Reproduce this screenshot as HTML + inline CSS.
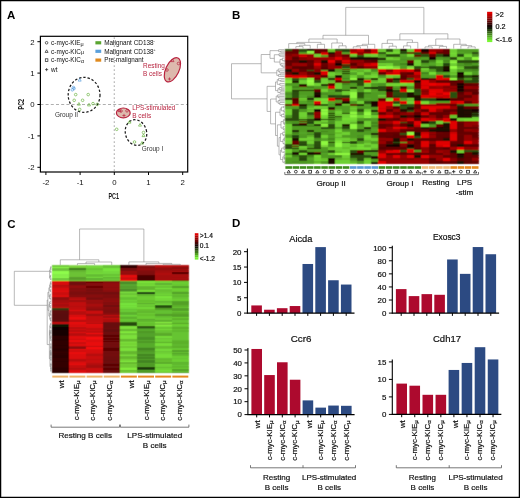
<!DOCTYPE html>
<html><head><meta charset="utf-8"><style>
html,body{margin:0;padding:0;background:#fff;}
svg{display:block;font-family:"Liberation Sans", sans-serif;}
</style></head><body>
<svg width="520" height="498" viewBox="0 0 520 498">
<defs><filter id="noop" x="0" y="0" width="100%" height="100%"><feOffset dx="0" dy="0"/></filter><filter id="hb" x="-2%" y="-2%" width="104%" height="104%"><feConvolveMatrix order="3" kernelMatrix="1 2 1 2 10 2 1 2 1" divisor="22" edgeMode="duplicate"/></filter></defs>
<g filter="url(#noop)">
<rect x="0.625" y="0.625" width="518.75" height="496.75" fill="#fff" stroke="#000" stroke-width="1.25"/>
<text x="7" y="19.2" font-size="11.5" text-anchor="start" fill="#000" font-weight="bold"  stroke="#000" stroke-width="0.0">A</text>
<text x="232" y="18.9" font-size="11.5" text-anchor="start" fill="#000" font-weight="bold"  stroke="#000" stroke-width="0.0">B</text>
<text x="7.3" y="227.8" font-size="11.5" text-anchor="start" fill="#000" font-weight="bold"  stroke="#000" stroke-width="0.0">C</text>
<text x="232" y="227.2" font-size="11.5" text-anchor="start" fill="#000" font-weight="bold"  stroke="#000" stroke-width="0.0">D</text>
<line x1="40.4" y1="104.5" x2="187.7" y2="104.5" stroke="#9a9a9a" stroke-width="0.8" stroke-dasharray="3,2.2"/>
<line x1="114.3" y1="37.3" x2="114.3" y2="172.0" stroke="#b8b8b8" stroke-width="1.2" stroke-dasharray="1.7,2.3"/>
<rect x="40.4" y="36.3" width="147.29999999999998" height="135.7" fill="none" stroke="#000" stroke-width="1.2"/>
<line x1="37.4" y1="41.7" x2="40.4" y2="41.7" stroke="#000" stroke-width="1" />
<text x="34.6" y="44.5" font-size="7.8" text-anchor="end" fill="#111" font-weight="normal"  stroke="#111" stroke-width="0.0">2</text>
<line x1="37.4" y1="73.1" x2="40.4" y2="73.1" stroke="#000" stroke-width="1" />
<text x="34.6" y="75.89999999999999" font-size="7.8" text-anchor="end" fill="#111" font-weight="normal"  stroke="#111" stroke-width="0.0">1</text>
<line x1="37.4" y1="104.5" x2="40.4" y2="104.5" stroke="#000" stroke-width="1" />
<text x="34.6" y="107.3" font-size="7.8" text-anchor="end" fill="#111" font-weight="normal"  stroke="#111" stroke-width="0.0">0</text>
<line x1="37.4" y1="135.9" x2="40.4" y2="135.9" stroke="#000" stroke-width="1" />
<text x="34.6" y="138.70000000000002" font-size="7.8" text-anchor="end" fill="#111" font-weight="normal"  stroke="#111" stroke-width="0.0">-1</text>
<line x1="37.4" y1="167.3" x2="40.4" y2="167.3" stroke="#000" stroke-width="1" />
<text x="34.6" y="170.10000000000002" font-size="7.8" text-anchor="end" fill="#111" font-weight="normal"  stroke="#111" stroke-width="0.0">-2</text>
<line x1="45.89999999999999" y1="172.0" x2="45.89999999999999" y2="175.0" stroke="#000" stroke-width="1" />
<text x="45.89999999999999" y="185.4" font-size="7.8" text-anchor="middle" fill="#111" font-weight="normal"  stroke="#111" stroke-width="0.0">-2</text>
<line x1="80.1" y1="172.0" x2="80.1" y2="175.0" stroke="#000" stroke-width="1" />
<text x="80.1" y="185.4" font-size="7.8" text-anchor="middle" fill="#111" font-weight="normal"  stroke="#111" stroke-width="0.0">-1</text>
<line x1="114.3" y1="172.0" x2="114.3" y2="175.0" stroke="#000" stroke-width="1" />
<text x="114.3" y="185.4" font-size="7.8" text-anchor="middle" fill="#111" font-weight="normal"  stroke="#111" stroke-width="0.0">0</text>
<line x1="148.5" y1="172.0" x2="148.5" y2="175.0" stroke="#000" stroke-width="1" />
<text x="148.5" y="185.4" font-size="7.8" text-anchor="middle" fill="#111" font-weight="normal"  stroke="#111" stroke-width="0.0">1</text>
<line x1="182.7" y1="172.0" x2="182.7" y2="175.0" stroke="#000" stroke-width="1" />
<text x="182.7" y="185.4" font-size="7.8" text-anchor="middle" fill="#111" font-weight="normal"  stroke="#111" stroke-width="0.0">2</text>
<text x="0" y="0" font-size="9.4" fill="#1a1a1a" font-weight="bold" text-anchor="middle" transform="translate(113.7,198.7) scale(0.58,1)" stroke="#1a1a1a" stroke-width="0.0">PC1</text>
<text x="0" y="0" font-size="9.4" fill="#1a1a1a" font-weight="bold" text-anchor="middle" transform="translate(23.9,104.2) rotate(-90) scale(0.58,1)" stroke="#1a1a1a" stroke-width="0.0">PC2</text>
<circle cx="46.6" cy="42.8" r="1.3" fill="none" stroke="#222" stroke-width="0.7"/>
<path d="M46.6,49.805 L48.095,52.42125 L45.105000000000004,52.42125 Z" fill="none" stroke="#222" stroke-width="0.7"/>
<rect x="45.300000000000004" y="58.800000000000004" width="2.6" height="2.6" fill="none" stroke="#222" stroke-width="0.7"/>
<path d="M45.04,69.6 H48.160000000000004 M46.6,68.03999999999999 V71.16" stroke="#222" stroke-width="0.7"/>
<text x="51.1" y="45.099999999999994" font-size="6.4" fill="#111" text-anchor="start"  stroke="#111" stroke-width="0.0">c-myc-KIE<tspan font-size="5.44" dy="0.77">μ</tspan></text>
<text x="51.1" y="53.599999999999994" font-size="6.4" fill="#111" text-anchor="start"  stroke="#111" stroke-width="0.0">c-myc-KIC<tspan font-size="5.44" dy="0.77">μ</tspan></text>
<text x="51.1" y="62.4" font-size="6.4" fill="#111" text-anchor="start"  stroke="#111" stroke-width="0.0">c-myc-KIC<tspan font-size="5.44" dy="0.77">α</tspan></text>
<text x="51.1" y="71.89999999999999" font-size="6.4" text-anchor="start" fill="#111" font-weight="normal"  stroke="#111" stroke-width="0.0">wt</text>
<rect x="95.40" y="41.20" width="5.80" height="3.20" fill="#5aa531" />
<rect x="95.40" y="49.70" width="5.80" height="3.20" fill="#5aa0dc" />
<rect x="95.40" y="58.50" width="5.80" height="3.20" fill="#e08a1e" />
<text x="104.2" y="45.099999999999994" font-size="6.4" fill="#111" stroke="#111" stroke-width="0.0">Malignant CD138<tspan font-size="3.4" dy="-2.9">-</tspan></text>
<text x="104.2" y="53.599999999999994" font-size="6.4" fill="#111" stroke="#111" stroke-width="0.0">Malignant CD138<tspan font-size="3.6" dy="-2.7">+</tspan></text>
<text x="104.2" y="62.4" font-size="6.3" text-anchor="start" fill="#111" font-weight="normal"  stroke="#111" stroke-width="0.0">Pre-malignant</text>
<ellipse cx="172.4" cy="69.8" rx="13" ry="6.6" transform="rotate(-65 172.4 69.8)" fill="#ddb9ad" stroke="#b8233f" stroke-width="1.2"/>
<ellipse cx="123.3" cy="112.9" rx="6.9" ry="4.9" fill="#ddb9ad" stroke="#b8233f" stroke-width="1.2"/>
<ellipse cx="84.1" cy="94.9" rx="15.9" ry="17.5" fill="none" stroke="#1a1a1a" stroke-width="1.25" stroke-dasharray="2.4,1.9"/>
<ellipse cx="136" cy="132.6" rx="10.6" ry="13" transform="rotate(-15 136 132.6)" fill="none" stroke="#1a1a1a" stroke-width="1.25" stroke-dasharray="2.4,1.9"/>
<path d="M79.7,78.505 L81.19500000000001,81.12125 L78.205,81.12125 Z" fill="none" stroke="#5a9fe0" stroke-width="0.7"/>
<circle cx="73.4" cy="87.5" r="1.3" fill="none" stroke="#5a9fe0" stroke-width="0.7"/>
<circle cx="72.3" cy="89.8" r="1.3" fill="none" stroke="#5a9fe0" stroke-width="0.7"/>
<circle cx="74.0" cy="88.6" r="1.3" fill="none" stroke="#5a9fe0" stroke-width="0.7"/>
<circle cx="75.7" cy="94.6" r="1.3" fill="none" stroke="#6cb543" stroke-width="0.7"/>
<circle cx="88.2" cy="94.6" r="1.3" fill="none" stroke="#6cb543" stroke-width="0.7"/>
<circle cx="74.2" cy="100.3" r="1.3" fill="none" stroke="#6cb543" stroke-width="0.7"/>
<circle cx="82.6" cy="100.3" r="1.3" fill="none" stroke="#6cb543" stroke-width="0.7"/>
<path d="M78.9,102.505 L80.39500000000001,105.12125 L77.405,105.12125 Z" fill="none" stroke="#6cb543" stroke-width="0.7"/>
<path d="M89.0,103.30499999999999 L90.495,105.92125 L87.505,105.92125 Z" fill="none" stroke="#6cb543" stroke-width="0.7"/>
<circle cx="93.0" cy="103.6" r="1.3" fill="none" stroke="#6cb543" stroke-width="0.7"/>
<circle cx="97.2" cy="104.4" r="1.3" fill="none" stroke="#6cb543" stroke-width="0.7"/>
<circle cx="79.7" cy="109.4" r="1.3" fill="none" stroke="#6cb543" stroke-width="0.7"/>
<circle cx="116.7" cy="129.3" r="1.3" fill="none" stroke="#6cb543" stroke-width="0.7"/>
<path d="M129.5,120.505 L130.995,123.12125 L128.005,123.12125 Z" fill="none" stroke="#6cb543" stroke-width="0.7"/>
<path d="M140.0,123.505 L141.495,126.12125 L138.505,126.12125 Z" fill="none" stroke="#6cb543" stroke-width="0.7"/>
<circle cx="143.5" cy="132.5" r="1.3" fill="none" stroke="#6cb543" stroke-width="0.7"/>
<path d="M143.5,134.005 L144.995,136.62125 L142.005,136.62125 Z" fill="none" stroke="#6cb543" stroke-width="0.7"/>
<circle cx="134.5" cy="142.0" r="1.3" fill="none" stroke="#6cb543" stroke-width="0.7"/>
<path d="M142.0,141.505 L143.495,144.12125 L140.505,144.12125 Z" fill="none" stroke="#6cb543" stroke-width="0.7"/>
<path d="M119.5,109.005 L120.995,111.62125 L118.005,111.62125 Z" fill="none" stroke="#b8233f" stroke-width="0.7"/>
<circle cx="127.0" cy="110.8" r="1.3" fill="none" stroke="#b8233f" stroke-width="0.7"/>
<path d="M122.44,115.5 H125.56 M124.0,113.94 V117.06" stroke="#b8233f" stroke-width="0.7"/>
<circle cx="121.0" cy="111.0" r="1.3" fill="none" stroke="#b8233f" stroke-width="0.7"/>
<path d="M172.5,59.005 L173.995,61.62125 L171.005,61.62125 Z" fill="none" stroke="#b8233f" stroke-width="0.7"/>
<circle cx="178.5" cy="63.5" r="1.3" fill="none" stroke="#b8233f" stroke-width="0.7"/>
<circle cx="167.0" cy="70.0" r="1.3" fill="none" stroke="#b8233f" stroke-width="0.7"/>
<path d="M167.94,79.0 H171.06 M169.5,77.44 V80.56" stroke="#b8233f" stroke-width="0.7"/>
<text x="143.0" y="67.9" font-size="6.45" text-anchor="start" fill="#b8233f" font-weight="normal"  stroke="#b8233f" stroke-width="0.0">Resting</text>
<text x="143.0" y="75.7" font-size="6.45" text-anchor="start" fill="#b8233f" font-weight="normal"  stroke="#b8233f" stroke-width="0.0">B cells</text>
<text x="132.2" y="110.1" font-size="6.35" text-anchor="start" fill="#b8233f" font-weight="normal"  stroke="#b8233f" stroke-width="0.0">LPS-stimulated</text>
<text x="132.2" y="117.7" font-size="6.45" text-anchor="start" fill="#b8233f" font-weight="normal"  stroke="#b8233f" stroke-width="0.0">B cells</text>
<text x="54.9" y="116.9" font-size="6.45" text-anchor="start" fill="#333" font-weight="normal"  stroke="#333" stroke-width="0.0">Group II</text>
<text x="141.8" y="150.7" font-size="6.45" text-anchor="start" fill="#333" font-weight="normal"  stroke="#333" stroke-width="0.0">Group I</text>
<clipPath id="cpB"><rect x="285.1" y="48.7" width="193.70" height="115.40"/></clipPath>
<g filter="url(#hb)"><g shape-rendering="crispEdges" clip-path="url(#cpB)">
<rect x="285.10" y="48.70" width="7.77" height="1.32" fill="#640303" />
<rect x="285.10" y="49.42" width="7.77" height="2.19" fill="#2a4e10" />
<rect x="285.10" y="51.01" width="7.77" height="1.18" fill="#640303" />
<rect x="285.10" y="51.59" width="7.77" height="3.48" fill="#640303" />
<rect x="285.10" y="53.03" width="7.77" height="1.74" fill="#6b0303" />
<rect x="285.10" y="54.47" width="7.77" height="3.48" fill="#960404" />
<rect x="285.10" y="54.47" width="7.77" height="1.74" fill="#810303" />
<rect x="285.10" y="57.36" width="7.77" height="3.48" fill="#960404" />
<rect x="285.10" y="58.80" width="7.77" height="1.74" fill="#a00404" />
<rect x="285.10" y="60.24" width="7.77" height="3.48" fill="#640303" />
<rect x="285.10" y="60.24" width="7.77" height="1.74" fill="#5c0202" />
<rect x="285.10" y="63.12" width="7.77" height="3.48" fill="#640303" />
<rect x="285.10" y="66.01" width="7.77" height="3.48" fill="#960404" />
<rect x="285.10" y="68.90" width="7.77" height="3.48" fill="#1e0702" />
<rect x="285.10" y="71.78" width="7.77" height="3.48" fill="#640303" />
<rect x="285.10" y="74.66" width="7.77" height="3.48" fill="#e00606" />
<rect x="285.10" y="76.11" width="7.77" height="1.74" fill="#c00505" />
<rect x="285.10" y="77.55" width="7.77" height="3.48" fill="#6ed030" />
<rect x="285.10" y="80.44" width="7.77" height="3.48" fill="#8ef840" />
<rect x="285.10" y="80.44" width="7.77" height="1.74" fill="#82e43a" />
<rect x="285.10" y="83.32" width="7.77" height="3.48" fill="#4f9c24" />
<rect x="285.10" y="84.76" width="7.77" height="1.74" fill="#54a626" />
<rect x="285.10" y="86.20" width="7.77" height="3.48" fill="#6ed030" />
<rect x="285.10" y="89.09" width="7.77" height="3.48" fill="#6ed030" />
<rect x="285.10" y="90.53" width="7.77" height="1.74" fill="#65bf2c" />
<rect x="285.10" y="91.97" width="7.77" height="3.48" fill="#4f9c24" />
<rect x="285.10" y="93.42" width="7.77" height="1.74" fill="#488f21" />
<rect x="285.10" y="94.86" width="7.77" height="3.48" fill="#4f9c24" />
<rect x="285.10" y="97.75" width="7.77" height="1.32" fill="#4f9c24" />
<rect x="285.10" y="98.47" width="7.77" height="2.19" fill="#1e0702" />
<rect x="285.10" y="100.05" width="7.77" height="1.18" fill="#6ed030" />
<rect x="285.10" y="100.63" width="7.77" height="3.48" fill="#6ed030" />
<rect x="285.10" y="103.52" width="7.77" height="1.32" fill="#6ed030" />
<rect x="285.10" y="104.24" width="7.77" height="2.19" fill="#640303" />
<rect x="285.10" y="105.82" width="7.77" height="1.18" fill="#4f9c24" />
<rect x="285.10" y="106.40" width="7.77" height="3.48" fill="#4f9c24" />
<rect x="285.10" y="106.40" width="7.77" height="1.74" fill="#54a626" />
<rect x="285.10" y="109.28" width="7.77" height="3.48" fill="#6ed030" />
<rect x="285.10" y="112.17" width="7.77" height="3.48" fill="#6ed030" />
<rect x="285.10" y="115.05" width="7.77" height="3.48" fill="#4f9c24" />
<rect x="285.10" y="117.94" width="7.77" height="3.48" fill="#2a4e10" />
<rect x="285.10" y="120.83" width="7.77" height="3.48" fill="#4f9c24" />
<rect x="285.10" y="123.71" width="7.77" height="3.48" fill="#6ed030" />
<rect x="285.10" y="126.59" width="7.77" height="3.48" fill="#6ed030" />
<rect x="285.10" y="129.48" width="7.77" height="3.48" fill="#6ed030" />
<rect x="285.10" y="132.37" width="7.77" height="3.48" fill="#6ed030" />
<rect x="285.10" y="133.81" width="7.77" height="1.74" fill="#5eb229" />
<rect x="285.10" y="135.25" width="7.77" height="3.48" fill="#4f9c24" />
<rect x="285.10" y="138.13" width="7.77" height="3.48" fill="#6ed030" />
<rect x="285.10" y="138.13" width="7.77" height="1.74" fill="#75de33" />
<rect x="285.10" y="141.02" width="7.77" height="3.48" fill="#6ed030" />
<rect x="285.10" y="143.91" width="7.77" height="3.48" fill="#2a4e10" />
<rect x="285.10" y="146.79" width="7.77" height="1.32" fill="#2a4e10" />
<rect x="285.10" y="147.51" width="7.77" height="2.19" fill="#1e0702" />
<rect x="285.10" y="149.10" width="7.77" height="1.18" fill="#6ed030" />
<rect x="285.10" y="149.68" width="7.77" height="3.48" fill="#6ed030" />
<rect x="285.10" y="152.56" width="7.77" height="3.48" fill="#4f9c24" />
<rect x="285.10" y="154.00" width="7.77" height="1.74" fill="#488f21" />
<rect x="285.10" y="155.44" width="7.77" height="3.48" fill="#6ed030" />
<rect x="285.10" y="156.89" width="7.77" height="1.74" fill="#5eb229" />
<rect x="285.10" y="158.33" width="7.77" height="3.48" fill="#4f9c24" />
<rect x="285.10" y="161.21" width="7.77" height="3.48" fill="#4f9c24" />
<rect x="285.10" y="162.66" width="7.77" height="1.74" fill="#43861e" />
<rect x="292.27" y="48.70" width="7.77" height="3.48" fill="#640303" />
<rect x="292.27" y="48.70" width="7.77" height="1.74" fill="#560202" />
<rect x="292.27" y="51.59" width="7.77" height="3.48" fill="#640303" />
<rect x="292.27" y="53.03" width="7.77" height="1.74" fill="#6b0303" />
<rect x="292.27" y="54.47" width="7.77" height="3.48" fill="#960404" />
<rect x="292.27" y="55.91" width="7.77" height="1.74" fill="#810303" />
<rect x="292.27" y="57.36" width="7.77" height="3.48" fill="#640303" />
<rect x="292.27" y="57.36" width="7.77" height="1.74" fill="#560202" />
<rect x="292.27" y="60.24" width="7.77" height="3.48" fill="#640303" />
<rect x="292.27" y="60.24" width="7.77" height="1.74" fill="#5c0202" />
<rect x="292.27" y="63.12" width="7.77" height="3.48" fill="#960404" />
<rect x="292.27" y="66.01" width="7.77" height="3.48" fill="#640303" />
<rect x="292.27" y="67.45" width="7.77" height="1.74" fill="#5c0202" />
<rect x="292.27" y="68.90" width="7.77" height="3.48" fill="#960404" />
<rect x="292.27" y="71.78" width="7.77" height="3.48" fill="#1e0702" />
<rect x="292.27" y="74.66" width="7.77" height="3.48" fill="#e00606" />
<rect x="292.27" y="74.66" width="7.77" height="1.74" fill="#c00505" />
<rect x="292.27" y="77.55" width="7.77" height="1.32" fill="#e00606" />
<rect x="292.27" y="78.27" width="7.77" height="2.19" fill="#2a4e10" />
<rect x="292.27" y="79.86" width="7.77" height="1.18" fill="#1e0702" />
<rect x="292.27" y="80.44" width="7.77" height="1.32" fill="#2a4e10" />
<rect x="292.27" y="81.16" width="7.77" height="2.19" fill="#1e0702" />
<rect x="292.27" y="82.74" width="7.77" height="1.18" fill="#4f9c24" />
<rect x="292.27" y="83.32" width="7.77" height="3.48" fill="#4f9c24" />
<rect x="292.27" y="86.20" width="7.77" height="3.48" fill="#4f9c24" />
<rect x="292.27" y="86.20" width="7.77" height="1.74" fill="#43861e" />
<rect x="292.27" y="89.09" width="7.77" height="1.32" fill="#4f9c24" />
<rect x="292.27" y="89.81" width="7.77" height="2.19" fill="#1e0702" />
<rect x="292.27" y="91.40" width="7.77" height="1.18" fill="#2a4e10" />
<rect x="292.27" y="91.97" width="7.77" height="3.48" fill="#2a4e10" />
<rect x="292.27" y="94.86" width="7.77" height="3.48" fill="#2a4e10" />
<rect x="292.27" y="94.86" width="7.77" height="1.74" fill="#2c5311" />
<rect x="292.27" y="97.75" width="7.77" height="3.48" fill="#640303" />
<rect x="292.27" y="99.19" width="7.77" height="1.74" fill="#560202" />
<rect x="292.27" y="100.63" width="7.77" height="3.48" fill="#640303" />
<rect x="292.27" y="103.52" width="7.77" height="3.48" fill="#e00606" />
<rect x="292.27" y="104.96" width="7.77" height="1.74" fill="#ce0505" />
<rect x="292.27" y="106.40" width="7.77" height="3.48" fill="#4f9c24" />
<rect x="292.27" y="109.28" width="7.77" height="3.48" fill="#2a4e10" />
<rect x="292.27" y="109.28" width="7.77" height="1.74" fill="#2c5311" />
<rect x="292.27" y="112.17" width="7.77" height="3.48" fill="#2a4e10" />
<rect x="292.27" y="115.05" width="7.77" height="3.48" fill="#2a4e10" />
<rect x="292.27" y="117.94" width="7.77" height="3.48" fill="#2a4e10" />
<rect x="292.27" y="120.83" width="7.77" height="3.48" fill="#4f9c24" />
<rect x="292.27" y="122.27" width="7.77" height="1.74" fill="#488f21" />
<rect x="292.27" y="123.71" width="7.77" height="1.32" fill="#4f9c24" />
<rect x="292.27" y="124.43" width="7.77" height="2.19" fill="#1e0702" />
<rect x="292.27" y="126.02" width="7.77" height="1.18" fill="#4f9c24" />
<rect x="292.27" y="126.59" width="7.77" height="1.32" fill="#1e0702" />
<rect x="292.27" y="127.32" width="7.77" height="2.19" fill="#4f9c24" />
<rect x="292.27" y="128.90" width="7.77" height="1.18" fill="#1e0702" />
<rect x="292.27" y="129.48" width="7.77" height="1.32" fill="#4f9c24" />
<rect x="292.27" y="130.20" width="7.77" height="2.19" fill="#1e0702" />
<rect x="292.27" y="131.79" width="7.77" height="1.18" fill="#4f9c24" />
<rect x="292.27" y="132.37" width="7.77" height="3.48" fill="#4f9c24" />
<rect x="292.27" y="132.37" width="7.77" height="1.74" fill="#43861e" />
<rect x="292.27" y="135.25" width="7.77" height="3.48" fill="#2a4e10" />
<rect x="292.27" y="135.25" width="7.77" height="1.74" fill="#24430d" />
<rect x="292.27" y="138.13" width="7.77" height="3.48" fill="#1e0702" />
<rect x="292.27" y="141.02" width="7.77" height="3.48" fill="#640303" />
<rect x="292.27" y="141.02" width="7.77" height="1.74" fill="#6b0303" />
<rect x="292.27" y="143.91" width="7.77" height="1.32" fill="#640303" />
<rect x="292.27" y="144.63" width="7.77" height="2.19" fill="#4f9c24" />
<rect x="292.27" y="146.21" width="7.77" height="1.18" fill="#640303" />
<rect x="292.27" y="146.79" width="7.77" height="1.32" fill="#4f9c24" />
<rect x="292.27" y="147.51" width="7.77" height="2.19" fill="#1e0702" />
<rect x="292.27" y="149.10" width="7.77" height="1.18" fill="#4f9c24" />
<rect x="292.27" y="149.68" width="7.77" height="1.32" fill="#640303" />
<rect x="292.27" y="150.40" width="7.77" height="2.19" fill="#4f9c24" />
<rect x="292.27" y="151.98" width="7.77" height="1.18" fill="#1e0702" />
<rect x="292.27" y="152.56" width="7.77" height="1.32" fill="#4f9c24" />
<rect x="292.27" y="153.28" width="7.77" height="2.19" fill="#1e0702" />
<rect x="292.27" y="154.87" width="7.77" height="1.18" fill="#4f9c24" />
<rect x="292.27" y="155.44" width="7.77" height="3.48" fill="#4f9c24" />
<rect x="292.27" y="155.44" width="7.77" height="1.74" fill="#43861e" />
<rect x="292.27" y="158.33" width="7.77" height="3.48" fill="#4f9c24" />
<rect x="292.27" y="161.21" width="7.77" height="3.48" fill="#4f9c24" />
<rect x="292.27" y="161.21" width="7.77" height="1.74" fill="#488f21" />
<rect x="299.45" y="48.70" width="7.77" height="3.48" fill="#2a4e10" />
<rect x="299.45" y="51.59" width="7.77" height="3.48" fill="#4f9c24" />
<rect x="299.45" y="54.47" width="7.77" height="3.48" fill="#e00606" />
<rect x="299.45" y="54.47" width="7.77" height="1.74" fill="#c00505" />
<rect x="299.45" y="57.36" width="7.77" height="3.48" fill="#960404" />
<rect x="299.45" y="57.36" width="7.77" height="1.74" fill="#810303" />
<rect x="299.45" y="60.24" width="7.77" height="3.48" fill="#1e0702" />
<rect x="299.45" y="61.68" width="7.77" height="1.74" fill="#190601" />
<rect x="299.45" y="63.12" width="7.77" height="3.48" fill="#960404" />
<rect x="299.45" y="64.57" width="7.77" height="1.74" fill="#a00404" />
<rect x="299.45" y="66.01" width="7.77" height="3.48" fill="#640303" />
<rect x="299.45" y="67.45" width="7.77" height="1.74" fill="#560202" />
<rect x="299.45" y="68.90" width="7.77" height="3.48" fill="#640303" />
<rect x="299.45" y="71.78" width="7.77" height="3.48" fill="#960404" />
<rect x="299.45" y="74.66" width="7.77" height="3.48" fill="#e00606" />
<rect x="299.45" y="74.66" width="7.77" height="1.74" fill="#c00505" />
<rect x="299.45" y="77.55" width="7.77" height="3.48" fill="#4f9c24" />
<rect x="299.45" y="80.44" width="7.77" height="3.48" fill="#6ed030" />
<rect x="299.45" y="83.32" width="7.77" height="1.32" fill="#6ed030" />
<rect x="299.45" y="84.04" width="7.77" height="2.19" fill="#1e0702" />
<rect x="299.45" y="85.63" width="7.77" height="1.18" fill="#4f9c24" />
<rect x="299.45" y="86.20" width="7.77" height="1.32" fill="#640303" />
<rect x="299.45" y="86.93" width="7.77" height="2.19" fill="#4f9c24" />
<rect x="299.45" y="88.51" width="7.77" height="1.18" fill="#1e0702" />
<rect x="299.45" y="89.09" width="7.77" height="1.32" fill="#4f9c24" />
<rect x="299.45" y="89.81" width="7.77" height="2.19" fill="#1e0702" />
<rect x="299.45" y="91.40" width="7.77" height="1.18" fill="#4f9c24" />
<rect x="299.45" y="91.97" width="7.77" height="3.48" fill="#4f9c24" />
<rect x="299.45" y="94.86" width="7.77" height="3.48" fill="#4f9c24" />
<rect x="299.45" y="94.86" width="7.77" height="1.74" fill="#54a626" />
<rect x="299.45" y="97.75" width="7.77" height="3.48" fill="#6ed030" />
<rect x="299.45" y="99.19" width="7.77" height="1.74" fill="#65bf2c" />
<rect x="299.45" y="100.63" width="7.77" height="3.48" fill="#4f9c24" />
<rect x="299.45" y="102.07" width="7.77" height="1.74" fill="#54a626" />
<rect x="299.45" y="103.52" width="7.77" height="1.32" fill="#4f9c24" />
<rect x="299.45" y="104.24" width="7.77" height="2.19" fill="#1e0702" />
<rect x="299.45" y="105.82" width="7.77" height="1.18" fill="#2a4e10" />
<rect x="299.45" y="106.40" width="7.77" height="3.48" fill="#2a4e10" />
<rect x="299.45" y="107.84" width="7.77" height="1.74" fill="#24430d" />
<rect x="299.45" y="109.28" width="7.77" height="3.48" fill="#4f9c24" />
<rect x="299.45" y="110.73" width="7.77" height="1.74" fill="#488f21" />
<rect x="299.45" y="112.17" width="7.77" height="3.48" fill="#6ed030" />
<rect x="299.45" y="115.05" width="7.77" height="3.48" fill="#6ed030" />
<rect x="299.45" y="116.50" width="7.77" height="1.74" fill="#65bf2c" />
<rect x="299.45" y="117.94" width="7.77" height="1.32" fill="#6ed030" />
<rect x="299.45" y="118.66" width="7.77" height="2.19" fill="#1e0702" />
<rect x="299.45" y="120.25" width="7.77" height="1.18" fill="#4f9c24" />
<rect x="299.45" y="120.83" width="7.77" height="1.32" fill="#640303" />
<rect x="299.45" y="121.55" width="7.77" height="2.19" fill="#4f9c24" />
<rect x="299.45" y="123.13" width="7.77" height="1.18" fill="#640303" />
<rect x="299.45" y="123.71" width="7.77" height="1.32" fill="#4f9c24" />
<rect x="299.45" y="124.43" width="7.77" height="2.19" fill="#1e0702" />
<rect x="299.45" y="126.02" width="7.77" height="1.18" fill="#4f9c24" />
<rect x="299.45" y="126.59" width="7.77" height="3.48" fill="#4f9c24" />
<rect x="299.45" y="129.48" width="7.77" height="3.48" fill="#4f9c24" />
<rect x="299.45" y="132.37" width="7.77" height="3.48" fill="#4f9c24" />
<rect x="299.45" y="132.37" width="7.77" height="1.74" fill="#54a626" />
<rect x="299.45" y="135.25" width="7.77" height="3.48" fill="#4f9c24" />
<rect x="299.45" y="136.69" width="7.77" height="1.74" fill="#488f21" />
<rect x="299.45" y="138.13" width="7.77" height="3.48" fill="#6ed030" />
<rect x="299.45" y="139.58" width="7.77" height="1.74" fill="#65bf2c" />
<rect x="299.45" y="141.02" width="7.77" height="3.48" fill="#2a4e10" />
<rect x="299.45" y="143.91" width="7.77" height="1.32" fill="#2a4e10" />
<rect x="299.45" y="144.63" width="7.77" height="2.19" fill="#1e0702" />
<rect x="299.45" y="146.21" width="7.77" height="1.18" fill="#6ed030" />
<rect x="299.45" y="146.79" width="7.77" height="3.48" fill="#6ed030" />
<rect x="299.45" y="148.23" width="7.77" height="1.74" fill="#65bf2c" />
<rect x="299.45" y="149.68" width="7.77" height="3.48" fill="#2a4e10" />
<rect x="299.45" y="149.68" width="7.77" height="1.74" fill="#26470e" />
<rect x="299.45" y="152.56" width="7.77" height="3.48" fill="#6ed030" />
<rect x="299.45" y="152.56" width="7.77" height="1.74" fill="#75de33" />
<rect x="299.45" y="155.44" width="7.77" height="3.48" fill="#2a4e10" />
<rect x="299.45" y="156.89" width="7.77" height="1.74" fill="#2c5311" />
<rect x="299.45" y="158.33" width="7.77" height="3.48" fill="#2a4e10" />
<rect x="299.45" y="158.33" width="7.77" height="1.74" fill="#26470e" />
<rect x="299.45" y="161.21" width="7.77" height="3.48" fill="#4f9c24" />
<rect x="299.45" y="162.66" width="7.77" height="1.74" fill="#43861e" />
<rect x="306.62" y="48.70" width="7.77" height="1.32" fill="#8ef840" />
<rect x="306.62" y="49.42" width="7.77" height="2.19" fill="#1e0702" />
<rect x="306.62" y="51.01" width="7.77" height="1.18" fill="#8ef840" />
<rect x="306.62" y="51.59" width="7.77" height="3.48" fill="#8ef840" />
<rect x="306.62" y="53.03" width="7.77" height="1.74" fill="#7ad537" />
<rect x="306.62" y="54.47" width="7.77" height="3.48" fill="#960404" />
<rect x="306.62" y="57.36" width="7.77" height="3.48" fill="#960404" />
<rect x="306.62" y="60.24" width="7.77" height="3.48" fill="#640303" />
<rect x="306.62" y="60.24" width="7.77" height="1.74" fill="#5c0202" />
<rect x="306.62" y="63.12" width="7.77" height="3.48" fill="#640303" />
<rect x="306.62" y="63.12" width="7.77" height="1.74" fill="#6b0303" />
<rect x="306.62" y="66.01" width="7.77" height="3.48" fill="#640303" />
<rect x="306.62" y="66.01" width="7.77" height="1.74" fill="#5c0202" />
<rect x="306.62" y="68.90" width="7.77" height="1.32" fill="#640303" />
<rect x="306.62" y="69.62" width="7.77" height="2.19" fill="#2a4e10" />
<rect x="306.62" y="71.20" width="7.77" height="1.18" fill="#640303" />
<rect x="306.62" y="71.78" width="7.77" height="3.48" fill="#640303" />
<rect x="306.62" y="74.66" width="7.77" height="3.48" fill="#960404" />
<rect x="306.62" y="77.55" width="7.77" height="3.48" fill="#8ef840" />
<rect x="306.62" y="78.99" width="7.77" height="1.74" fill="#82e43a" />
<rect x="306.62" y="80.44" width="7.77" height="3.48" fill="#8ef840" />
<rect x="306.62" y="80.44" width="7.77" height="1.74" fill="#97ff44" />
<rect x="306.62" y="83.32" width="7.77" height="3.48" fill="#8ef840" />
<rect x="306.62" y="84.76" width="7.77" height="1.74" fill="#7ad537" />
<rect x="306.62" y="86.20" width="7.77" height="3.48" fill="#4f9c24" />
<rect x="306.62" y="86.20" width="7.77" height="1.74" fill="#43861e" />
<rect x="306.62" y="89.09" width="7.77" height="1.32" fill="#4f9c24" />
<rect x="306.62" y="89.81" width="7.77" height="2.19" fill="#1e0702" />
<rect x="306.62" y="91.40" width="7.77" height="1.18" fill="#4f9c24" />
<rect x="306.62" y="91.97" width="7.77" height="3.48" fill="#4f9c24" />
<rect x="306.62" y="94.86" width="7.77" height="3.48" fill="#4f9c24" />
<rect x="306.62" y="96.30" width="7.77" height="1.74" fill="#43861e" />
<rect x="306.62" y="97.75" width="7.77" height="1.32" fill="#4f9c24" />
<rect x="306.62" y="98.47" width="7.77" height="2.19" fill="#1e0702" />
<rect x="306.62" y="100.05" width="7.77" height="1.18" fill="#4f9c24" />
<rect x="306.62" y="100.63" width="7.77" height="3.48" fill="#4f9c24" />
<rect x="306.62" y="100.63" width="7.77" height="1.74" fill="#43861e" />
<rect x="306.62" y="103.52" width="7.77" height="3.48" fill="#4f9c24" />
<rect x="306.62" y="103.52" width="7.77" height="1.74" fill="#43861e" />
<rect x="306.62" y="106.40" width="7.77" height="3.48" fill="#6ed030" />
<rect x="306.62" y="106.40" width="7.77" height="1.74" fill="#5eb229" />
<rect x="306.62" y="109.28" width="7.77" height="3.48" fill="#6ed030" />
<rect x="306.62" y="109.28" width="7.77" height="1.74" fill="#5eb229" />
<rect x="306.62" y="112.17" width="7.77" height="3.48" fill="#2a4e10" />
<rect x="306.62" y="112.17" width="7.77" height="1.74" fill="#2c5311" />
<rect x="306.62" y="115.05" width="7.77" height="3.48" fill="#4f9c24" />
<rect x="306.62" y="115.05" width="7.77" height="1.74" fill="#488f21" />
<rect x="306.62" y="117.94" width="7.77" height="1.32" fill="#4f9c24" />
<rect x="306.62" y="118.66" width="7.77" height="2.19" fill="#1e0702" />
<rect x="306.62" y="120.25" width="7.77" height="1.18" fill="#2a4e10" />
<rect x="306.62" y="120.83" width="7.77" height="3.48" fill="#2a4e10" />
<rect x="306.62" y="122.27" width="7.77" height="1.74" fill="#24430d" />
<rect x="306.62" y="123.71" width="7.77" height="3.48" fill="#4f9c24" />
<rect x="306.62" y="125.15" width="7.77" height="1.74" fill="#43861e" />
<rect x="306.62" y="126.59" width="7.77" height="3.48" fill="#4f9c24" />
<rect x="306.62" y="126.59" width="7.77" height="1.74" fill="#54a626" />
<rect x="306.62" y="129.48" width="7.77" height="1.32" fill="#4f9c24" />
<rect x="306.62" y="130.20" width="7.77" height="2.19" fill="#1e0702" />
<rect x="306.62" y="131.79" width="7.77" height="1.18" fill="#4f9c24" />
<rect x="306.62" y="132.37" width="7.77" height="3.48" fill="#4f9c24" />
<rect x="306.62" y="133.81" width="7.77" height="1.74" fill="#43861e" />
<rect x="306.62" y="135.25" width="7.77" height="3.48" fill="#6ed030" />
<rect x="306.62" y="135.25" width="7.77" height="1.74" fill="#5eb229" />
<rect x="306.62" y="138.13" width="7.77" height="3.48" fill="#6ed030" />
<rect x="306.62" y="139.58" width="7.77" height="1.74" fill="#65bf2c" />
<rect x="306.62" y="141.02" width="7.77" height="3.48" fill="#6ed030" />
<rect x="306.62" y="143.91" width="7.77" height="3.48" fill="#4f9c24" />
<rect x="306.62" y="143.91" width="7.77" height="1.74" fill="#488f21" />
<rect x="306.62" y="146.79" width="7.77" height="1.32" fill="#4f9c24" />
<rect x="306.62" y="147.51" width="7.77" height="2.19" fill="#1e0702" />
<rect x="306.62" y="149.10" width="7.77" height="1.18" fill="#4f9c24" />
<rect x="306.62" y="149.68" width="7.77" height="1.32" fill="#640303" />
<rect x="306.62" y="150.40" width="7.77" height="2.19" fill="#4f9c24" />
<rect x="306.62" y="151.98" width="7.77" height="1.18" fill="#1e0702" />
<rect x="306.62" y="152.56" width="7.77" height="1.32" fill="#4f9c24" />
<rect x="306.62" y="153.28" width="7.77" height="2.19" fill="#1e0702" />
<rect x="306.62" y="154.87" width="7.77" height="1.18" fill="#4f9c24" />
<rect x="306.62" y="155.44" width="7.77" height="3.48" fill="#4f9c24" />
<rect x="306.62" y="155.44" width="7.77" height="1.74" fill="#43861e" />
<rect x="306.62" y="158.33" width="7.77" height="3.48" fill="#4f9c24" />
<rect x="306.62" y="158.33" width="7.77" height="1.74" fill="#54a626" />
<rect x="306.62" y="161.21" width="7.77" height="3.48" fill="#4f9c24" />
<rect x="313.80" y="48.70" width="7.77" height="3.48" fill="#640303" />
<rect x="313.80" y="48.70" width="7.77" height="1.74" fill="#560202" />
<rect x="313.80" y="51.59" width="7.77" height="3.48" fill="#640303" />
<rect x="313.80" y="53.03" width="7.77" height="1.74" fill="#5c0202" />
<rect x="313.80" y="54.47" width="7.77" height="3.48" fill="#6ed030" />
<rect x="313.80" y="57.36" width="7.77" height="3.48" fill="#960404" />
<rect x="313.80" y="58.80" width="7.77" height="1.74" fill="#8a0303" />
<rect x="313.80" y="60.24" width="7.77" height="3.48" fill="#960404" />
<rect x="313.80" y="60.24" width="7.77" height="1.74" fill="#a00404" />
<rect x="313.80" y="63.12" width="7.77" height="3.48" fill="#e00606" />
<rect x="313.80" y="64.57" width="7.77" height="1.74" fill="#ce0505" />
<rect x="313.80" y="66.01" width="7.77" height="3.48" fill="#960404" />
<rect x="313.80" y="66.01" width="7.77" height="1.74" fill="#a00404" />
<rect x="313.80" y="68.90" width="7.77" height="3.48" fill="#960404" />
<rect x="313.80" y="68.90" width="7.77" height="1.74" fill="#810303" />
<rect x="313.80" y="71.78" width="7.77" height="3.48" fill="#1e0702" />
<rect x="313.80" y="74.66" width="7.77" height="3.48" fill="#960404" />
<rect x="313.80" y="77.55" width="7.77" height="3.48" fill="#640303" />
<rect x="313.80" y="80.44" width="7.77" height="3.48" fill="#2a4e10" />
<rect x="313.80" y="81.88" width="7.77" height="1.74" fill="#2c5311" />
<rect x="313.80" y="83.32" width="7.77" height="3.48" fill="#6ed030" />
<rect x="313.80" y="86.20" width="7.77" height="3.48" fill="#4f9c24" />
<rect x="313.80" y="89.09" width="7.77" height="3.48" fill="#640303" />
<rect x="313.80" y="91.97" width="7.77" height="3.48" fill="#1e0702" />
<rect x="313.80" y="94.86" width="7.77" height="3.48" fill="#1e0702" />
<rect x="313.80" y="94.86" width="7.77" height="1.74" fill="#1b0601" />
<rect x="313.80" y="97.75" width="7.77" height="3.48" fill="#6ed030" />
<rect x="313.80" y="100.63" width="7.77" height="3.48" fill="#e00606" />
<rect x="313.80" y="103.52" width="7.77" height="3.48" fill="#640303" />
<rect x="313.80" y="106.40" width="7.77" height="3.48" fill="#6ed030" />
<rect x="313.80" y="109.28" width="7.77" height="3.48" fill="#1e0702" />
<rect x="313.80" y="109.28" width="7.77" height="1.74" fill="#190601" />
<rect x="313.80" y="112.17" width="7.77" height="3.48" fill="#960404" />
<rect x="313.80" y="113.61" width="7.77" height="1.74" fill="#8a0303" />
<rect x="313.80" y="115.05" width="7.77" height="3.48" fill="#960404" />
<rect x="313.80" y="117.94" width="7.77" height="3.48" fill="#1e0702" />
<rect x="313.80" y="119.38" width="7.77" height="1.74" fill="#1b0601" />
<rect x="313.80" y="120.83" width="7.77" height="3.48" fill="#6ed030" />
<rect x="313.80" y="120.83" width="7.77" height="1.74" fill="#65bf2c" />
<rect x="313.80" y="123.71" width="7.77" height="1.32" fill="#6ed030" />
<rect x="313.80" y="124.43" width="7.77" height="2.19" fill="#1e0702" />
<rect x="313.80" y="126.02" width="7.77" height="1.18" fill="#4f9c24" />
<rect x="313.80" y="126.59" width="7.77" height="3.48" fill="#4f9c24" />
<rect x="313.80" y="129.48" width="7.77" height="3.48" fill="#4f9c24" />
<rect x="313.80" y="130.92" width="7.77" height="1.74" fill="#54a626" />
<rect x="313.80" y="132.37" width="7.77" height="3.48" fill="#2a4e10" />
<rect x="313.80" y="133.81" width="7.77" height="1.74" fill="#24430d" />
<rect x="313.80" y="135.25" width="7.77" height="3.48" fill="#2a4e10" />
<rect x="313.80" y="135.25" width="7.77" height="1.74" fill="#26470e" />
<rect x="313.80" y="138.13" width="7.77" height="3.48" fill="#4f9c24" />
<rect x="313.80" y="138.13" width="7.77" height="1.74" fill="#488f21" />
<rect x="313.80" y="141.02" width="7.77" height="3.48" fill="#2a4e10" />
<rect x="313.80" y="142.46" width="7.77" height="1.74" fill="#2c5311" />
<rect x="313.80" y="143.91" width="7.77" height="3.48" fill="#2a4e10" />
<rect x="313.80" y="146.79" width="7.77" height="1.32" fill="#2a4e10" />
<rect x="313.80" y="147.51" width="7.77" height="2.19" fill="#1e0702" />
<rect x="313.80" y="149.10" width="7.77" height="1.18" fill="#4f9c24" />
<rect x="313.80" y="149.68" width="7.77" height="1.32" fill="#1e0702" />
<rect x="313.80" y="150.40" width="7.77" height="2.19" fill="#4f9c24" />
<rect x="313.80" y="151.98" width="7.77" height="1.18" fill="#640303" />
<rect x="313.80" y="152.56" width="7.77" height="1.32" fill="#4f9c24" />
<rect x="313.80" y="153.28" width="7.77" height="2.19" fill="#1e0702" />
<rect x="313.80" y="154.87" width="7.77" height="1.18" fill="#6ed030" />
<rect x="313.80" y="155.44" width="7.77" height="3.48" fill="#6ed030" />
<rect x="313.80" y="155.44" width="7.77" height="1.74" fill="#75de33" />
<rect x="313.80" y="158.33" width="7.77" height="3.48" fill="#6ed030" />
<rect x="313.80" y="161.21" width="7.77" height="3.48" fill="#6ed030" />
<rect x="313.80" y="161.21" width="7.77" height="1.74" fill="#5eb229" />
<rect x="320.97" y="48.70" width="7.77" height="3.48" fill="#640303" />
<rect x="320.97" y="48.70" width="7.77" height="1.74" fill="#560202" />
<rect x="320.97" y="51.59" width="7.77" height="3.48" fill="#e00606" />
<rect x="320.97" y="51.59" width="7.77" height="1.74" fill="#c00505" />
<rect x="320.97" y="54.47" width="7.77" height="1.32" fill="#e00606" />
<rect x="320.97" y="55.19" width="7.77" height="2.19" fill="#4f9c24" />
<rect x="320.97" y="56.78" width="7.77" height="1.18" fill="#960404" />
<rect x="320.97" y="57.36" width="7.77" height="3.48" fill="#960404" />
<rect x="320.97" y="60.24" width="7.77" height="3.48" fill="#1e0702" />
<rect x="320.97" y="61.68" width="7.77" height="1.74" fill="#1b0601" />
<rect x="320.97" y="63.12" width="7.77" height="3.48" fill="#640303" />
<rect x="320.97" y="63.12" width="7.77" height="1.74" fill="#6b0303" />
<rect x="320.97" y="66.01" width="7.77" height="3.48" fill="#640303" />
<rect x="320.97" y="67.45" width="7.77" height="1.74" fill="#560202" />
<rect x="320.97" y="68.90" width="7.77" height="1.32" fill="#640303" />
<rect x="320.97" y="69.62" width="7.77" height="2.19" fill="#4f9c24" />
<rect x="320.97" y="71.20" width="7.77" height="1.18" fill="#e00606" />
<rect x="320.97" y="71.78" width="7.77" height="3.48" fill="#e00606" />
<rect x="320.97" y="74.66" width="7.77" height="3.48" fill="#640303" />
<rect x="320.97" y="76.11" width="7.77" height="1.74" fill="#6b0303" />
<rect x="320.97" y="77.55" width="7.77" height="3.48" fill="#6ed030" />
<rect x="320.97" y="77.55" width="7.77" height="1.74" fill="#65bf2c" />
<rect x="320.97" y="80.44" width="7.77" height="3.48" fill="#6ed030" />
<rect x="320.97" y="83.32" width="7.77" height="1.32" fill="#6ed030" />
<rect x="320.97" y="84.04" width="7.77" height="2.19" fill="#1e0702" />
<rect x="320.97" y="85.63" width="7.77" height="1.18" fill="#4f9c24" />
<rect x="320.97" y="86.20" width="7.77" height="3.48" fill="#4f9c24" />
<rect x="320.97" y="87.65" width="7.77" height="1.74" fill="#54a626" />
<rect x="320.97" y="89.09" width="7.77" height="3.48" fill="#6ed030" />
<rect x="320.97" y="91.97" width="7.77" height="3.48" fill="#4f9c24" />
<rect x="320.97" y="93.42" width="7.77" height="1.74" fill="#488f21" />
<rect x="320.97" y="94.86" width="7.77" height="3.48" fill="#4f9c24" />
<rect x="320.97" y="94.86" width="7.77" height="1.74" fill="#54a626" />
<rect x="320.97" y="97.75" width="7.77" height="3.48" fill="#6ed030" />
<rect x="320.97" y="99.19" width="7.77" height="1.74" fill="#75de33" />
<rect x="320.97" y="100.63" width="7.77" height="3.48" fill="#6ed030" />
<rect x="320.97" y="102.07" width="7.77" height="1.74" fill="#75de33" />
<rect x="320.97" y="103.52" width="7.77" height="3.48" fill="#2a4e10" />
<rect x="320.97" y="103.52" width="7.77" height="1.74" fill="#26470e" />
<rect x="320.97" y="106.40" width="7.77" height="3.48" fill="#6ed030" />
<rect x="320.97" y="107.84" width="7.77" height="1.74" fill="#65bf2c" />
<rect x="320.97" y="109.28" width="7.77" height="3.48" fill="#8ef840" />
<rect x="320.97" y="110.73" width="7.77" height="1.74" fill="#82e43a" />
<rect x="320.97" y="112.17" width="7.77" height="3.48" fill="#8ef840" />
<rect x="320.97" y="115.05" width="7.77" height="3.48" fill="#6ed030" />
<rect x="320.97" y="115.05" width="7.77" height="1.74" fill="#75de33" />
<rect x="320.97" y="117.94" width="7.77" height="1.32" fill="#6ed030" />
<rect x="320.97" y="118.66" width="7.77" height="2.19" fill="#1e0702" />
<rect x="320.97" y="120.25" width="7.77" height="1.18" fill="#6ed030" />
<rect x="320.97" y="120.83" width="7.77" height="3.48" fill="#6ed030" />
<rect x="320.97" y="122.27" width="7.77" height="1.74" fill="#5eb229" />
<rect x="320.97" y="123.71" width="7.77" height="3.48" fill="#8ef840" />
<rect x="320.97" y="125.15" width="7.77" height="1.74" fill="#82e43a" />
<rect x="320.97" y="126.59" width="7.77" height="3.48" fill="#2a4e10" />
<rect x="320.97" y="128.04" width="7.77" height="1.74" fill="#24430d" />
<rect x="320.97" y="129.48" width="7.77" height="3.48" fill="#4f9c24" />
<rect x="320.97" y="130.92" width="7.77" height="1.74" fill="#43861e" />
<rect x="320.97" y="132.37" width="7.77" height="3.48" fill="#4f9c24" />
<rect x="320.97" y="135.25" width="7.77" height="3.48" fill="#6ed030" />
<rect x="320.97" y="138.13" width="7.77" height="3.48" fill="#4f9c24" />
<rect x="320.97" y="138.13" width="7.77" height="1.74" fill="#54a626" />
<rect x="320.97" y="141.02" width="7.77" height="3.48" fill="#8ef840" />
<rect x="320.97" y="143.91" width="7.77" height="3.48" fill="#8ef840" />
<rect x="320.97" y="145.35" width="7.77" height="1.74" fill="#7ad537" />
<rect x="320.97" y="146.79" width="7.77" height="3.48" fill="#4f9c24" />
<rect x="320.97" y="149.68" width="7.77" height="3.48" fill="#4f9c24" />
<rect x="320.97" y="151.12" width="7.77" height="1.74" fill="#488f21" />
<rect x="320.97" y="152.56" width="7.77" height="3.48" fill="#4f9c24" />
<rect x="320.97" y="152.56" width="7.77" height="1.74" fill="#54a626" />
<rect x="320.97" y="155.44" width="7.77" height="3.48" fill="#4f9c24" />
<rect x="320.97" y="158.33" width="7.77" height="3.48" fill="#6ed030" />
<rect x="320.97" y="158.33" width="7.77" height="1.74" fill="#65bf2c" />
<rect x="320.97" y="161.21" width="7.77" height="3.48" fill="#4f9c24" />
<rect x="328.14" y="48.70" width="7.77" height="3.48" fill="#6ed030" />
<rect x="328.14" y="50.14" width="7.77" height="1.74" fill="#65bf2c" />
<rect x="328.14" y="51.59" width="7.77" height="3.48" fill="#1e0702" />
<rect x="328.14" y="54.47" width="7.77" height="3.48" fill="#640303" />
<rect x="328.14" y="55.91" width="7.77" height="1.74" fill="#560202" />
<rect x="328.14" y="57.36" width="7.77" height="3.48" fill="#960404" />
<rect x="328.14" y="57.36" width="7.77" height="1.74" fill="#a00404" />
<rect x="328.14" y="60.24" width="7.77" height="3.48" fill="#e00606" />
<rect x="328.14" y="60.24" width="7.77" height="1.74" fill="#ef0606" />
<rect x="328.14" y="63.12" width="7.77" height="3.48" fill="#960404" />
<rect x="328.14" y="63.12" width="7.77" height="1.74" fill="#a00404" />
<rect x="328.14" y="66.01" width="7.77" height="3.48" fill="#960404" />
<rect x="328.14" y="68.90" width="7.77" height="3.48" fill="#1e0702" />
<rect x="328.14" y="71.78" width="7.77" height="3.48" fill="#6ed030" />
<rect x="328.14" y="74.66" width="7.77" height="3.48" fill="#6ed030" />
<rect x="328.14" y="76.11" width="7.77" height="1.74" fill="#5eb229" />
<rect x="328.14" y="77.55" width="7.77" height="1.32" fill="#6ed030" />
<rect x="328.14" y="78.27" width="7.77" height="2.19" fill="#1e0702" />
<rect x="328.14" y="79.86" width="7.77" height="1.18" fill="#6ed030" />
<rect x="328.14" y="80.44" width="7.77" height="3.48" fill="#6ed030" />
<rect x="328.14" y="80.44" width="7.77" height="1.74" fill="#5eb229" />
<rect x="328.14" y="83.32" width="7.77" height="3.48" fill="#640303" />
<rect x="328.14" y="84.76" width="7.77" height="1.74" fill="#6b0303" />
<rect x="328.14" y="86.20" width="7.77" height="3.48" fill="#e00606" />
<rect x="328.14" y="87.65" width="7.77" height="1.74" fill="#c00505" />
<rect x="328.14" y="89.09" width="7.77" height="3.48" fill="#4f9c24" />
<rect x="328.14" y="90.53" width="7.77" height="1.74" fill="#54a626" />
<rect x="328.14" y="91.97" width="7.77" height="3.48" fill="#4f9c24" />
<rect x="328.14" y="94.86" width="7.77" height="3.48" fill="#2a4e10" />
<rect x="328.14" y="94.86" width="7.77" height="1.74" fill="#24430d" />
<rect x="328.14" y="97.75" width="7.77" height="3.48" fill="#e00606" />
<rect x="328.14" y="100.63" width="7.77" height="3.48" fill="#4f9c24" />
<rect x="328.14" y="102.07" width="7.77" height="1.74" fill="#54a626" />
<rect x="328.14" y="103.52" width="7.77" height="3.48" fill="#4f9c24" />
<rect x="328.14" y="103.52" width="7.77" height="1.74" fill="#488f21" />
<rect x="328.14" y="106.40" width="7.77" height="1.32" fill="#4f9c24" />
<rect x="328.14" y="107.12" width="7.77" height="2.19" fill="#1e0702" />
<rect x="328.14" y="108.71" width="7.77" height="1.18" fill="#4f9c24" />
<rect x="328.14" y="109.28" width="7.77" height="1.32" fill="#640303" />
<rect x="328.14" y="110.01" width="7.77" height="2.19" fill="#4f9c24" />
<rect x="328.14" y="111.59" width="7.77" height="1.18" fill="#1e0702" />
<rect x="328.14" y="112.17" width="7.77" height="1.32" fill="#4f9c24" />
<rect x="328.14" y="112.89" width="7.77" height="2.19" fill="#1e0702" />
<rect x="328.14" y="114.48" width="7.77" height="1.18" fill="#4f9c24" />
<rect x="328.14" y="115.05" width="7.77" height="1.32" fill="#1e0702" />
<rect x="328.14" y="115.78" width="7.77" height="2.19" fill="#4f9c24" />
<rect x="328.14" y="117.36" width="7.77" height="1.18" fill="#1e0702" />
<rect x="328.14" y="117.94" width="7.77" height="1.32" fill="#4f9c24" />
<rect x="328.14" y="118.66" width="7.77" height="2.19" fill="#1e0702" />
<rect x="328.14" y="120.25" width="7.77" height="1.18" fill="#4f9c24" />
<rect x="328.14" y="120.83" width="7.77" height="3.48" fill="#4f9c24" />
<rect x="328.14" y="120.83" width="7.77" height="1.74" fill="#488f21" />
<rect x="328.14" y="123.71" width="7.77" height="3.48" fill="#2a4e10" />
<rect x="328.14" y="123.71" width="7.77" height="1.74" fill="#26470e" />
<rect x="328.14" y="126.59" width="7.77" height="3.48" fill="#2a4e10" />
<rect x="328.14" y="128.04" width="7.77" height="1.74" fill="#26470e" />
<rect x="328.14" y="129.48" width="7.77" height="3.48" fill="#4f9c24" />
<rect x="328.14" y="132.37" width="7.77" height="3.48" fill="#4f9c24" />
<rect x="328.14" y="133.81" width="7.77" height="1.74" fill="#43861e" />
<rect x="328.14" y="135.25" width="7.77" height="3.48" fill="#4f9c24" />
<rect x="328.14" y="138.13" width="7.77" height="3.48" fill="#4f9c24" />
<rect x="328.14" y="138.13" width="7.77" height="1.74" fill="#43861e" />
<rect x="328.14" y="141.02" width="7.77" height="1.32" fill="#4f9c24" />
<rect x="328.14" y="141.74" width="7.77" height="2.19" fill="#1e0702" />
<rect x="328.14" y="143.33" width="7.77" height="1.18" fill="#4f9c24" />
<rect x="328.14" y="143.91" width="7.77" height="3.48" fill="#4f9c24" />
<rect x="328.14" y="143.91" width="7.77" height="1.74" fill="#488f21" />
<rect x="328.14" y="146.79" width="7.77" height="3.48" fill="#6ed030" />
<rect x="328.14" y="146.79" width="7.77" height="1.74" fill="#65bf2c" />
<rect x="328.14" y="149.68" width="7.77" height="3.48" fill="#2a4e10" />
<rect x="328.14" y="152.56" width="7.77" height="3.48" fill="#6ed030" />
<rect x="328.14" y="155.44" width="7.77" height="3.48" fill="#4f9c24" />
<rect x="328.14" y="155.44" width="7.77" height="1.74" fill="#488f21" />
<rect x="328.14" y="158.33" width="7.77" height="3.48" fill="#1e0702" />
<rect x="328.14" y="158.33" width="7.77" height="1.74" fill="#1b0601" />
<rect x="328.14" y="161.21" width="7.77" height="3.48" fill="#1e0702" />
<rect x="328.14" y="162.66" width="7.77" height="1.74" fill="#200702" />
<rect x="335.32" y="48.70" width="7.77" height="1.32" fill="#960404" />
<rect x="335.32" y="49.42" width="7.77" height="2.19" fill="#2a4e10" />
<rect x="335.32" y="51.01" width="7.77" height="1.18" fill="#960404" />
<rect x="335.32" y="51.59" width="7.77" height="3.48" fill="#960404" />
<rect x="335.32" y="51.59" width="7.77" height="1.74" fill="#a00404" />
<rect x="335.32" y="54.47" width="7.77" height="3.48" fill="#960404" />
<rect x="335.32" y="57.36" width="7.77" height="3.48" fill="#e00606" />
<rect x="335.32" y="60.24" width="7.77" height="3.48" fill="#640303" />
<rect x="335.32" y="63.12" width="7.77" height="3.48" fill="#1e0702" />
<rect x="335.32" y="63.12" width="7.77" height="1.74" fill="#190601" />
<rect x="335.32" y="66.01" width="7.77" height="3.48" fill="#960404" />
<rect x="335.32" y="68.90" width="7.77" height="3.48" fill="#4f9c24" />
<rect x="335.32" y="71.78" width="7.77" height="3.48" fill="#6ed030" />
<rect x="335.32" y="71.78" width="7.77" height="1.74" fill="#5eb229" />
<rect x="335.32" y="74.66" width="7.77" height="3.48" fill="#1e0702" />
<rect x="335.32" y="77.55" width="7.77" height="3.48" fill="#e00606" />
<rect x="335.32" y="77.55" width="7.77" height="1.74" fill="#ce0505" />
<rect x="335.32" y="80.44" width="7.77" height="3.48" fill="#640303" />
<rect x="335.32" y="83.32" width="7.77" height="3.48" fill="#6ed030" />
<rect x="335.32" y="86.20" width="7.77" height="3.48" fill="#6ed030" />
<rect x="335.32" y="89.09" width="7.77" height="3.48" fill="#2a4e10" />
<rect x="335.32" y="91.97" width="7.77" height="3.48" fill="#4f9c24" />
<rect x="335.32" y="91.97" width="7.77" height="1.74" fill="#54a626" />
<rect x="335.32" y="94.86" width="7.77" height="3.48" fill="#2a4e10" />
<rect x="335.32" y="97.75" width="7.77" height="1.32" fill="#2a4e10" />
<rect x="335.32" y="98.47" width="7.77" height="2.19" fill="#640303" />
<rect x="335.32" y="100.05" width="7.77" height="1.18" fill="#4f9c24" />
<rect x="335.32" y="100.63" width="7.77" height="1.32" fill="#960404" />
<rect x="335.32" y="101.35" width="7.77" height="2.19" fill="#4f9c24" />
<rect x="335.32" y="102.94" width="7.77" height="1.18" fill="#640303" />
<rect x="335.32" y="103.52" width="7.77" height="1.32" fill="#4f9c24" />
<rect x="335.32" y="104.24" width="7.77" height="2.19" fill="#1e0702" />
<rect x="335.32" y="105.82" width="7.77" height="1.18" fill="#4f9c24" />
<rect x="335.32" y="106.40" width="7.77" height="3.48" fill="#4f9c24" />
<rect x="335.32" y="109.28" width="7.77" height="3.48" fill="#6ed030" />
<rect x="335.32" y="109.28" width="7.77" height="1.74" fill="#5eb229" />
<rect x="335.32" y="112.17" width="7.77" height="3.48" fill="#6ed030" />
<rect x="335.32" y="113.61" width="7.77" height="1.74" fill="#65bf2c" />
<rect x="335.32" y="115.05" width="7.77" height="1.32" fill="#6ed030" />
<rect x="335.32" y="115.78" width="7.77" height="2.19" fill="#1e0702" />
<rect x="335.32" y="117.36" width="7.77" height="1.18" fill="#4f9c24" />
<rect x="335.32" y="117.94" width="7.77" height="3.48" fill="#4f9c24" />
<rect x="335.32" y="119.38" width="7.77" height="1.74" fill="#54a626" />
<rect x="335.32" y="120.83" width="7.77" height="3.48" fill="#6ed030" />
<rect x="335.32" y="123.71" width="7.77" height="3.48" fill="#6ed030" />
<rect x="335.32" y="126.59" width="7.77" height="3.48" fill="#4f9c24" />
<rect x="335.32" y="128.04" width="7.77" height="1.74" fill="#54a626" />
<rect x="335.32" y="129.48" width="7.77" height="3.48" fill="#6ed030" />
<rect x="335.32" y="130.92" width="7.77" height="1.74" fill="#75de33" />
<rect x="335.32" y="132.37" width="7.77" height="3.48" fill="#6ed030" />
<rect x="335.32" y="132.37" width="7.77" height="1.74" fill="#65bf2c" />
<rect x="335.32" y="135.25" width="7.77" height="3.48" fill="#6ed030" />
<rect x="335.32" y="136.69" width="7.77" height="1.74" fill="#5eb229" />
<rect x="335.32" y="138.13" width="7.77" height="3.48" fill="#6ed030" />
<rect x="335.32" y="139.58" width="7.77" height="1.74" fill="#75de33" />
<rect x="335.32" y="141.02" width="7.77" height="3.48" fill="#8ef840" />
<rect x="335.32" y="141.02" width="7.77" height="1.74" fill="#82e43a" />
<rect x="335.32" y="143.91" width="7.77" height="3.48" fill="#8ef840" />
<rect x="335.32" y="146.79" width="7.77" height="3.48" fill="#6ed030" />
<rect x="335.32" y="149.68" width="7.77" height="3.48" fill="#6ed030" />
<rect x="335.32" y="151.12" width="7.77" height="1.74" fill="#65bf2c" />
<rect x="335.32" y="152.56" width="7.77" height="3.48" fill="#8ef840" />
<rect x="335.32" y="154.00" width="7.77" height="1.74" fill="#97ff44" />
<rect x="335.32" y="155.44" width="7.77" height="3.48" fill="#4f9c24" />
<rect x="335.32" y="155.44" width="7.77" height="1.74" fill="#43861e" />
<rect x="335.32" y="158.33" width="7.77" height="3.48" fill="#6ed030" />
<rect x="335.32" y="158.33" width="7.77" height="1.74" fill="#5eb229" />
<rect x="335.32" y="161.21" width="7.77" height="3.48" fill="#6ed030" />
<rect x="342.49" y="48.70" width="7.77" height="3.48" fill="#2a4e10" />
<rect x="342.49" y="50.14" width="7.77" height="1.74" fill="#24430d" />
<rect x="342.49" y="51.59" width="7.77" height="3.48" fill="#4f9c24" />
<rect x="342.49" y="53.03" width="7.77" height="1.74" fill="#54a626" />
<rect x="342.49" y="54.47" width="7.77" height="3.48" fill="#640303" />
<rect x="342.49" y="54.47" width="7.77" height="1.74" fill="#6b0303" />
<rect x="342.49" y="57.36" width="7.77" height="3.48" fill="#960404" />
<rect x="342.49" y="60.24" width="7.77" height="3.48" fill="#e00606" />
<rect x="342.49" y="61.68" width="7.77" height="1.74" fill="#c00505" />
<rect x="342.49" y="63.12" width="7.77" height="1.32" fill="#e00606" />
<rect x="342.49" y="63.85" width="7.77" height="2.19" fill="#2a4e10" />
<rect x="342.49" y="65.43" width="7.77" height="1.18" fill="#640303" />
<rect x="342.49" y="66.01" width="7.77" height="1.32" fill="#2a4e10" />
<rect x="342.49" y="66.73" width="7.77" height="2.19" fill="#1e0702" />
<rect x="342.49" y="68.32" width="7.77" height="1.18" fill="#4f9c24" />
<rect x="342.49" y="68.90" width="7.77" height="1.32" fill="#640303" />
<rect x="342.49" y="69.62" width="7.77" height="2.19" fill="#4f9c24" />
<rect x="342.49" y="71.20" width="7.77" height="1.18" fill="#1e0702" />
<rect x="342.49" y="71.78" width="7.77" height="1.32" fill="#4f9c24" />
<rect x="342.49" y="72.50" width="7.77" height="2.19" fill="#1e0702" />
<rect x="342.49" y="74.09" width="7.77" height="1.18" fill="#4f9c24" />
<rect x="342.49" y="74.66" width="7.77" height="3.48" fill="#4f9c24" />
<rect x="342.49" y="77.55" width="7.77" height="3.48" fill="#4f9c24" />
<rect x="342.49" y="77.55" width="7.77" height="1.74" fill="#43861e" />
<rect x="342.49" y="80.44" width="7.77" height="1.32" fill="#4f9c24" />
<rect x="342.49" y="81.16" width="7.77" height="2.19" fill="#640303" />
<rect x="342.49" y="82.74" width="7.77" height="1.18" fill="#4f9c24" />
<rect x="342.49" y="83.32" width="7.77" height="3.48" fill="#4f9c24" />
<rect x="342.49" y="83.32" width="7.77" height="1.74" fill="#43861e" />
<rect x="342.49" y="86.20" width="7.77" height="3.48" fill="#4f9c24" />
<rect x="342.49" y="89.09" width="7.77" height="1.32" fill="#4f9c24" />
<rect x="342.49" y="89.81" width="7.77" height="2.19" fill="#1e0702" />
<rect x="342.49" y="91.40" width="7.77" height="1.18" fill="#6ed030" />
<rect x="342.49" y="91.97" width="7.77" height="3.48" fill="#6ed030" />
<rect x="342.49" y="94.86" width="7.77" height="3.48" fill="#2a4e10" />
<rect x="342.49" y="96.30" width="7.77" height="1.74" fill="#24430d" />
<rect x="342.49" y="97.75" width="7.77" height="3.48" fill="#960404" />
<rect x="342.49" y="99.19" width="7.77" height="1.74" fill="#8a0303" />
<rect x="342.49" y="100.63" width="7.77" height="3.48" fill="#1e0702" />
<rect x="342.49" y="103.52" width="7.77" height="3.48" fill="#6ed030" />
<rect x="342.49" y="104.96" width="7.77" height="1.74" fill="#5eb229" />
<rect x="342.49" y="106.40" width="7.77" height="3.48" fill="#4f9c24" />
<rect x="342.49" y="109.28" width="7.77" height="3.48" fill="#4f9c24" />
<rect x="342.49" y="112.17" width="7.77" height="1.32" fill="#4f9c24" />
<rect x="342.49" y="112.89" width="7.77" height="2.19" fill="#1e0702" />
<rect x="342.49" y="114.48" width="7.77" height="1.18" fill="#6ed030" />
<rect x="342.49" y="115.05" width="7.77" height="3.48" fill="#6ed030" />
<rect x="342.49" y="117.94" width="7.77" height="3.48" fill="#6ed030" />
<rect x="342.49" y="117.94" width="7.77" height="1.74" fill="#75de33" />
<rect x="342.49" y="120.83" width="7.77" height="3.48" fill="#6ed030" />
<rect x="342.49" y="123.71" width="7.77" height="1.32" fill="#6ed030" />
<rect x="342.49" y="124.43" width="7.77" height="2.19" fill="#1e0702" />
<rect x="342.49" y="126.02" width="7.77" height="1.18" fill="#2a4e10" />
<rect x="342.49" y="126.59" width="7.77" height="3.48" fill="#2a4e10" />
<rect x="342.49" y="126.59" width="7.77" height="1.74" fill="#26470e" />
<rect x="342.49" y="129.48" width="7.77" height="3.48" fill="#4f9c24" />
<rect x="342.49" y="129.48" width="7.77" height="1.74" fill="#488f21" />
<rect x="342.49" y="132.37" width="7.77" height="3.48" fill="#6ed030" />
<rect x="342.49" y="135.25" width="7.77" height="3.48" fill="#4f9c24" />
<rect x="342.49" y="136.69" width="7.77" height="1.74" fill="#54a626" />
<rect x="342.49" y="138.13" width="7.77" height="3.48" fill="#6ed030" />
<rect x="342.49" y="139.58" width="7.77" height="1.74" fill="#65bf2c" />
<rect x="342.49" y="141.02" width="7.77" height="1.32" fill="#6ed030" />
<rect x="342.49" y="141.74" width="7.77" height="2.19" fill="#1e0702" />
<rect x="342.49" y="143.33" width="7.77" height="1.18" fill="#6ed030" />
<rect x="342.49" y="143.91" width="7.77" height="3.48" fill="#6ed030" />
<rect x="342.49" y="146.79" width="7.77" height="3.48" fill="#6ed030" />
<rect x="342.49" y="146.79" width="7.77" height="1.74" fill="#65bf2c" />
<rect x="342.49" y="149.68" width="7.77" height="3.48" fill="#6ed030" />
<rect x="342.49" y="152.56" width="7.77" height="3.48" fill="#8ef840" />
<rect x="342.49" y="155.44" width="7.77" height="3.48" fill="#6ed030" />
<rect x="342.49" y="158.33" width="7.77" height="3.48" fill="#6ed030" />
<rect x="342.49" y="158.33" width="7.77" height="1.74" fill="#65bf2c" />
<rect x="342.49" y="161.21" width="7.77" height="3.48" fill="#6ed030" />
<rect x="349.67" y="48.70" width="7.77" height="3.48" fill="#960404" />
<rect x="349.67" y="50.14" width="7.77" height="1.74" fill="#a00404" />
<rect x="349.67" y="51.59" width="7.77" height="3.48" fill="#e00606" />
<rect x="349.67" y="54.47" width="7.77" height="3.48" fill="#6ed030" />
<rect x="349.67" y="55.91" width="7.77" height="1.74" fill="#5eb229" />
<rect x="349.67" y="57.36" width="7.77" height="3.48" fill="#1e0702" />
<rect x="349.67" y="57.36" width="7.77" height="1.74" fill="#200702" />
<rect x="349.67" y="60.24" width="7.77" height="3.48" fill="#960404" />
<rect x="349.67" y="61.68" width="7.77" height="1.74" fill="#8a0303" />
<rect x="349.67" y="63.12" width="7.77" height="3.48" fill="#640303" />
<rect x="349.67" y="63.12" width="7.77" height="1.74" fill="#560202" />
<rect x="349.67" y="66.01" width="7.77" height="3.48" fill="#960404" />
<rect x="349.67" y="66.01" width="7.77" height="1.74" fill="#8a0303" />
<rect x="349.67" y="68.90" width="7.77" height="3.48" fill="#6ed030" />
<rect x="349.67" y="68.90" width="7.77" height="1.74" fill="#5eb229" />
<rect x="349.67" y="71.78" width="7.77" height="3.48" fill="#4f9c24" />
<rect x="349.67" y="71.78" width="7.77" height="1.74" fill="#54a626" />
<rect x="349.67" y="74.66" width="7.77" height="3.48" fill="#6ed030" />
<rect x="349.67" y="77.55" width="7.77" height="3.48" fill="#8ef840" />
<rect x="349.67" y="80.44" width="7.77" height="3.48" fill="#2a4e10" />
<rect x="349.67" y="81.88" width="7.77" height="1.74" fill="#26470e" />
<rect x="349.67" y="83.32" width="7.77" height="3.48" fill="#4f9c24" />
<rect x="349.67" y="86.20" width="7.77" height="1.32" fill="#4f9c24" />
<rect x="349.67" y="86.93" width="7.77" height="2.19" fill="#1e0702" />
<rect x="349.67" y="88.51" width="7.77" height="1.18" fill="#6ed030" />
<rect x="349.67" y="89.09" width="7.77" height="3.48" fill="#6ed030" />
<rect x="349.67" y="91.97" width="7.77" height="3.48" fill="#8ef840" />
<rect x="349.67" y="94.86" width="7.77" height="3.48" fill="#8ef840" />
<rect x="349.67" y="97.75" width="7.77" height="3.48" fill="#6ed030" />
<rect x="349.67" y="100.63" width="7.77" height="3.48" fill="#4f9c24" />
<rect x="349.67" y="103.52" width="7.77" height="1.32" fill="#4f9c24" />
<rect x="349.67" y="104.24" width="7.77" height="2.19" fill="#640303" />
<rect x="349.67" y="105.82" width="7.77" height="1.18" fill="#6ed030" />
<rect x="349.67" y="106.40" width="7.77" height="3.48" fill="#6ed030" />
<rect x="349.67" y="106.40" width="7.77" height="1.74" fill="#65bf2c" />
<rect x="349.67" y="109.28" width="7.77" height="3.48" fill="#6ed030" />
<rect x="349.67" y="109.28" width="7.77" height="1.74" fill="#65bf2c" />
<rect x="349.67" y="112.17" width="7.77" height="3.48" fill="#8ef840" />
<rect x="349.67" y="113.61" width="7.77" height="1.74" fill="#7ad537" />
<rect x="349.67" y="115.05" width="7.77" height="3.48" fill="#8ef840" />
<rect x="349.67" y="116.50" width="7.77" height="1.74" fill="#82e43a" />
<rect x="349.67" y="117.94" width="7.77" height="3.48" fill="#6ed030" />
<rect x="349.67" y="117.94" width="7.77" height="1.74" fill="#75de33" />
<rect x="349.67" y="120.83" width="7.77" height="3.48" fill="#6ed030" />
<rect x="349.67" y="122.27" width="7.77" height="1.74" fill="#5eb229" />
<rect x="349.67" y="123.71" width="7.77" height="3.48" fill="#8ef840" />
<rect x="349.67" y="126.59" width="7.77" height="3.48" fill="#8ef840" />
<rect x="349.67" y="129.48" width="7.77" height="3.48" fill="#4f9c24" />
<rect x="349.67" y="132.37" width="7.77" height="3.48" fill="#4f9c24" />
<rect x="349.67" y="135.25" width="7.77" height="3.48" fill="#4f9c24" />
<rect x="349.67" y="138.13" width="7.77" height="3.48" fill="#6ed030" />
<rect x="349.67" y="138.13" width="7.77" height="1.74" fill="#5eb229" />
<rect x="349.67" y="141.02" width="7.77" height="3.48" fill="#2a4e10" />
<rect x="349.67" y="142.46" width="7.77" height="1.74" fill="#26470e" />
<rect x="349.67" y="143.91" width="7.77" height="3.48" fill="#6ed030" />
<rect x="349.67" y="145.35" width="7.77" height="1.74" fill="#5eb229" />
<rect x="349.67" y="146.79" width="7.77" height="3.48" fill="#6ed030" />
<rect x="349.67" y="149.68" width="7.77" height="3.48" fill="#2a4e10" />
<rect x="349.67" y="149.68" width="7.77" height="1.74" fill="#24430d" />
<rect x="349.67" y="152.56" width="7.77" height="1.32" fill="#2a4e10" />
<rect x="349.67" y="153.28" width="7.77" height="2.19" fill="#1e0702" />
<rect x="349.67" y="154.87" width="7.77" height="1.18" fill="#2a4e10" />
<rect x="349.67" y="155.44" width="7.77" height="3.48" fill="#2a4e10" />
<rect x="349.67" y="158.33" width="7.77" height="3.48" fill="#4f9c24" />
<rect x="349.67" y="158.33" width="7.77" height="1.74" fill="#488f21" />
<rect x="349.67" y="161.21" width="7.77" height="3.48" fill="#6ed030" />
<rect x="349.67" y="161.21" width="7.77" height="1.74" fill="#5eb229" />
<rect x="356.84" y="48.70" width="7.77" height="3.48" fill="#e00606" />
<rect x="356.84" y="50.14" width="7.77" height="1.74" fill="#c00505" />
<rect x="356.84" y="51.59" width="7.77" height="3.48" fill="#960404" />
<rect x="356.84" y="54.47" width="7.77" height="1.32" fill="#960404" />
<rect x="356.84" y="55.19" width="7.77" height="2.19" fill="#2a4e10" />
<rect x="356.84" y="56.78" width="7.77" height="1.18" fill="#1e0702" />
<rect x="356.84" y="57.36" width="7.77" height="3.48" fill="#1e0702" />
<rect x="356.84" y="60.24" width="7.77" height="3.48" fill="#960404" />
<rect x="356.84" y="61.68" width="7.77" height="1.74" fill="#8a0303" />
<rect x="356.84" y="63.12" width="7.77" height="3.48" fill="#960404" />
<rect x="356.84" y="66.01" width="7.77" height="3.48" fill="#640303" />
<rect x="356.84" y="68.90" width="7.77" height="3.48" fill="#6ed030" />
<rect x="356.84" y="70.34" width="7.77" height="1.74" fill="#5eb229" />
<rect x="356.84" y="71.78" width="7.77" height="3.48" fill="#6ed030" />
<rect x="356.84" y="74.66" width="7.77" height="3.48" fill="#4f9c24" />
<rect x="356.84" y="77.55" width="7.77" height="1.32" fill="#4f9c24" />
<rect x="356.84" y="78.27" width="7.77" height="2.19" fill="#1e0702" />
<rect x="356.84" y="79.86" width="7.77" height="1.18" fill="#2a4e10" />
<rect x="356.84" y="80.44" width="7.77" height="3.48" fill="#2a4e10" />
<rect x="356.84" y="83.32" width="7.77" height="3.48" fill="#2a4e10" />
<rect x="356.84" y="86.20" width="7.77" height="3.48" fill="#4f9c24" />
<rect x="356.84" y="89.09" width="7.77" height="3.48" fill="#4f9c24" />
<rect x="356.84" y="90.53" width="7.77" height="1.74" fill="#54a626" />
<rect x="356.84" y="91.97" width="7.77" height="3.48" fill="#2a4e10" />
<rect x="356.84" y="94.86" width="7.77" height="3.48" fill="#2a4e10" />
<rect x="356.84" y="96.30" width="7.77" height="1.74" fill="#2c5311" />
<rect x="356.84" y="97.75" width="7.77" height="3.48" fill="#4f9c24" />
<rect x="356.84" y="97.75" width="7.77" height="1.74" fill="#43861e" />
<rect x="356.84" y="100.63" width="7.77" height="3.48" fill="#6ed030" />
<rect x="356.84" y="103.52" width="7.77" height="1.32" fill="#6ed030" />
<rect x="356.84" y="104.24" width="7.77" height="2.19" fill="#1e0702" />
<rect x="356.84" y="105.82" width="7.77" height="1.18" fill="#4f9c24" />
<rect x="356.84" y="106.40" width="7.77" height="3.48" fill="#4f9c24" />
<rect x="356.84" y="107.84" width="7.77" height="1.74" fill="#488f21" />
<rect x="356.84" y="109.28" width="7.77" height="3.48" fill="#2a4e10" />
<rect x="356.84" y="112.17" width="7.77" height="3.48" fill="#4f9c24" />
<rect x="356.84" y="113.61" width="7.77" height="1.74" fill="#488f21" />
<rect x="356.84" y="115.05" width="7.77" height="3.48" fill="#6ed030" />
<rect x="356.84" y="117.94" width="7.77" height="3.48" fill="#4f9c24" />
<rect x="356.84" y="120.83" width="7.77" height="3.48" fill="#2a4e10" />
<rect x="356.84" y="123.71" width="7.77" height="3.48" fill="#4f9c24" />
<rect x="356.84" y="126.59" width="7.77" height="3.48" fill="#4f9c24" />
<rect x="356.84" y="128.04" width="7.77" height="1.74" fill="#54a626" />
<rect x="356.84" y="129.48" width="7.77" height="3.48" fill="#2a4e10" />
<rect x="356.84" y="130.92" width="7.77" height="1.74" fill="#24430d" />
<rect x="356.84" y="132.37" width="7.77" height="3.48" fill="#4f9c24" />
<rect x="356.84" y="135.25" width="7.77" height="3.48" fill="#4f9c24" />
<rect x="356.84" y="135.25" width="7.77" height="1.74" fill="#488f21" />
<rect x="356.84" y="138.13" width="7.77" height="3.48" fill="#2a4e10" />
<rect x="356.84" y="139.58" width="7.77" height="1.74" fill="#26470e" />
<rect x="356.84" y="141.02" width="7.77" height="3.48" fill="#4f9c24" />
<rect x="356.84" y="143.91" width="7.77" height="3.48" fill="#6ed030" />
<rect x="356.84" y="143.91" width="7.77" height="1.74" fill="#75de33" />
<rect x="356.84" y="146.79" width="7.77" height="3.48" fill="#6ed030" />
<rect x="356.84" y="146.79" width="7.77" height="1.74" fill="#75de33" />
<rect x="356.84" y="149.68" width="7.77" height="3.48" fill="#640303" />
<rect x="356.84" y="152.56" width="7.77" height="3.48" fill="#1e0702" />
<rect x="356.84" y="155.44" width="7.77" height="3.48" fill="#2a4e10" />
<rect x="356.84" y="158.33" width="7.77" height="3.48" fill="#2a4e10" />
<rect x="356.84" y="159.77" width="7.77" height="1.74" fill="#26470e" />
<rect x="356.84" y="161.21" width="7.77" height="3.48" fill="#4f9c24" />
<rect x="356.84" y="162.66" width="7.77" height="1.74" fill="#488f21" />
<rect x="364.01" y="48.70" width="7.77" height="3.48" fill="#640303" />
<rect x="364.01" y="51.59" width="7.77" height="3.48" fill="#960404" />
<rect x="364.01" y="54.47" width="7.77" height="3.48" fill="#6ed030" />
<rect x="364.01" y="55.91" width="7.77" height="1.74" fill="#65bf2c" />
<rect x="364.01" y="57.36" width="7.77" height="3.48" fill="#1e0702" />
<rect x="364.01" y="60.24" width="7.77" height="3.48" fill="#640303" />
<rect x="364.01" y="63.12" width="7.77" height="3.48" fill="#e00606" />
<rect x="364.01" y="63.12" width="7.77" height="1.74" fill="#c00505" />
<rect x="364.01" y="66.01" width="7.77" height="3.48" fill="#960404" />
<rect x="364.01" y="67.45" width="7.77" height="1.74" fill="#8a0303" />
<rect x="364.01" y="68.90" width="7.77" height="3.48" fill="#6ed030" />
<rect x="364.01" y="71.78" width="7.77" height="3.48" fill="#4f9c24" />
<rect x="364.01" y="74.66" width="7.77" height="3.48" fill="#6ed030" />
<rect x="364.01" y="77.55" width="7.77" height="3.48" fill="#4f9c24" />
<rect x="364.01" y="80.44" width="7.77" height="3.48" fill="#e00606" />
<rect x="364.01" y="80.44" width="7.77" height="1.74" fill="#ef0606" />
<rect x="364.01" y="83.32" width="7.77" height="3.48" fill="#6ed030" />
<rect x="364.01" y="86.20" width="7.77" height="1.32" fill="#6ed030" />
<rect x="364.01" y="86.93" width="7.77" height="2.19" fill="#1e0702" />
<rect x="364.01" y="88.51" width="7.77" height="1.18" fill="#6ed030" />
<rect x="364.01" y="89.09" width="7.77" height="3.48" fill="#6ed030" />
<rect x="364.01" y="90.53" width="7.77" height="1.74" fill="#75de33" />
<rect x="364.01" y="91.97" width="7.77" height="3.48" fill="#4f9c24" />
<rect x="364.01" y="91.97" width="7.77" height="1.74" fill="#43861e" />
<rect x="364.01" y="94.86" width="7.77" height="3.48" fill="#4f9c24" />
<rect x="364.01" y="97.75" width="7.77" height="3.48" fill="#4f9c24" />
<rect x="364.01" y="97.75" width="7.77" height="1.74" fill="#54a626" />
<rect x="364.01" y="100.63" width="7.77" height="3.48" fill="#2a4e10" />
<rect x="364.01" y="103.52" width="7.77" height="3.48" fill="#4f9c24" />
<rect x="364.01" y="104.96" width="7.77" height="1.74" fill="#54a626" />
<rect x="364.01" y="106.40" width="7.77" height="3.48" fill="#4f9c24" />
<rect x="364.01" y="109.28" width="7.77" height="3.48" fill="#6ed030" />
<rect x="364.01" y="110.73" width="7.77" height="1.74" fill="#75de33" />
<rect x="364.01" y="112.17" width="7.77" height="3.48" fill="#8ef840" />
<rect x="364.01" y="113.61" width="7.77" height="1.74" fill="#97ff44" />
<rect x="364.01" y="115.05" width="7.77" height="3.48" fill="#8ef840" />
<rect x="364.01" y="115.05" width="7.77" height="1.74" fill="#82e43a" />
<rect x="364.01" y="117.94" width="7.77" height="3.48" fill="#4f9c24" />
<rect x="364.01" y="117.94" width="7.77" height="1.74" fill="#488f21" />
<rect x="364.01" y="120.83" width="7.77" height="3.48" fill="#6ed030" />
<rect x="364.01" y="123.71" width="7.77" height="3.48" fill="#6ed030" />
<rect x="364.01" y="126.59" width="7.77" height="1.32" fill="#6ed030" />
<rect x="364.01" y="127.32" width="7.77" height="2.19" fill="#1e0702" />
<rect x="364.01" y="128.90" width="7.77" height="1.18" fill="#4f9c24" />
<rect x="364.01" y="129.48" width="7.77" height="3.48" fill="#4f9c24" />
<rect x="364.01" y="129.48" width="7.77" height="1.74" fill="#43861e" />
<rect x="364.01" y="132.37" width="7.77" height="3.48" fill="#4f9c24" />
<rect x="364.01" y="135.25" width="7.77" height="3.48" fill="#6ed030" />
<rect x="364.01" y="136.69" width="7.77" height="1.74" fill="#75de33" />
<rect x="364.01" y="138.13" width="7.77" height="3.48" fill="#6ed030" />
<rect x="364.01" y="139.58" width="7.77" height="1.74" fill="#5eb229" />
<rect x="364.01" y="141.02" width="7.77" height="3.48" fill="#6ed030" />
<rect x="364.01" y="141.02" width="7.77" height="1.74" fill="#5eb229" />
<rect x="364.01" y="143.91" width="7.77" height="3.48" fill="#6ed030" />
<rect x="364.01" y="145.35" width="7.77" height="1.74" fill="#5eb229" />
<rect x="364.01" y="146.79" width="7.77" height="3.48" fill="#6ed030" />
<rect x="364.01" y="148.23" width="7.77" height="1.74" fill="#75de33" />
<rect x="364.01" y="149.68" width="7.77" height="1.32" fill="#6ed030" />
<rect x="364.01" y="150.40" width="7.77" height="2.19" fill="#1e0702" />
<rect x="364.01" y="151.98" width="7.77" height="1.18" fill="#4f9c24" />
<rect x="364.01" y="152.56" width="7.77" height="3.48" fill="#4f9c24" />
<rect x="364.01" y="155.44" width="7.77" height="3.48" fill="#2a4e10" />
<rect x="364.01" y="158.33" width="7.77" height="3.48" fill="#6ed030" />
<rect x="364.01" y="158.33" width="7.77" height="1.74" fill="#65bf2c" />
<rect x="364.01" y="161.21" width="7.77" height="3.48" fill="#6ed030" />
<rect x="371.19" y="48.70" width="7.77" height="3.48" fill="#e00606" />
<rect x="371.19" y="50.14" width="7.77" height="1.74" fill="#c00505" />
<rect x="371.19" y="51.59" width="7.77" height="3.48" fill="#e00606" />
<rect x="371.19" y="54.47" width="7.77" height="3.48" fill="#6ed030" />
<rect x="371.19" y="57.36" width="7.77" height="3.48" fill="#1e0702" />
<rect x="371.19" y="60.24" width="7.77" height="3.48" fill="#640303" />
<rect x="371.19" y="60.24" width="7.77" height="1.74" fill="#560202" />
<rect x="371.19" y="63.12" width="7.77" height="3.48" fill="#e00606" />
<rect x="371.19" y="66.01" width="7.77" height="3.48" fill="#960404" />
<rect x="371.19" y="68.90" width="7.77" height="3.48" fill="#4f9c24" />
<rect x="371.19" y="68.90" width="7.77" height="1.74" fill="#488f21" />
<rect x="371.19" y="71.78" width="7.77" height="3.48" fill="#6ed030" />
<rect x="371.19" y="71.78" width="7.77" height="1.74" fill="#65bf2c" />
<rect x="371.19" y="74.66" width="7.77" height="3.48" fill="#6ed030" />
<rect x="371.19" y="76.11" width="7.77" height="1.74" fill="#75de33" />
<rect x="371.19" y="77.55" width="7.77" height="1.32" fill="#6ed030" />
<rect x="371.19" y="78.27" width="7.77" height="2.19" fill="#1e0702" />
<rect x="371.19" y="79.86" width="7.77" height="1.18" fill="#6ed030" />
<rect x="371.19" y="80.44" width="7.77" height="3.48" fill="#6ed030" />
<rect x="371.19" y="80.44" width="7.77" height="1.74" fill="#5eb229" />
<rect x="371.19" y="83.32" width="7.77" height="3.48" fill="#4f9c24" />
<rect x="371.19" y="86.20" width="7.77" height="1.32" fill="#4f9c24" />
<rect x="371.19" y="86.93" width="7.77" height="2.19" fill="#1e0702" />
<rect x="371.19" y="88.51" width="7.77" height="1.18" fill="#4f9c24" />
<rect x="371.19" y="89.09" width="7.77" height="3.48" fill="#4f9c24" />
<rect x="371.19" y="90.53" width="7.77" height="1.74" fill="#54a626" />
<rect x="371.19" y="91.97" width="7.77" height="3.48" fill="#4f9c24" />
<rect x="371.19" y="94.86" width="7.77" height="3.48" fill="#4f9c24" />
<rect x="371.19" y="97.75" width="7.77" height="3.48" fill="#4f9c24" />
<rect x="371.19" y="100.63" width="7.77" height="3.48" fill="#1e0702" />
<rect x="371.19" y="102.07" width="7.77" height="1.74" fill="#1b0601" />
<rect x="371.19" y="103.52" width="7.77" height="3.48" fill="#1e0702" />
<rect x="371.19" y="103.52" width="7.77" height="1.74" fill="#1b0601" />
<rect x="371.19" y="106.40" width="7.77" height="1.32" fill="#1e0702" />
<rect x="371.19" y="107.12" width="7.77" height="2.19" fill="#4f9c24" />
<rect x="371.19" y="108.71" width="7.77" height="1.18" fill="#1e0702" />
<rect x="371.19" y="109.28" width="7.77" height="1.32" fill="#4f9c24" />
<rect x="371.19" y="110.01" width="7.77" height="2.19" fill="#1e0702" />
<rect x="371.19" y="111.59" width="7.77" height="1.18" fill="#4f9c24" />
<rect x="371.19" y="112.17" width="7.77" height="3.48" fill="#4f9c24" />
<rect x="371.19" y="113.61" width="7.77" height="1.74" fill="#43861e" />
<rect x="371.19" y="115.05" width="7.77" height="3.48" fill="#6ed030" />
<rect x="371.19" y="117.94" width="7.77" height="3.48" fill="#4f9c24" />
<rect x="371.19" y="120.83" width="7.77" height="3.48" fill="#4f9c24" />
<rect x="371.19" y="122.27" width="7.77" height="1.74" fill="#43861e" />
<rect x="371.19" y="123.71" width="7.77" height="3.48" fill="#4f9c24" />
<rect x="371.19" y="125.15" width="7.77" height="1.74" fill="#43861e" />
<rect x="371.19" y="126.59" width="7.77" height="3.48" fill="#4f9c24" />
<rect x="371.19" y="129.48" width="7.77" height="3.48" fill="#4f9c24" />
<rect x="371.19" y="129.48" width="7.77" height="1.74" fill="#54a626" />
<rect x="371.19" y="132.37" width="7.77" height="1.32" fill="#4f9c24" />
<rect x="371.19" y="133.09" width="7.77" height="2.19" fill="#1e0702" />
<rect x="371.19" y="134.67" width="7.77" height="1.18" fill="#4f9c24" />
<rect x="371.19" y="135.25" width="7.77" height="3.48" fill="#4f9c24" />
<rect x="371.19" y="136.69" width="7.77" height="1.74" fill="#54a626" />
<rect x="371.19" y="138.13" width="7.77" height="3.48" fill="#6ed030" />
<rect x="371.19" y="141.02" width="7.77" height="3.48" fill="#4f9c24" />
<rect x="371.19" y="143.91" width="7.77" height="3.48" fill="#6ed030" />
<rect x="371.19" y="146.79" width="7.77" height="3.48" fill="#6ed030" />
<rect x="371.19" y="148.23" width="7.77" height="1.74" fill="#5eb229" />
<rect x="371.19" y="149.68" width="7.77" height="1.32" fill="#6ed030" />
<rect x="371.19" y="150.40" width="7.77" height="2.19" fill="#1e0702" />
<rect x="371.19" y="151.98" width="7.77" height="1.18" fill="#4f9c24" />
<rect x="371.19" y="152.56" width="7.77" height="1.32" fill="#640303" />
<rect x="371.19" y="153.28" width="7.77" height="2.19" fill="#4f9c24" />
<rect x="371.19" y="154.87" width="7.77" height="1.18" fill="#1e0702" />
<rect x="371.19" y="155.44" width="7.77" height="1.32" fill="#4f9c24" />
<rect x="371.19" y="156.17" width="7.77" height="2.19" fill="#1e0702" />
<rect x="371.19" y="157.75" width="7.77" height="1.18" fill="#4f9c24" />
<rect x="371.19" y="158.33" width="7.77" height="1.32" fill="#1e0702" />
<rect x="371.19" y="159.05" width="7.77" height="2.19" fill="#4f9c24" />
<rect x="371.19" y="160.64" width="7.77" height="1.18" fill="#1e0702" />
<rect x="371.19" y="161.21" width="7.77" height="1.32" fill="#4f9c24" />
<rect x="371.19" y="161.94" width="7.77" height="2.19" fill="#1e0702" />
<rect x="371.19" y="163.52" width="7.77" height="1.18" fill="#4f9c24" />
<rect x="378.36" y="48.70" width="7.77" height="3.48" fill="#6ed030" />
<rect x="378.36" y="48.70" width="7.77" height="1.74" fill="#5eb229" />
<rect x="378.36" y="51.59" width="7.77" height="3.48" fill="#2a4e10" />
<rect x="378.36" y="53.03" width="7.77" height="1.74" fill="#2c5311" />
<rect x="378.36" y="54.47" width="7.77" height="3.48" fill="#4f9c24" />
<rect x="378.36" y="55.91" width="7.77" height="1.74" fill="#54a626" />
<rect x="378.36" y="57.36" width="7.77" height="1.32" fill="#4f9c24" />
<rect x="378.36" y="58.08" width="7.77" height="2.19" fill="#1e0702" />
<rect x="378.36" y="59.66" width="7.77" height="1.18" fill="#4f9c24" />
<rect x="378.36" y="60.24" width="7.77" height="3.48" fill="#4f9c24" />
<rect x="378.36" y="61.68" width="7.77" height="1.74" fill="#43861e" />
<rect x="378.36" y="63.12" width="7.77" height="3.48" fill="#6ed030" />
<rect x="378.36" y="64.57" width="7.77" height="1.74" fill="#5eb229" />
<rect x="378.36" y="66.01" width="7.77" height="3.48" fill="#8ef840" />
<rect x="378.36" y="66.01" width="7.77" height="1.74" fill="#97ff44" />
<rect x="378.36" y="68.90" width="7.77" height="3.48" fill="#e00606" />
<rect x="378.36" y="71.78" width="7.77" height="3.48" fill="#640303" />
<rect x="378.36" y="74.66" width="7.77" height="3.48" fill="#4f9c24" />
<rect x="378.36" y="74.66" width="7.77" height="1.74" fill="#43861e" />
<rect x="378.36" y="77.55" width="7.77" height="3.48" fill="#6ed030" />
<rect x="378.36" y="80.44" width="7.77" height="3.48" fill="#6ed030" />
<rect x="378.36" y="83.32" width="7.77" height="3.48" fill="#4f9c24" />
<rect x="378.36" y="83.32" width="7.77" height="1.74" fill="#488f21" />
<rect x="378.36" y="86.20" width="7.77" height="3.48" fill="#2a4e10" />
<rect x="378.36" y="86.20" width="7.77" height="1.74" fill="#26470e" />
<rect x="378.36" y="89.09" width="7.77" height="1.32" fill="#2a4e10" />
<rect x="378.36" y="89.81" width="7.77" height="2.19" fill="#1e0702" />
<rect x="378.36" y="91.40" width="7.77" height="1.18" fill="#4f9c24" />
<rect x="378.36" y="91.97" width="7.77" height="3.48" fill="#4f9c24" />
<rect x="378.36" y="94.86" width="7.77" height="3.48" fill="#6ed030" />
<rect x="378.36" y="96.30" width="7.77" height="1.74" fill="#5eb229" />
<rect x="378.36" y="97.75" width="7.77" height="3.48" fill="#640303" />
<rect x="378.36" y="100.63" width="7.77" height="3.48" fill="#e00606" />
<rect x="378.36" y="100.63" width="7.77" height="1.74" fill="#ce0505" />
<rect x="378.36" y="103.52" width="7.77" height="3.48" fill="#e00606" />
<rect x="378.36" y="106.40" width="7.77" height="3.48" fill="#e00606" />
<rect x="378.36" y="107.84" width="7.77" height="1.74" fill="#ce0505" />
<rect x="378.36" y="109.28" width="7.77" height="3.48" fill="#e00606" />
<rect x="378.36" y="112.17" width="7.77" height="3.48" fill="#640303" />
<rect x="378.36" y="113.61" width="7.77" height="1.74" fill="#6b0303" />
<rect x="378.36" y="115.05" width="7.77" height="3.48" fill="#e00606" />
<rect x="378.36" y="115.05" width="7.77" height="1.74" fill="#ce0505" />
<rect x="378.36" y="117.94" width="7.77" height="3.48" fill="#1e0702" />
<rect x="378.36" y="120.83" width="7.77" height="3.48" fill="#960404" />
<rect x="378.36" y="123.71" width="7.77" height="3.48" fill="#640303" />
<rect x="378.36" y="123.71" width="7.77" height="1.74" fill="#5c0202" />
<rect x="378.36" y="126.59" width="7.77" height="3.48" fill="#640303" />
<rect x="378.36" y="129.48" width="7.77" height="3.48" fill="#e00606" />
<rect x="378.36" y="132.37" width="7.77" height="3.48" fill="#640303" />
<rect x="378.36" y="135.25" width="7.77" height="3.48" fill="#640303" />
<rect x="378.36" y="136.69" width="7.77" height="1.74" fill="#6b0303" />
<rect x="378.36" y="138.13" width="7.77" height="3.48" fill="#960404" />
<rect x="378.36" y="139.58" width="7.77" height="1.74" fill="#810303" />
<rect x="378.36" y="141.02" width="7.77" height="3.48" fill="#960404" />
<rect x="378.36" y="143.91" width="7.77" height="3.48" fill="#640303" />
<rect x="378.36" y="146.79" width="7.77" height="3.48" fill="#640303" />
<rect x="378.36" y="146.79" width="7.77" height="1.74" fill="#560202" />
<rect x="378.36" y="149.68" width="7.77" height="3.48" fill="#960404" />
<rect x="378.36" y="149.68" width="7.77" height="1.74" fill="#810303" />
<rect x="378.36" y="152.56" width="7.77" height="3.48" fill="#e00606" />
<rect x="378.36" y="152.56" width="7.77" height="1.74" fill="#c00505" />
<rect x="378.36" y="155.44" width="7.77" height="3.48" fill="#e00606" />
<rect x="378.36" y="158.33" width="7.77" height="3.48" fill="#960404" />
<rect x="378.36" y="159.77" width="7.77" height="1.74" fill="#810303" />
<rect x="378.36" y="161.21" width="7.77" height="3.48" fill="#e00606" />
<rect x="385.54" y="48.70" width="7.77" height="3.48" fill="#2a4e10" />
<rect x="385.54" y="51.59" width="7.77" height="3.48" fill="#6ed030" />
<rect x="385.54" y="53.03" width="7.77" height="1.74" fill="#75de33" />
<rect x="385.54" y="54.47" width="7.77" height="3.48" fill="#2a4e10" />
<rect x="385.54" y="55.91" width="7.77" height="1.74" fill="#24430d" />
<rect x="385.54" y="57.36" width="7.77" height="3.48" fill="#6ed030" />
<rect x="385.54" y="60.24" width="7.77" height="3.48" fill="#4f9c24" />
<rect x="385.54" y="61.68" width="7.77" height="1.74" fill="#488f21" />
<rect x="385.54" y="63.12" width="7.77" height="3.48" fill="#6ed030" />
<rect x="385.54" y="66.01" width="7.77" height="3.48" fill="#8ef840" />
<rect x="385.54" y="68.90" width="7.77" height="3.48" fill="#960404" />
<rect x="385.54" y="70.34" width="7.77" height="1.74" fill="#8a0303" />
<rect x="385.54" y="71.78" width="7.77" height="3.48" fill="#e00606" />
<rect x="385.54" y="71.78" width="7.77" height="1.74" fill="#c00505" />
<rect x="385.54" y="74.66" width="7.77" height="3.48" fill="#6ed030" />
<rect x="385.54" y="77.55" width="7.77" height="3.48" fill="#960404" />
<rect x="385.54" y="78.99" width="7.77" height="1.74" fill="#810303" />
<rect x="385.54" y="80.44" width="7.77" height="3.48" fill="#640303" />
<rect x="385.54" y="80.44" width="7.77" height="1.74" fill="#5c0202" />
<rect x="385.54" y="83.32" width="7.77" height="3.48" fill="#6ed030" />
<rect x="385.54" y="84.76" width="7.77" height="1.74" fill="#75de33" />
<rect x="385.54" y="86.20" width="7.77" height="3.48" fill="#640303" />
<rect x="385.54" y="89.09" width="7.77" height="3.48" fill="#1e0702" />
<rect x="385.54" y="89.09" width="7.77" height="1.74" fill="#1b0601" />
<rect x="385.54" y="91.97" width="7.77" height="3.48" fill="#640303" />
<rect x="385.54" y="94.86" width="7.77" height="3.48" fill="#640303" />
<rect x="385.54" y="94.86" width="7.77" height="1.74" fill="#6b0303" />
<rect x="385.54" y="97.75" width="7.77" height="3.48" fill="#6ed030" />
<rect x="385.54" y="99.19" width="7.77" height="1.74" fill="#75de33" />
<rect x="385.54" y="100.63" width="7.77" height="3.48" fill="#e00606" />
<rect x="385.54" y="102.07" width="7.77" height="1.74" fill="#ce0505" />
<rect x="385.54" y="103.52" width="7.77" height="3.48" fill="#e00606" />
<rect x="385.54" y="106.40" width="7.77" height="3.48" fill="#960404" />
<rect x="385.54" y="107.84" width="7.77" height="1.74" fill="#a00404" />
<rect x="385.54" y="109.28" width="7.77" height="3.48" fill="#640303" />
<rect x="385.54" y="109.28" width="7.77" height="1.74" fill="#5c0202" />
<rect x="385.54" y="112.17" width="7.77" height="3.48" fill="#960404" />
<rect x="385.54" y="112.17" width="7.77" height="1.74" fill="#a00404" />
<rect x="385.54" y="115.05" width="7.77" height="3.48" fill="#e00606" />
<rect x="385.54" y="116.50" width="7.77" height="1.74" fill="#ce0505" />
<rect x="385.54" y="117.94" width="7.77" height="3.48" fill="#640303" />
<rect x="385.54" y="117.94" width="7.77" height="1.74" fill="#6b0303" />
<rect x="385.54" y="120.83" width="7.77" height="3.48" fill="#960404" />
<rect x="385.54" y="120.83" width="7.77" height="1.74" fill="#a00404" />
<rect x="385.54" y="123.71" width="7.77" height="3.48" fill="#640303" />
<rect x="385.54" y="125.15" width="7.77" height="1.74" fill="#6b0303" />
<rect x="385.54" y="126.59" width="7.77" height="3.48" fill="#960404" />
<rect x="385.54" y="128.04" width="7.77" height="1.74" fill="#8a0303" />
<rect x="385.54" y="129.48" width="7.77" height="3.48" fill="#960404" />
<rect x="385.54" y="130.92" width="7.77" height="1.74" fill="#a00404" />
<rect x="385.54" y="132.37" width="7.77" height="3.48" fill="#640303" />
<rect x="385.54" y="133.81" width="7.77" height="1.74" fill="#6b0303" />
<rect x="385.54" y="135.25" width="7.77" height="3.48" fill="#640303" />
<rect x="385.54" y="136.69" width="7.77" height="1.74" fill="#560202" />
<rect x="385.54" y="138.13" width="7.77" height="3.48" fill="#960404" />
<rect x="385.54" y="141.02" width="7.77" height="3.48" fill="#640303" />
<rect x="385.54" y="141.02" width="7.77" height="1.74" fill="#560202" />
<rect x="385.54" y="143.91" width="7.77" height="3.48" fill="#1e0702" />
<rect x="385.54" y="145.35" width="7.77" height="1.74" fill="#1b0601" />
<rect x="385.54" y="146.79" width="7.77" height="3.48" fill="#640303" />
<rect x="385.54" y="149.68" width="7.77" height="3.48" fill="#e00606" />
<rect x="385.54" y="149.68" width="7.77" height="1.74" fill="#c00505" />
<rect x="385.54" y="152.56" width="7.77" height="3.48" fill="#640303" />
<rect x="385.54" y="155.44" width="7.77" height="3.48" fill="#960404" />
<rect x="385.54" y="158.33" width="7.77" height="3.48" fill="#960404" />
<rect x="385.54" y="161.21" width="7.77" height="3.48" fill="#960404" />
<rect x="392.71" y="48.70" width="7.77" height="3.48" fill="#6ed030" />
<rect x="392.71" y="48.70" width="7.77" height="1.74" fill="#5eb229" />
<rect x="392.71" y="51.59" width="7.77" height="3.48" fill="#6ed030" />
<rect x="392.71" y="51.59" width="7.77" height="1.74" fill="#75de33" />
<rect x="392.71" y="54.47" width="7.77" height="3.48" fill="#2a4e10" />
<rect x="392.71" y="57.36" width="7.77" height="3.48" fill="#6ed030" />
<rect x="392.71" y="57.36" width="7.77" height="1.74" fill="#65bf2c" />
<rect x="392.71" y="60.24" width="7.77" height="3.48" fill="#4f9c24" />
<rect x="392.71" y="63.12" width="7.77" height="3.48" fill="#4f9c24" />
<rect x="392.71" y="66.01" width="7.77" height="3.48" fill="#8ef840" />
<rect x="392.71" y="66.01" width="7.77" height="1.74" fill="#7ad537" />
<rect x="392.71" y="68.90" width="7.77" height="3.48" fill="#e00606" />
<rect x="392.71" y="70.34" width="7.77" height="1.74" fill="#ef0606" />
<rect x="392.71" y="71.78" width="7.77" height="3.48" fill="#e00606" />
<rect x="392.71" y="74.66" width="7.77" height="3.48" fill="#6ed030" />
<rect x="392.71" y="76.11" width="7.77" height="1.74" fill="#65bf2c" />
<rect x="392.71" y="77.55" width="7.77" height="1.32" fill="#6ed030" />
<rect x="392.71" y="78.27" width="7.77" height="2.19" fill="#1e0702" />
<rect x="392.71" y="79.86" width="7.77" height="1.18" fill="#2a4e10" />
<rect x="392.71" y="80.44" width="7.77" height="3.48" fill="#2a4e10" />
<rect x="392.71" y="80.44" width="7.77" height="1.74" fill="#2c5311" />
<rect x="392.71" y="83.32" width="7.77" height="3.48" fill="#6ed030" />
<rect x="392.71" y="84.76" width="7.77" height="1.74" fill="#75de33" />
<rect x="392.71" y="86.20" width="7.77" height="3.48" fill="#4f9c24" />
<rect x="392.71" y="87.65" width="7.77" height="1.74" fill="#43861e" />
<rect x="392.71" y="89.09" width="7.77" height="1.32" fill="#4f9c24" />
<rect x="392.71" y="89.81" width="7.77" height="2.19" fill="#1e0702" />
<rect x="392.71" y="91.40" width="7.77" height="1.18" fill="#2a4e10" />
<rect x="392.71" y="91.97" width="7.77" height="3.48" fill="#2a4e10" />
<rect x="392.71" y="91.97" width="7.77" height="1.74" fill="#2c5311" />
<rect x="392.71" y="94.86" width="7.77" height="3.48" fill="#2a4e10" />
<rect x="392.71" y="96.30" width="7.77" height="1.74" fill="#24430d" />
<rect x="392.71" y="97.75" width="7.77" height="3.48" fill="#e00606" />
<rect x="392.71" y="100.63" width="7.77" height="3.48" fill="#2a4e10" />
<rect x="392.71" y="103.52" width="7.77" height="3.48" fill="#6ed030" />
<rect x="392.71" y="104.96" width="7.77" height="1.74" fill="#5eb229" />
<rect x="392.71" y="106.40" width="7.77" height="3.48" fill="#640303" />
<rect x="392.71" y="106.40" width="7.77" height="1.74" fill="#560202" />
<rect x="392.71" y="109.28" width="7.77" height="3.48" fill="#960404" />
<rect x="392.71" y="112.17" width="7.77" height="3.48" fill="#640303" />
<rect x="392.71" y="115.05" width="7.77" height="3.48" fill="#960404" />
<rect x="392.71" y="117.94" width="7.77" height="3.48" fill="#640303" />
<rect x="392.71" y="117.94" width="7.77" height="1.74" fill="#5c0202" />
<rect x="392.71" y="120.83" width="7.77" height="3.48" fill="#e00606" />
<rect x="392.71" y="123.71" width="7.77" height="3.48" fill="#960404" />
<rect x="392.71" y="126.59" width="7.77" height="3.48" fill="#e00606" />
<rect x="392.71" y="126.59" width="7.77" height="1.74" fill="#ef0606" />
<rect x="392.71" y="129.48" width="7.77" height="3.48" fill="#960404" />
<rect x="392.71" y="129.48" width="7.77" height="1.74" fill="#a00404" />
<rect x="392.71" y="132.37" width="7.77" height="3.48" fill="#640303" />
<rect x="392.71" y="133.81" width="7.77" height="1.74" fill="#5c0202" />
<rect x="392.71" y="135.25" width="7.77" height="3.48" fill="#640303" />
<rect x="392.71" y="135.25" width="7.77" height="1.74" fill="#5c0202" />
<rect x="392.71" y="138.13" width="7.77" height="3.48" fill="#1e0702" />
<rect x="392.71" y="141.02" width="7.77" height="1.32" fill="#1e0702" />
<rect x="392.71" y="141.74" width="7.77" height="2.19" fill="#2a4e10" />
<rect x="392.71" y="143.33" width="7.77" height="1.18" fill="#1e0702" />
<rect x="392.71" y="143.91" width="7.77" height="3.48" fill="#1e0702" />
<rect x="392.71" y="145.35" width="7.77" height="1.74" fill="#190601" />
<rect x="392.71" y="146.79" width="7.77" height="3.48" fill="#640303" />
<rect x="392.71" y="149.68" width="7.77" height="3.48" fill="#e00606" />
<rect x="392.71" y="149.68" width="7.77" height="1.74" fill="#ef0606" />
<rect x="392.71" y="152.56" width="7.77" height="3.48" fill="#640303" />
<rect x="392.71" y="154.00" width="7.77" height="1.74" fill="#560202" />
<rect x="392.71" y="155.44" width="7.77" height="3.48" fill="#e00606" />
<rect x="392.71" y="158.33" width="7.77" height="3.48" fill="#960404" />
<rect x="392.71" y="161.21" width="7.77" height="3.48" fill="#960404" />
<rect x="399.89" y="48.70" width="7.77" height="1.32" fill="#2a4e10" />
<rect x="399.89" y="49.42" width="7.77" height="2.19" fill="#1e0702" />
<rect x="399.89" y="51.01" width="7.77" height="1.18" fill="#2a4e10" />
<rect x="399.89" y="51.59" width="7.77" height="3.48" fill="#2a4e10" />
<rect x="399.89" y="51.59" width="7.77" height="1.74" fill="#24430d" />
<rect x="399.89" y="54.47" width="7.77" height="3.48" fill="#4f9c24" />
<rect x="399.89" y="54.47" width="7.77" height="1.74" fill="#54a626" />
<rect x="399.89" y="57.36" width="7.77" height="3.48" fill="#4f9c24" />
<rect x="399.89" y="58.80" width="7.77" height="1.74" fill="#488f21" />
<rect x="399.89" y="60.24" width="7.77" height="3.48" fill="#4f9c24" />
<rect x="399.89" y="61.68" width="7.77" height="1.74" fill="#54a626" />
<rect x="399.89" y="63.12" width="7.77" height="3.48" fill="#4f9c24" />
<rect x="399.89" y="63.12" width="7.77" height="1.74" fill="#43861e" />
<rect x="399.89" y="66.01" width="7.77" height="3.48" fill="#4f9c24" />
<rect x="399.89" y="68.90" width="7.77" height="3.48" fill="#e00606" />
<rect x="399.89" y="70.34" width="7.77" height="1.74" fill="#ce0505" />
<rect x="399.89" y="71.78" width="7.77" height="3.48" fill="#640303" />
<rect x="399.89" y="71.78" width="7.77" height="1.74" fill="#6b0303" />
<rect x="399.89" y="74.66" width="7.77" height="3.48" fill="#640303" />
<rect x="399.89" y="76.11" width="7.77" height="1.74" fill="#560202" />
<rect x="399.89" y="77.55" width="7.77" height="3.48" fill="#640303" />
<rect x="399.89" y="77.55" width="7.77" height="1.74" fill="#5c0202" />
<rect x="399.89" y="80.44" width="7.77" height="3.48" fill="#e00606" />
<rect x="399.89" y="83.32" width="7.77" height="3.48" fill="#6ed030" />
<rect x="399.89" y="83.32" width="7.77" height="1.74" fill="#75de33" />
<rect x="399.89" y="86.20" width="7.77" height="3.48" fill="#640303" />
<rect x="399.89" y="86.20" width="7.77" height="1.74" fill="#5c0202" />
<rect x="399.89" y="89.09" width="7.77" height="3.48" fill="#e00606" />
<rect x="399.89" y="91.97" width="7.77" height="3.48" fill="#2a4e10" />
<rect x="399.89" y="94.86" width="7.77" height="3.48" fill="#2a4e10" />
<rect x="399.89" y="97.75" width="7.77" height="3.48" fill="#4f9c24" />
<rect x="399.89" y="100.63" width="7.77" height="3.48" fill="#e00606" />
<rect x="399.89" y="103.52" width="7.77" height="3.48" fill="#2a4e10" />
<rect x="399.89" y="104.96" width="7.77" height="1.74" fill="#24430d" />
<rect x="399.89" y="106.40" width="7.77" height="3.48" fill="#2a4e10" />
<rect x="399.89" y="106.40" width="7.77" height="1.74" fill="#2c5311" />
<rect x="399.89" y="109.28" width="7.77" height="3.48" fill="#1e0702" />
<rect x="399.89" y="109.28" width="7.77" height="1.74" fill="#200702" />
<rect x="399.89" y="112.17" width="7.77" height="3.48" fill="#960404" />
<rect x="399.89" y="112.17" width="7.77" height="1.74" fill="#810303" />
<rect x="399.89" y="115.05" width="7.77" height="3.48" fill="#1e0702" />
<rect x="399.89" y="117.94" width="7.77" height="3.48" fill="#960404" />
<rect x="399.89" y="117.94" width="7.77" height="1.74" fill="#a00404" />
<rect x="399.89" y="120.83" width="7.77" height="1.32" fill="#960404" />
<rect x="399.89" y="121.55" width="7.77" height="2.19" fill="#2a4e10" />
<rect x="399.89" y="123.13" width="7.77" height="1.18" fill="#640303" />
<rect x="399.89" y="123.71" width="7.77" height="3.48" fill="#640303" />
<rect x="399.89" y="126.59" width="7.77" height="3.48" fill="#e00606" />
<rect x="399.89" y="128.04" width="7.77" height="1.74" fill="#c00505" />
<rect x="399.89" y="129.48" width="7.77" height="3.48" fill="#640303" />
<rect x="399.89" y="132.37" width="7.77" height="1.32" fill="#640303" />
<rect x="399.89" y="133.09" width="7.77" height="2.19" fill="#2a4e10" />
<rect x="399.89" y="134.67" width="7.77" height="1.18" fill="#640303" />
<rect x="399.89" y="135.25" width="7.77" height="3.48" fill="#640303" />
<rect x="399.89" y="138.13" width="7.77" height="3.48" fill="#960404" />
<rect x="399.89" y="141.02" width="7.77" height="1.32" fill="#960404" />
<rect x="399.89" y="141.74" width="7.77" height="2.19" fill="#4f9c24" />
<rect x="399.89" y="143.33" width="7.77" height="1.18" fill="#960404" />
<rect x="399.89" y="143.91" width="7.77" height="3.48" fill="#960404" />
<rect x="399.89" y="145.35" width="7.77" height="1.74" fill="#810303" />
<rect x="399.89" y="146.79" width="7.77" height="3.48" fill="#640303" />
<rect x="399.89" y="146.79" width="7.77" height="1.74" fill="#5c0202" />
<rect x="399.89" y="149.68" width="7.77" height="1.32" fill="#640303" />
<rect x="399.89" y="150.40" width="7.77" height="2.19" fill="#2a4e10" />
<rect x="399.89" y="151.98" width="7.77" height="1.18" fill="#640303" />
<rect x="399.89" y="152.56" width="7.77" height="3.48" fill="#640303" />
<rect x="399.89" y="155.44" width="7.77" height="3.48" fill="#960404" />
<rect x="399.89" y="158.33" width="7.77" height="3.48" fill="#960404" />
<rect x="399.89" y="158.33" width="7.77" height="1.74" fill="#8a0303" />
<rect x="399.89" y="161.21" width="7.77" height="3.48" fill="#960404" />
<rect x="399.89" y="162.66" width="7.77" height="1.74" fill="#8a0303" />
<rect x="407.06" y="48.70" width="7.77" height="3.48" fill="#6ed030" />
<rect x="407.06" y="51.59" width="7.77" height="1.32" fill="#6ed030" />
<rect x="407.06" y="52.31" width="7.77" height="2.19" fill="#640303" />
<rect x="407.06" y="53.89" width="7.77" height="1.18" fill="#6ed030" />
<rect x="407.06" y="54.47" width="7.77" height="3.48" fill="#6ed030" />
<rect x="407.06" y="54.47" width="7.77" height="1.74" fill="#75de33" />
<rect x="407.06" y="57.36" width="7.77" height="3.48" fill="#4f9c24" />
<rect x="407.06" y="60.24" width="7.77" height="3.48" fill="#640303" />
<rect x="407.06" y="63.12" width="7.77" height="3.48" fill="#1e0702" />
<rect x="407.06" y="64.57" width="7.77" height="1.74" fill="#1b0601" />
<rect x="407.06" y="66.01" width="7.77" height="3.48" fill="#8ef840" />
<rect x="407.06" y="66.01" width="7.77" height="1.74" fill="#7ad537" />
<rect x="407.06" y="68.90" width="7.77" height="3.48" fill="#e00606" />
<rect x="407.06" y="71.78" width="7.77" height="3.48" fill="#640303" />
<rect x="407.06" y="71.78" width="7.77" height="1.74" fill="#5c0202" />
<rect x="407.06" y="74.66" width="7.77" height="3.48" fill="#960404" />
<rect x="407.06" y="76.11" width="7.77" height="1.74" fill="#810303" />
<rect x="407.06" y="77.55" width="7.77" height="1.32" fill="#960404" />
<rect x="407.06" y="78.27" width="7.77" height="2.19" fill="#2a4e10" />
<rect x="407.06" y="79.86" width="7.77" height="1.18" fill="#e00606" />
<rect x="407.06" y="80.44" width="7.77" height="3.48" fill="#e00606" />
<rect x="407.06" y="80.44" width="7.77" height="1.74" fill="#ce0505" />
<rect x="407.06" y="83.32" width="7.77" height="3.48" fill="#6ed030" />
<rect x="407.06" y="86.20" width="7.77" height="3.48" fill="#4f9c24" />
<rect x="407.06" y="87.65" width="7.77" height="1.74" fill="#43861e" />
<rect x="407.06" y="89.09" width="7.77" height="3.48" fill="#8ef840" />
<rect x="407.06" y="89.09" width="7.77" height="1.74" fill="#7ad537" />
<rect x="407.06" y="91.97" width="7.77" height="3.48" fill="#1e0702" />
<rect x="407.06" y="94.86" width="7.77" height="3.48" fill="#1e0702" />
<rect x="407.06" y="96.30" width="7.77" height="1.74" fill="#200702" />
<rect x="407.06" y="97.75" width="7.77" height="3.48" fill="#6ed030" />
<rect x="407.06" y="99.19" width="7.77" height="1.74" fill="#65bf2c" />
<rect x="407.06" y="100.63" width="7.77" height="3.48" fill="#6ed030" />
<rect x="407.06" y="103.52" width="7.77" height="3.48" fill="#2a4e10" />
<rect x="407.06" y="104.96" width="7.77" height="1.74" fill="#2c5311" />
<rect x="407.06" y="106.40" width="7.77" height="1.32" fill="#2a4e10" />
<rect x="407.06" y="107.12" width="7.77" height="2.19" fill="#1e0702" />
<rect x="407.06" y="108.71" width="7.77" height="1.18" fill="#2a4e10" />
<rect x="407.06" y="109.28" width="7.77" height="1.32" fill="#1e0702" />
<rect x="407.06" y="110.01" width="7.77" height="2.19" fill="#2a4e10" />
<rect x="407.06" y="111.59" width="7.77" height="1.18" fill="#960404" />
<rect x="407.06" y="112.17" width="7.77" height="3.48" fill="#960404" />
<rect x="407.06" y="115.05" width="7.77" height="3.48" fill="#640303" />
<rect x="407.06" y="115.05" width="7.77" height="1.74" fill="#5c0202" />
<rect x="407.06" y="117.94" width="7.77" height="3.48" fill="#e00606" />
<rect x="407.06" y="117.94" width="7.77" height="1.74" fill="#c00505" />
<rect x="407.06" y="120.83" width="7.77" height="3.48" fill="#640303" />
<rect x="407.06" y="123.71" width="7.77" height="3.48" fill="#1e0702" />
<rect x="407.06" y="126.59" width="7.77" height="3.48" fill="#960404" />
<rect x="407.06" y="126.59" width="7.77" height="1.74" fill="#810303" />
<rect x="407.06" y="129.48" width="7.77" height="3.48" fill="#640303" />
<rect x="407.06" y="130.92" width="7.77" height="1.74" fill="#6b0303" />
<rect x="407.06" y="132.37" width="7.77" height="3.48" fill="#8ef840" />
<rect x="407.06" y="135.25" width="7.77" height="3.48" fill="#e00606" />
<rect x="407.06" y="135.25" width="7.77" height="1.74" fill="#ef0606" />
<rect x="407.06" y="138.13" width="7.77" height="3.48" fill="#1e0702" />
<rect x="407.06" y="141.02" width="7.77" height="3.48" fill="#960404" />
<rect x="407.06" y="143.91" width="7.77" height="3.48" fill="#1e0702" />
<rect x="407.06" y="145.35" width="7.77" height="1.74" fill="#1b0601" />
<rect x="407.06" y="146.79" width="7.77" height="1.32" fill="#1e0702" />
<rect x="407.06" y="147.51" width="7.77" height="2.19" fill="#2a4e10" />
<rect x="407.06" y="149.10" width="7.77" height="1.18" fill="#e00606" />
<rect x="407.06" y="149.68" width="7.77" height="3.48" fill="#e00606" />
<rect x="407.06" y="152.56" width="7.77" height="3.48" fill="#640303" />
<rect x="407.06" y="155.44" width="7.77" height="3.48" fill="#e00606" />
<rect x="407.06" y="158.33" width="7.77" height="3.48" fill="#960404" />
<rect x="407.06" y="158.33" width="7.77" height="1.74" fill="#810303" />
<rect x="407.06" y="161.21" width="7.77" height="3.48" fill="#960404" />
<rect x="414.23" y="48.70" width="7.77" height="3.48" fill="#e00606" />
<rect x="414.23" y="48.70" width="7.77" height="1.74" fill="#c00505" />
<rect x="414.23" y="51.59" width="7.77" height="1.32" fill="#e00606" />
<rect x="414.23" y="52.31" width="7.77" height="2.19" fill="#2a4e10" />
<rect x="414.23" y="53.89" width="7.77" height="1.18" fill="#960404" />
<rect x="414.23" y="54.47" width="7.77" height="1.32" fill="#2a4e10" />
<rect x="414.23" y="55.19" width="7.77" height="2.19" fill="#640303" />
<rect x="414.23" y="56.78" width="7.77" height="1.18" fill="#4f9c24" />
<rect x="414.23" y="57.36" width="7.77" height="3.48" fill="#4f9c24" />
<rect x="414.23" y="57.36" width="7.77" height="1.74" fill="#488f21" />
<rect x="414.23" y="60.24" width="7.77" height="3.48" fill="#6ed030" />
<rect x="414.23" y="63.12" width="7.77" height="3.48" fill="#6ed030" />
<rect x="414.23" y="66.01" width="7.77" height="3.48" fill="#2a4e10" />
<rect x="414.23" y="68.90" width="7.77" height="3.48" fill="#640303" />
<rect x="414.23" y="71.78" width="7.77" height="3.48" fill="#e00606" />
<rect x="414.23" y="73.22" width="7.77" height="1.74" fill="#ce0505" />
<rect x="414.23" y="74.66" width="7.77" height="3.48" fill="#960404" />
<rect x="414.23" y="76.11" width="7.77" height="1.74" fill="#a00404" />
<rect x="414.23" y="77.55" width="7.77" height="3.48" fill="#e00606" />
<rect x="414.23" y="77.55" width="7.77" height="1.74" fill="#c00505" />
<rect x="414.23" y="80.44" width="7.77" height="3.48" fill="#1e0702" />
<rect x="414.23" y="80.44" width="7.77" height="1.74" fill="#1b0601" />
<rect x="414.23" y="83.32" width="7.77" height="3.48" fill="#640303" />
<rect x="414.23" y="86.20" width="7.77" height="3.48" fill="#640303" />
<rect x="414.23" y="89.09" width="7.77" height="3.48" fill="#2a4e10" />
<rect x="414.23" y="89.09" width="7.77" height="1.74" fill="#26470e" />
<rect x="414.23" y="91.97" width="7.77" height="3.48" fill="#2a4e10" />
<rect x="414.23" y="93.42" width="7.77" height="1.74" fill="#2c5311" />
<rect x="414.23" y="94.86" width="7.77" height="3.48" fill="#1e0702" />
<rect x="414.23" y="94.86" width="7.77" height="1.74" fill="#200702" />
<rect x="414.23" y="97.75" width="7.77" height="3.48" fill="#1e0702" />
<rect x="414.23" y="97.75" width="7.77" height="1.74" fill="#200702" />
<rect x="414.23" y="100.63" width="7.77" height="3.48" fill="#e00606" />
<rect x="414.23" y="103.52" width="7.77" height="3.48" fill="#640303" />
<rect x="414.23" y="106.40" width="7.77" height="3.48" fill="#640303" />
<rect x="414.23" y="109.28" width="7.77" height="3.48" fill="#960404" />
<rect x="414.23" y="109.28" width="7.77" height="1.74" fill="#8a0303" />
<rect x="414.23" y="112.17" width="7.77" height="3.48" fill="#640303" />
<rect x="414.23" y="112.17" width="7.77" height="1.74" fill="#5c0202" />
<rect x="414.23" y="115.05" width="7.77" height="3.48" fill="#1e0702" />
<rect x="414.23" y="115.05" width="7.77" height="1.74" fill="#1b0601" />
<rect x="414.23" y="117.94" width="7.77" height="3.48" fill="#640303" />
<rect x="414.23" y="119.38" width="7.77" height="1.74" fill="#5c0202" />
<rect x="414.23" y="120.83" width="7.77" height="3.48" fill="#e00606" />
<rect x="414.23" y="123.71" width="7.77" height="3.48" fill="#e00606" />
<rect x="414.23" y="125.15" width="7.77" height="1.74" fill="#c00505" />
<rect x="414.23" y="126.59" width="7.77" height="3.48" fill="#640303" />
<rect x="414.23" y="129.48" width="7.77" height="3.48" fill="#640303" />
<rect x="414.23" y="129.48" width="7.77" height="1.74" fill="#5c0202" />
<rect x="414.23" y="132.37" width="7.77" height="3.48" fill="#1e0702" />
<rect x="414.23" y="135.25" width="7.77" height="1.32" fill="#1e0702" />
<rect x="414.23" y="135.97" width="7.77" height="2.19" fill="#2a4e10" />
<rect x="414.23" y="137.56" width="7.77" height="1.18" fill="#640303" />
<rect x="414.23" y="138.13" width="7.77" height="3.48" fill="#640303" />
<rect x="414.23" y="139.58" width="7.77" height="1.74" fill="#560202" />
<rect x="414.23" y="141.02" width="7.77" height="3.48" fill="#640303" />
<rect x="414.23" y="142.46" width="7.77" height="1.74" fill="#5c0202" />
<rect x="414.23" y="143.91" width="7.77" height="3.48" fill="#640303" />
<rect x="414.23" y="146.79" width="7.77" height="3.48" fill="#640303" />
<rect x="414.23" y="148.23" width="7.77" height="1.74" fill="#5c0202" />
<rect x="414.23" y="149.68" width="7.77" height="1.32" fill="#640303" />
<rect x="414.23" y="150.40" width="7.77" height="2.19" fill="#4f9c24" />
<rect x="414.23" y="151.98" width="7.77" height="1.18" fill="#640303" />
<rect x="414.23" y="152.56" width="7.77" height="3.48" fill="#640303" />
<rect x="414.23" y="155.44" width="7.77" height="3.48" fill="#1e0702" />
<rect x="414.23" y="158.33" width="7.77" height="3.48" fill="#960404" />
<rect x="414.23" y="161.21" width="7.77" height="3.48" fill="#960404" />
<rect x="414.23" y="162.66" width="7.77" height="1.74" fill="#8a0303" />
<rect x="421.41" y="48.70" width="7.77" height="3.48" fill="#1e0702" />
<rect x="421.41" y="50.14" width="7.77" height="1.74" fill="#1b0601" />
<rect x="421.41" y="51.59" width="7.77" height="3.48" fill="#640303" />
<rect x="421.41" y="51.59" width="7.77" height="1.74" fill="#5c0202" />
<rect x="421.41" y="54.47" width="7.77" height="3.48" fill="#2a4e10" />
<rect x="421.41" y="57.36" width="7.77" height="3.48" fill="#4f9c24" />
<rect x="421.41" y="60.24" width="7.77" height="3.48" fill="#2a4e10" />
<rect x="421.41" y="60.24" width="7.77" height="1.74" fill="#26470e" />
<rect x="421.41" y="63.12" width="7.77" height="3.48" fill="#4f9c24" />
<rect x="421.41" y="64.57" width="7.77" height="1.74" fill="#54a626" />
<rect x="421.41" y="66.01" width="7.77" height="1.32" fill="#4f9c24" />
<rect x="421.41" y="66.73" width="7.77" height="2.19" fill="#1e0702" />
<rect x="421.41" y="68.32" width="7.77" height="1.18" fill="#6ed030" />
<rect x="421.41" y="68.90" width="7.77" height="3.48" fill="#6ed030" />
<rect x="421.41" y="70.34" width="7.77" height="1.74" fill="#65bf2c" />
<rect x="421.41" y="71.78" width="7.77" height="3.48" fill="#4f9c24" />
<rect x="421.41" y="71.78" width="7.77" height="1.74" fill="#43861e" />
<rect x="421.41" y="74.66" width="7.77" height="3.48" fill="#4f9c24" />
<rect x="421.41" y="77.55" width="7.77" height="3.48" fill="#1e0702" />
<rect x="421.41" y="80.44" width="7.77" height="3.48" fill="#e00606" />
<rect x="421.41" y="83.32" width="7.77" height="3.48" fill="#e00606" />
<rect x="421.41" y="84.76" width="7.77" height="1.74" fill="#ce0505" />
<rect x="421.41" y="86.20" width="7.77" height="3.48" fill="#e00606" />
<rect x="421.41" y="89.09" width="7.77" height="3.48" fill="#960404" />
<rect x="421.41" y="90.53" width="7.77" height="1.74" fill="#810303" />
<rect x="421.41" y="91.97" width="7.77" height="3.48" fill="#960404" />
<rect x="421.41" y="94.86" width="7.77" height="3.48" fill="#e00606" />
<rect x="421.41" y="97.75" width="7.77" height="3.48" fill="#2a4e10" />
<rect x="421.41" y="97.75" width="7.77" height="1.74" fill="#24430d" />
<rect x="421.41" y="100.63" width="7.77" height="3.48" fill="#6ed030" />
<rect x="421.41" y="102.07" width="7.77" height="1.74" fill="#75de33" />
<rect x="421.41" y="103.52" width="7.77" height="3.48" fill="#960404" />
<rect x="421.41" y="106.40" width="7.77" height="3.48" fill="#e00606" />
<rect x="421.41" y="109.28" width="7.77" height="3.48" fill="#640303" />
<rect x="421.41" y="110.73" width="7.77" height="1.74" fill="#5c0202" />
<rect x="421.41" y="112.17" width="7.77" height="3.48" fill="#e00606" />
<rect x="421.41" y="112.17" width="7.77" height="1.74" fill="#c00505" />
<rect x="421.41" y="115.05" width="7.77" height="3.48" fill="#640303" />
<rect x="421.41" y="115.05" width="7.77" height="1.74" fill="#6b0303" />
<rect x="421.41" y="117.94" width="7.77" height="3.48" fill="#e00606" />
<rect x="421.41" y="120.83" width="7.77" height="3.48" fill="#1e0702" />
<rect x="421.41" y="122.27" width="7.77" height="1.74" fill="#200702" />
<rect x="421.41" y="123.71" width="7.77" height="3.48" fill="#6ed030" />
<rect x="421.41" y="126.59" width="7.77" height="3.48" fill="#1e0702" />
<rect x="421.41" y="128.04" width="7.77" height="1.74" fill="#200702" />
<rect x="421.41" y="129.48" width="7.77" height="3.48" fill="#640303" />
<rect x="421.41" y="130.92" width="7.77" height="1.74" fill="#5c0202" />
<rect x="421.41" y="132.37" width="7.77" height="3.48" fill="#e00606" />
<rect x="421.41" y="132.37" width="7.77" height="1.74" fill="#ce0505" />
<rect x="421.41" y="135.25" width="7.77" height="3.48" fill="#e00606" />
<rect x="421.41" y="138.13" width="7.77" height="3.48" fill="#640303" />
<rect x="421.41" y="141.02" width="7.77" height="3.48" fill="#e00606" />
<rect x="421.41" y="143.91" width="7.77" height="3.48" fill="#e00606" />
<rect x="421.41" y="146.79" width="7.77" height="3.48" fill="#960404" />
<rect x="421.41" y="148.23" width="7.77" height="1.74" fill="#8a0303" />
<rect x="421.41" y="149.68" width="7.77" height="3.48" fill="#960404" />
<rect x="421.41" y="151.12" width="7.77" height="1.74" fill="#a00404" />
<rect x="421.41" y="152.56" width="7.77" height="3.48" fill="#640303" />
<rect x="421.41" y="154.00" width="7.77" height="1.74" fill="#560202" />
<rect x="421.41" y="155.44" width="7.77" height="3.48" fill="#e00606" />
<rect x="421.41" y="156.89" width="7.77" height="1.74" fill="#ef0606" />
<rect x="421.41" y="158.33" width="7.77" height="3.48" fill="#960404" />
<rect x="421.41" y="158.33" width="7.77" height="1.74" fill="#8a0303" />
<rect x="421.41" y="161.21" width="7.77" height="3.48" fill="#960404" />
<rect x="428.58" y="48.70" width="7.77" height="3.48" fill="#960404" />
<rect x="428.58" y="50.14" width="7.77" height="1.74" fill="#a00404" />
<rect x="428.58" y="51.59" width="7.77" height="3.48" fill="#e00606" />
<rect x="428.58" y="53.03" width="7.77" height="1.74" fill="#ce0505" />
<rect x="428.58" y="54.47" width="7.77" height="3.48" fill="#640303" />
<rect x="428.58" y="57.36" width="7.77" height="3.48" fill="#1e0702" />
<rect x="428.58" y="57.36" width="7.77" height="1.74" fill="#190601" />
<rect x="428.58" y="60.24" width="7.77" height="3.48" fill="#4f9c24" />
<rect x="428.58" y="60.24" width="7.77" height="1.74" fill="#43861e" />
<rect x="428.58" y="63.12" width="7.77" height="3.48" fill="#4f9c24" />
<rect x="428.58" y="63.12" width="7.77" height="1.74" fill="#54a626" />
<rect x="428.58" y="66.01" width="7.77" height="3.48" fill="#2a4e10" />
<rect x="428.58" y="67.45" width="7.77" height="1.74" fill="#26470e" />
<rect x="428.58" y="68.90" width="7.77" height="3.48" fill="#4f9c24" />
<rect x="428.58" y="71.78" width="7.77" height="3.48" fill="#6ed030" />
<rect x="428.58" y="71.78" width="7.77" height="1.74" fill="#75de33" />
<rect x="428.58" y="74.66" width="7.77" height="3.48" fill="#4f9c24" />
<rect x="428.58" y="77.55" width="7.77" height="3.48" fill="#640303" />
<rect x="428.58" y="78.99" width="7.77" height="1.74" fill="#5c0202" />
<rect x="428.58" y="80.44" width="7.77" height="3.48" fill="#960404" />
<rect x="428.58" y="83.32" width="7.77" height="3.48" fill="#e00606" />
<rect x="428.58" y="83.32" width="7.77" height="1.74" fill="#ef0606" />
<rect x="428.58" y="86.20" width="7.77" height="3.48" fill="#960404" />
<rect x="428.58" y="89.09" width="7.77" height="3.48" fill="#e00606" />
<rect x="428.58" y="90.53" width="7.77" height="1.74" fill="#ef0606" />
<rect x="428.58" y="91.97" width="7.77" height="3.48" fill="#e00606" />
<rect x="428.58" y="93.42" width="7.77" height="1.74" fill="#ef0606" />
<rect x="428.58" y="94.86" width="7.77" height="3.48" fill="#e00606" />
<rect x="428.58" y="96.30" width="7.77" height="1.74" fill="#ce0505" />
<rect x="428.58" y="97.75" width="7.77" height="3.48" fill="#2a4e10" />
<rect x="428.58" y="99.19" width="7.77" height="1.74" fill="#24430d" />
<rect x="428.58" y="100.63" width="7.77" height="3.48" fill="#4f9c24" />
<rect x="428.58" y="103.52" width="7.77" height="3.48" fill="#960404" />
<rect x="428.58" y="103.52" width="7.77" height="1.74" fill="#a00404" />
<rect x="428.58" y="106.40" width="7.77" height="3.48" fill="#e00606" />
<rect x="428.58" y="107.84" width="7.77" height="1.74" fill="#ef0606" />
<rect x="428.58" y="109.28" width="7.77" height="3.48" fill="#e00606" />
<rect x="428.58" y="112.17" width="7.77" height="3.48" fill="#640303" />
<rect x="428.58" y="115.05" width="7.77" height="3.48" fill="#960404" />
<rect x="428.58" y="117.94" width="7.77" height="3.48" fill="#e00606" />
<rect x="428.58" y="117.94" width="7.77" height="1.74" fill="#c00505" />
<rect x="428.58" y="120.83" width="7.77" height="3.48" fill="#2a4e10" />
<rect x="428.58" y="120.83" width="7.77" height="1.74" fill="#24430d" />
<rect x="428.58" y="123.71" width="7.77" height="3.48" fill="#4f9c24" />
<rect x="428.58" y="123.71" width="7.77" height="1.74" fill="#43861e" />
<rect x="428.58" y="126.59" width="7.77" height="3.48" fill="#640303" />
<rect x="428.58" y="126.59" width="7.77" height="1.74" fill="#5c0202" />
<rect x="428.58" y="129.48" width="7.77" height="3.48" fill="#1e0702" />
<rect x="428.58" y="132.37" width="7.77" height="3.48" fill="#960404" />
<rect x="428.58" y="133.81" width="7.77" height="1.74" fill="#810303" />
<rect x="428.58" y="135.25" width="7.77" height="3.48" fill="#960404" />
<rect x="428.58" y="138.13" width="7.77" height="3.48" fill="#640303" />
<rect x="428.58" y="139.58" width="7.77" height="1.74" fill="#560202" />
<rect x="428.58" y="141.02" width="7.77" height="3.48" fill="#960404" />
<rect x="428.58" y="143.91" width="7.77" height="3.48" fill="#640303" />
<rect x="428.58" y="143.91" width="7.77" height="1.74" fill="#560202" />
<rect x="428.58" y="146.79" width="7.77" height="3.48" fill="#640303" />
<rect x="428.58" y="146.79" width="7.77" height="1.74" fill="#5c0202" />
<rect x="428.58" y="149.68" width="7.77" height="3.48" fill="#640303" />
<rect x="428.58" y="152.56" width="7.77" height="3.48" fill="#640303" />
<rect x="428.58" y="154.00" width="7.77" height="1.74" fill="#6b0303" />
<rect x="428.58" y="155.44" width="7.77" height="3.48" fill="#960404" />
<rect x="428.58" y="158.33" width="7.77" height="3.48" fill="#640303" />
<rect x="428.58" y="158.33" width="7.77" height="1.74" fill="#560202" />
<rect x="428.58" y="161.21" width="7.77" height="3.48" fill="#640303" />
<rect x="435.76" y="48.70" width="7.77" height="3.48" fill="#960404" />
<rect x="435.76" y="50.14" width="7.77" height="1.74" fill="#8a0303" />
<rect x="435.76" y="51.59" width="7.77" height="3.48" fill="#640303" />
<rect x="435.76" y="53.03" width="7.77" height="1.74" fill="#6b0303" />
<rect x="435.76" y="54.47" width="7.77" height="3.48" fill="#2a4e10" />
<rect x="435.76" y="57.36" width="7.77" height="3.48" fill="#4f9c24" />
<rect x="435.76" y="60.24" width="7.77" height="3.48" fill="#6ed030" />
<rect x="435.76" y="61.68" width="7.77" height="1.74" fill="#75de33" />
<rect x="435.76" y="63.12" width="7.77" height="3.48" fill="#6ed030" />
<rect x="435.76" y="63.12" width="7.77" height="1.74" fill="#65bf2c" />
<rect x="435.76" y="66.01" width="7.77" height="3.48" fill="#2a4e10" />
<rect x="435.76" y="67.45" width="7.77" height="1.74" fill="#2c5311" />
<rect x="435.76" y="68.90" width="7.77" height="3.48" fill="#2a4e10" />
<rect x="435.76" y="70.34" width="7.77" height="1.74" fill="#2c5311" />
<rect x="435.76" y="71.78" width="7.77" height="3.48" fill="#4f9c24" />
<rect x="435.76" y="74.66" width="7.77" height="3.48" fill="#e00606" />
<rect x="435.76" y="77.55" width="7.77" height="3.48" fill="#e00606" />
<rect x="435.76" y="78.99" width="7.77" height="1.74" fill="#ef0606" />
<rect x="435.76" y="80.44" width="7.77" height="3.48" fill="#640303" />
<rect x="435.76" y="83.32" width="7.77" height="3.48" fill="#e00606" />
<rect x="435.76" y="84.76" width="7.77" height="1.74" fill="#ce0505" />
<rect x="435.76" y="86.20" width="7.77" height="3.48" fill="#960404" />
<rect x="435.76" y="86.20" width="7.77" height="1.74" fill="#a00404" />
<rect x="435.76" y="89.09" width="7.77" height="3.48" fill="#e00606" />
<rect x="435.76" y="91.97" width="7.77" height="3.48" fill="#e00606" />
<rect x="435.76" y="93.42" width="7.77" height="1.74" fill="#c00505" />
<rect x="435.76" y="94.86" width="7.77" height="3.48" fill="#e00606" />
<rect x="435.76" y="96.30" width="7.77" height="1.74" fill="#c00505" />
<rect x="435.76" y="97.75" width="7.77" height="3.48" fill="#1e0702" />
<rect x="435.76" y="99.19" width="7.77" height="1.74" fill="#190601" />
<rect x="435.76" y="100.63" width="7.77" height="1.32" fill="#1e0702" />
<rect x="435.76" y="101.35" width="7.77" height="2.19" fill="#4f9c24" />
<rect x="435.76" y="102.94" width="7.77" height="1.18" fill="#960404" />
<rect x="435.76" y="103.52" width="7.77" height="3.48" fill="#960404" />
<rect x="435.76" y="103.52" width="7.77" height="1.74" fill="#810303" />
<rect x="435.76" y="106.40" width="7.77" height="3.48" fill="#e00606" />
<rect x="435.76" y="107.84" width="7.77" height="1.74" fill="#ce0505" />
<rect x="435.76" y="109.28" width="7.77" height="3.48" fill="#960404" />
<rect x="435.76" y="112.17" width="7.77" height="3.48" fill="#640303" />
<rect x="435.76" y="115.05" width="7.77" height="3.48" fill="#640303" />
<rect x="435.76" y="116.50" width="7.77" height="1.74" fill="#560202" />
<rect x="435.76" y="117.94" width="7.77" height="3.48" fill="#960404" />
<rect x="435.76" y="119.38" width="7.77" height="1.74" fill="#a00404" />
<rect x="435.76" y="120.83" width="7.77" height="3.48" fill="#6ed030" />
<rect x="435.76" y="123.71" width="7.77" height="3.48" fill="#640303" />
<rect x="435.76" y="126.59" width="7.77" height="3.48" fill="#1e0702" />
<rect x="435.76" y="126.59" width="7.77" height="1.74" fill="#190601" />
<rect x="435.76" y="129.48" width="7.77" height="3.48" fill="#1e0702" />
<rect x="435.76" y="130.92" width="7.77" height="1.74" fill="#1b0601" />
<rect x="435.76" y="132.37" width="7.77" height="3.48" fill="#640303" />
<rect x="435.76" y="132.37" width="7.77" height="1.74" fill="#6b0303" />
<rect x="435.76" y="135.25" width="7.77" height="3.48" fill="#640303" />
<rect x="435.76" y="138.13" width="7.77" height="3.48" fill="#640303" />
<rect x="435.76" y="141.02" width="7.77" height="3.48" fill="#e00606" />
<rect x="435.76" y="143.91" width="7.77" height="3.48" fill="#e00606" />
<rect x="435.76" y="145.35" width="7.77" height="1.74" fill="#ce0505" />
<rect x="435.76" y="146.79" width="7.77" height="3.48" fill="#640303" />
<rect x="435.76" y="148.23" width="7.77" height="1.74" fill="#6b0303" />
<rect x="435.76" y="149.68" width="7.77" height="3.48" fill="#960404" />
<rect x="435.76" y="151.12" width="7.77" height="1.74" fill="#a00404" />
<rect x="435.76" y="152.56" width="7.77" height="3.48" fill="#640303" />
<rect x="435.76" y="155.44" width="7.77" height="3.48" fill="#960404" />
<rect x="435.76" y="158.33" width="7.77" height="3.48" fill="#960404" />
<rect x="435.76" y="159.77" width="7.77" height="1.74" fill="#8a0303" />
<rect x="435.76" y="161.21" width="7.77" height="3.48" fill="#640303" />
<rect x="435.76" y="161.21" width="7.77" height="1.74" fill="#5c0202" />
<rect x="442.93" y="48.70" width="7.77" height="3.48" fill="#640303" />
<rect x="442.93" y="51.59" width="7.77" height="3.48" fill="#640303" />
<rect x="442.93" y="53.03" width="7.77" height="1.74" fill="#6b0303" />
<rect x="442.93" y="54.47" width="7.77" height="3.48" fill="#1e0702" />
<rect x="442.93" y="57.36" width="7.77" height="3.48" fill="#4f9c24" />
<rect x="442.93" y="57.36" width="7.77" height="1.74" fill="#488f21" />
<rect x="442.93" y="60.24" width="7.77" height="3.48" fill="#4f9c24" />
<rect x="442.93" y="60.24" width="7.77" height="1.74" fill="#43861e" />
<rect x="442.93" y="63.12" width="7.77" height="3.48" fill="#2a4e10" />
<rect x="442.93" y="63.12" width="7.77" height="1.74" fill="#24430d" />
<rect x="442.93" y="66.01" width="7.77" height="3.48" fill="#1e0702" />
<rect x="442.93" y="68.90" width="7.77" height="3.48" fill="#1e0702" />
<rect x="442.93" y="70.34" width="7.77" height="1.74" fill="#190601" />
<rect x="442.93" y="71.78" width="7.77" height="3.48" fill="#4f9c24" />
<rect x="442.93" y="73.22" width="7.77" height="1.74" fill="#54a626" />
<rect x="442.93" y="74.66" width="7.77" height="3.48" fill="#2a4e10" />
<rect x="442.93" y="77.55" width="7.77" height="3.48" fill="#e00606" />
<rect x="442.93" y="80.44" width="7.77" height="3.48" fill="#640303" />
<rect x="442.93" y="83.32" width="7.77" height="3.48" fill="#e00606" />
<rect x="442.93" y="84.76" width="7.77" height="1.74" fill="#c00505" />
<rect x="442.93" y="86.20" width="7.77" height="3.48" fill="#960404" />
<rect x="442.93" y="86.20" width="7.77" height="1.74" fill="#810303" />
<rect x="442.93" y="89.09" width="7.77" height="3.48" fill="#960404" />
<rect x="442.93" y="90.53" width="7.77" height="1.74" fill="#a00404" />
<rect x="442.93" y="91.97" width="7.77" height="3.48" fill="#e00606" />
<rect x="442.93" y="93.42" width="7.77" height="1.74" fill="#ef0606" />
<rect x="442.93" y="94.86" width="7.77" height="3.48" fill="#e00606" />
<rect x="442.93" y="94.86" width="7.77" height="1.74" fill="#c00505" />
<rect x="442.93" y="97.75" width="7.77" height="3.48" fill="#1e0702" />
<rect x="442.93" y="99.19" width="7.77" height="1.74" fill="#190601" />
<rect x="442.93" y="100.63" width="7.77" height="1.32" fill="#1e0702" />
<rect x="442.93" y="101.35" width="7.77" height="2.19" fill="#4f9c24" />
<rect x="442.93" y="102.94" width="7.77" height="1.18" fill="#960404" />
<rect x="442.93" y="103.52" width="7.77" height="3.48" fill="#960404" />
<rect x="442.93" y="103.52" width="7.77" height="1.74" fill="#810303" />
<rect x="442.93" y="106.40" width="7.77" height="3.48" fill="#e00606" />
<rect x="442.93" y="107.84" width="7.77" height="1.74" fill="#c00505" />
<rect x="442.93" y="109.28" width="7.77" height="3.48" fill="#640303" />
<rect x="442.93" y="110.73" width="7.77" height="1.74" fill="#560202" />
<rect x="442.93" y="112.17" width="7.77" height="3.48" fill="#640303" />
<rect x="442.93" y="113.61" width="7.77" height="1.74" fill="#5c0202" />
<rect x="442.93" y="115.05" width="7.77" height="3.48" fill="#960404" />
<rect x="442.93" y="116.50" width="7.77" height="1.74" fill="#810303" />
<rect x="442.93" y="117.94" width="7.77" height="3.48" fill="#e00606" />
<rect x="442.93" y="120.83" width="7.77" height="1.32" fill="#e00606" />
<rect x="442.93" y="121.55" width="7.77" height="2.19" fill="#4f9c24" />
<rect x="442.93" y="123.13" width="7.77" height="1.18" fill="#1e0702" />
<rect x="442.93" y="123.71" width="7.77" height="3.48" fill="#1e0702" />
<rect x="442.93" y="126.59" width="7.77" height="3.48" fill="#1e0702" />
<rect x="442.93" y="128.04" width="7.77" height="1.74" fill="#200702" />
<rect x="442.93" y="129.48" width="7.77" height="3.48" fill="#1e0702" />
<rect x="442.93" y="130.92" width="7.77" height="1.74" fill="#1b0601" />
<rect x="442.93" y="132.37" width="7.77" height="3.48" fill="#640303" />
<rect x="442.93" y="135.25" width="7.77" height="3.48" fill="#640303" />
<rect x="442.93" y="136.69" width="7.77" height="1.74" fill="#5c0202" />
<rect x="442.93" y="138.13" width="7.77" height="3.48" fill="#1e0702" />
<rect x="442.93" y="138.13" width="7.77" height="1.74" fill="#200702" />
<rect x="442.93" y="141.02" width="7.77" height="3.48" fill="#e00606" />
<rect x="442.93" y="143.91" width="7.77" height="3.48" fill="#e00606" />
<rect x="442.93" y="145.35" width="7.77" height="1.74" fill="#ef0606" />
<rect x="442.93" y="146.79" width="7.77" height="3.48" fill="#640303" />
<rect x="442.93" y="146.79" width="7.77" height="1.74" fill="#560202" />
<rect x="442.93" y="149.68" width="7.77" height="3.48" fill="#960404" />
<rect x="442.93" y="151.12" width="7.77" height="1.74" fill="#8a0303" />
<rect x="442.93" y="152.56" width="7.77" height="3.48" fill="#960404" />
<rect x="442.93" y="155.44" width="7.77" height="3.48" fill="#640303" />
<rect x="442.93" y="158.33" width="7.77" height="3.48" fill="#e00606" />
<rect x="442.93" y="161.21" width="7.77" height="3.48" fill="#640303" />
<rect x="442.93" y="161.21" width="7.77" height="1.74" fill="#6b0303" />
<rect x="450.10" y="48.70" width="7.77" height="3.48" fill="#6ed030" />
<rect x="450.10" y="51.59" width="7.77" height="3.48" fill="#6ed030" />
<rect x="450.10" y="53.03" width="7.77" height="1.74" fill="#75de33" />
<rect x="450.10" y="54.47" width="7.77" height="3.48" fill="#6ed030" />
<rect x="450.10" y="57.36" width="7.77" height="3.48" fill="#2a4e10" />
<rect x="450.10" y="58.80" width="7.77" height="1.74" fill="#24430d" />
<rect x="450.10" y="60.24" width="7.77" height="3.48" fill="#8ef840" />
<rect x="450.10" y="60.24" width="7.77" height="1.74" fill="#82e43a" />
<rect x="450.10" y="63.12" width="7.77" height="3.48" fill="#6ed030" />
<rect x="450.10" y="64.57" width="7.77" height="1.74" fill="#65bf2c" />
<rect x="450.10" y="66.01" width="7.77" height="3.48" fill="#8ef840" />
<rect x="450.10" y="66.01" width="7.77" height="1.74" fill="#97ff44" />
<rect x="450.10" y="68.90" width="7.77" height="3.48" fill="#6ed030" />
<rect x="450.10" y="71.78" width="7.77" height="3.48" fill="#6ed030" />
<rect x="450.10" y="71.78" width="7.77" height="1.74" fill="#65bf2c" />
<rect x="450.10" y="74.66" width="7.77" height="3.48" fill="#4f9c24" />
<rect x="450.10" y="77.55" width="7.77" height="3.48" fill="#8ef840" />
<rect x="450.10" y="80.44" width="7.77" height="3.48" fill="#640303" />
<rect x="450.10" y="80.44" width="7.77" height="1.74" fill="#560202" />
<rect x="450.10" y="83.32" width="7.77" height="3.48" fill="#640303" />
<rect x="450.10" y="84.76" width="7.77" height="1.74" fill="#6b0303" />
<rect x="450.10" y="86.20" width="7.77" height="3.48" fill="#960404" />
<rect x="450.10" y="87.65" width="7.77" height="1.74" fill="#810303" />
<rect x="450.10" y="89.09" width="7.77" height="3.48" fill="#960404" />
<rect x="450.10" y="90.53" width="7.77" height="1.74" fill="#8a0303" />
<rect x="450.10" y="91.97" width="7.77" height="3.48" fill="#2a4e10" />
<rect x="450.10" y="91.97" width="7.77" height="1.74" fill="#2c5311" />
<rect x="450.10" y="94.86" width="7.77" height="3.48" fill="#2a4e10" />
<rect x="450.10" y="94.86" width="7.77" height="1.74" fill="#2c5311" />
<rect x="450.10" y="97.75" width="7.77" height="3.48" fill="#640303" />
<rect x="450.10" y="99.19" width="7.77" height="1.74" fill="#560202" />
<rect x="450.10" y="100.63" width="7.77" height="3.48" fill="#e00606" />
<rect x="450.10" y="102.07" width="7.77" height="1.74" fill="#c00505" />
<rect x="450.10" y="103.52" width="7.77" height="3.48" fill="#640303" />
<rect x="450.10" y="103.52" width="7.77" height="1.74" fill="#5c0202" />
<rect x="450.10" y="106.40" width="7.77" height="3.48" fill="#960404" />
<rect x="450.10" y="107.84" width="7.77" height="1.74" fill="#a00404" />
<rect x="450.10" y="109.28" width="7.77" height="3.48" fill="#640303" />
<rect x="450.10" y="110.73" width="7.77" height="1.74" fill="#6b0303" />
<rect x="450.10" y="112.17" width="7.77" height="3.48" fill="#960404" />
<rect x="450.10" y="115.05" width="7.77" height="3.48" fill="#6ed030" />
<rect x="450.10" y="115.05" width="7.77" height="1.74" fill="#65bf2c" />
<rect x="450.10" y="117.94" width="7.77" height="3.48" fill="#1e0702" />
<rect x="450.10" y="120.83" width="7.77" height="3.48" fill="#e00606" />
<rect x="450.10" y="123.71" width="7.77" height="3.48" fill="#e00606" />
<rect x="450.10" y="126.59" width="7.77" height="3.48" fill="#e00606" />
<rect x="450.10" y="129.48" width="7.77" height="3.48" fill="#960404" />
<rect x="450.10" y="130.92" width="7.77" height="1.74" fill="#8a0303" />
<rect x="450.10" y="132.37" width="7.77" height="3.48" fill="#e00606" />
<rect x="450.10" y="132.37" width="7.77" height="1.74" fill="#ce0505" />
<rect x="450.10" y="135.25" width="7.77" height="3.48" fill="#e00606" />
<rect x="450.10" y="138.13" width="7.77" height="3.48" fill="#e00606" />
<rect x="450.10" y="139.58" width="7.77" height="1.74" fill="#ce0505" />
<rect x="450.10" y="141.02" width="7.77" height="3.48" fill="#640303" />
<rect x="450.10" y="141.02" width="7.77" height="1.74" fill="#6b0303" />
<rect x="450.10" y="143.91" width="7.77" height="3.48" fill="#640303" />
<rect x="450.10" y="143.91" width="7.77" height="1.74" fill="#560202" />
<rect x="450.10" y="146.79" width="7.77" height="3.48" fill="#960404" />
<rect x="450.10" y="146.79" width="7.77" height="1.74" fill="#a00404" />
<rect x="450.10" y="149.68" width="7.77" height="3.48" fill="#1e0702" />
<rect x="450.10" y="152.56" width="7.77" height="3.48" fill="#640303" />
<rect x="450.10" y="155.44" width="7.77" height="3.48" fill="#640303" />
<rect x="450.10" y="158.33" width="7.77" height="3.48" fill="#960404" />
<rect x="450.10" y="158.33" width="7.77" height="1.74" fill="#810303" />
<rect x="450.10" y="161.21" width="7.77" height="3.48" fill="#640303" />
<rect x="450.10" y="161.21" width="7.77" height="1.74" fill="#5c0202" />
<rect x="457.28" y="48.70" width="7.77" height="3.48" fill="#4f9c24" />
<rect x="457.28" y="48.70" width="7.77" height="1.74" fill="#488f21" />
<rect x="457.28" y="51.59" width="7.77" height="3.48" fill="#4f9c24" />
<rect x="457.28" y="51.59" width="7.77" height="1.74" fill="#54a626" />
<rect x="457.28" y="54.47" width="7.77" height="3.48" fill="#2a4e10" />
<rect x="457.28" y="54.47" width="7.77" height="1.74" fill="#24430d" />
<rect x="457.28" y="57.36" width="7.77" height="3.48" fill="#6ed030" />
<rect x="457.28" y="60.24" width="7.77" height="3.48" fill="#2a4e10" />
<rect x="457.28" y="61.68" width="7.77" height="1.74" fill="#24430d" />
<rect x="457.28" y="63.12" width="7.77" height="3.48" fill="#4f9c24" />
<rect x="457.28" y="64.57" width="7.77" height="1.74" fill="#488f21" />
<rect x="457.28" y="66.01" width="7.77" height="3.48" fill="#6ed030" />
<rect x="457.28" y="66.01" width="7.77" height="1.74" fill="#5eb229" />
<rect x="457.28" y="68.90" width="7.77" height="3.48" fill="#4f9c24" />
<rect x="457.28" y="71.78" width="7.77" height="3.48" fill="#1e0702" />
<rect x="457.28" y="71.78" width="7.77" height="1.74" fill="#190601" />
<rect x="457.28" y="74.66" width="7.77" height="3.48" fill="#1e0702" />
<rect x="457.28" y="77.55" width="7.77" height="1.32" fill="#1e0702" />
<rect x="457.28" y="78.27" width="7.77" height="2.19" fill="#2a4e10" />
<rect x="457.28" y="79.86" width="7.77" height="1.18" fill="#640303" />
<rect x="457.28" y="80.44" width="7.77" height="3.48" fill="#640303" />
<rect x="457.28" y="83.32" width="7.77" height="3.48" fill="#1e0702" />
<rect x="457.28" y="83.32" width="7.77" height="1.74" fill="#1b0601" />
<rect x="457.28" y="86.20" width="7.77" height="3.48" fill="#1e0702" />
<rect x="457.28" y="86.20" width="7.77" height="1.74" fill="#190601" />
<rect x="457.28" y="89.09" width="7.77" height="3.48" fill="#1e0702" />
<rect x="457.28" y="89.09" width="7.77" height="1.74" fill="#1b0601" />
<rect x="457.28" y="91.97" width="7.77" height="3.48" fill="#640303" />
<rect x="457.28" y="91.97" width="7.77" height="1.74" fill="#5c0202" />
<rect x="457.28" y="94.86" width="7.77" height="3.48" fill="#640303" />
<rect x="457.28" y="94.86" width="7.77" height="1.74" fill="#6b0303" />
<rect x="457.28" y="97.75" width="7.77" height="3.48" fill="#640303" />
<rect x="457.28" y="97.75" width="7.77" height="1.74" fill="#560202" />
<rect x="457.28" y="100.63" width="7.77" height="3.48" fill="#e00606" />
<rect x="457.28" y="100.63" width="7.77" height="1.74" fill="#ef0606" />
<rect x="457.28" y="103.52" width="7.77" height="1.32" fill="#e00606" />
<rect x="457.28" y="104.24" width="7.77" height="2.19" fill="#2a4e10" />
<rect x="457.28" y="105.82" width="7.77" height="1.18" fill="#1e0702" />
<rect x="457.28" y="106.40" width="7.77" height="3.48" fill="#1e0702" />
<rect x="457.28" y="106.40" width="7.77" height="1.74" fill="#200702" />
<rect x="457.28" y="109.28" width="7.77" height="3.48" fill="#1e0702" />
<rect x="457.28" y="112.17" width="7.77" height="3.48" fill="#1e0702" />
<rect x="457.28" y="115.05" width="7.77" height="3.48" fill="#1e0702" />
<rect x="457.28" y="116.50" width="7.77" height="1.74" fill="#200702" />
<rect x="457.28" y="117.94" width="7.77" height="3.48" fill="#6ed030" />
<rect x="457.28" y="120.83" width="7.77" height="3.48" fill="#640303" />
<rect x="457.28" y="120.83" width="7.77" height="1.74" fill="#6b0303" />
<rect x="457.28" y="123.71" width="7.77" height="3.48" fill="#640303" />
<rect x="457.28" y="123.71" width="7.77" height="1.74" fill="#5c0202" />
<rect x="457.28" y="126.59" width="7.77" height="3.48" fill="#640303" />
<rect x="457.28" y="129.48" width="7.77" height="3.48" fill="#640303" />
<rect x="457.28" y="132.37" width="7.77" height="3.48" fill="#640303" />
<rect x="457.28" y="133.81" width="7.77" height="1.74" fill="#6b0303" />
<rect x="457.28" y="135.25" width="7.77" height="3.48" fill="#640303" />
<rect x="457.28" y="138.13" width="7.77" height="3.48" fill="#640303" />
<rect x="457.28" y="141.02" width="7.77" height="3.48" fill="#640303" />
<rect x="457.28" y="143.91" width="7.77" height="3.48" fill="#1e0702" />
<rect x="457.28" y="146.79" width="7.77" height="3.48" fill="#e00606" />
<rect x="457.28" y="148.23" width="7.77" height="1.74" fill="#ef0606" />
<rect x="457.28" y="149.68" width="7.77" height="3.48" fill="#6ed030" />
<rect x="457.28" y="149.68" width="7.77" height="1.74" fill="#65bf2c" />
<rect x="457.28" y="152.56" width="7.77" height="3.48" fill="#1e0702" />
<rect x="457.28" y="154.00" width="7.77" height="1.74" fill="#1b0601" />
<rect x="457.28" y="155.44" width="7.77" height="3.48" fill="#1e0702" />
<rect x="457.28" y="158.33" width="7.77" height="3.48" fill="#640303" />
<rect x="457.28" y="158.33" width="7.77" height="1.74" fill="#560202" />
<rect x="457.28" y="161.21" width="7.77" height="3.48" fill="#1e0702" />
<rect x="464.45" y="48.70" width="7.77" height="3.48" fill="#4f9c24" />
<rect x="464.45" y="51.59" width="7.77" height="3.48" fill="#4f9c24" />
<rect x="464.45" y="53.03" width="7.77" height="1.74" fill="#54a626" />
<rect x="464.45" y="54.47" width="7.77" height="3.48" fill="#6ed030" />
<rect x="464.45" y="55.91" width="7.77" height="1.74" fill="#75de33" />
<rect x="464.45" y="57.36" width="7.77" height="3.48" fill="#4f9c24" />
<rect x="464.45" y="58.80" width="7.77" height="1.74" fill="#54a626" />
<rect x="464.45" y="60.24" width="7.77" height="3.48" fill="#2a4e10" />
<rect x="464.45" y="63.12" width="7.77" height="3.48" fill="#4f9c24" />
<rect x="464.45" y="63.12" width="7.77" height="1.74" fill="#43861e" />
<rect x="464.45" y="66.01" width="7.77" height="3.48" fill="#2a4e10" />
<rect x="464.45" y="66.01" width="7.77" height="1.74" fill="#2c5311" />
<rect x="464.45" y="68.90" width="7.77" height="3.48" fill="#4f9c24" />
<rect x="464.45" y="68.90" width="7.77" height="1.74" fill="#488f21" />
<rect x="464.45" y="71.78" width="7.77" height="3.48" fill="#6ed030" />
<rect x="464.45" y="74.66" width="7.77" height="3.48" fill="#2a4e10" />
<rect x="464.45" y="74.66" width="7.77" height="1.74" fill="#24430d" />
<rect x="464.45" y="77.55" width="7.77" height="3.48" fill="#4f9c24" />
<rect x="464.45" y="80.44" width="7.77" height="3.48" fill="#2a4e10" />
<rect x="464.45" y="83.32" width="7.77" height="3.48" fill="#640303" />
<rect x="464.45" y="84.76" width="7.77" height="1.74" fill="#5c0202" />
<rect x="464.45" y="86.20" width="7.77" height="3.48" fill="#960404" />
<rect x="464.45" y="89.09" width="7.77" height="3.48" fill="#640303" />
<rect x="464.45" y="91.97" width="7.77" height="3.48" fill="#960404" />
<rect x="464.45" y="94.86" width="7.77" height="3.48" fill="#640303" />
<rect x="464.45" y="97.75" width="7.77" height="3.48" fill="#960404" />
<rect x="464.45" y="100.63" width="7.77" height="3.48" fill="#640303" />
<rect x="464.45" y="100.63" width="7.77" height="1.74" fill="#5c0202" />
<rect x="464.45" y="103.52" width="7.77" height="1.32" fill="#640303" />
<rect x="464.45" y="104.24" width="7.77" height="2.19" fill="#4f9c24" />
<rect x="464.45" y="105.82" width="7.77" height="1.18" fill="#640303" />
<rect x="464.45" y="106.40" width="7.77" height="3.48" fill="#640303" />
<rect x="464.45" y="107.84" width="7.77" height="1.74" fill="#5c0202" />
<rect x="464.45" y="109.28" width="7.77" height="3.48" fill="#1e0702" />
<rect x="464.45" y="110.73" width="7.77" height="1.74" fill="#200702" />
<rect x="464.45" y="112.17" width="7.77" height="3.48" fill="#1e0702" />
<rect x="464.45" y="112.17" width="7.77" height="1.74" fill="#200702" />
<rect x="464.45" y="115.05" width="7.77" height="3.48" fill="#1e0702" />
<rect x="464.45" y="115.05" width="7.77" height="1.74" fill="#200702" />
<rect x="464.45" y="117.94" width="7.77" height="3.48" fill="#6ed030" />
<rect x="464.45" y="119.38" width="7.77" height="1.74" fill="#75de33" />
<rect x="464.45" y="120.83" width="7.77" height="3.48" fill="#960404" />
<rect x="464.45" y="120.83" width="7.77" height="1.74" fill="#8a0303" />
<rect x="464.45" y="123.71" width="7.77" height="3.48" fill="#960404" />
<rect x="464.45" y="126.59" width="7.77" height="3.48" fill="#640303" />
<rect x="464.45" y="129.48" width="7.77" height="3.48" fill="#960404" />
<rect x="464.45" y="130.92" width="7.77" height="1.74" fill="#810303" />
<rect x="464.45" y="132.37" width="7.77" height="3.48" fill="#640303" />
<rect x="464.45" y="133.81" width="7.77" height="1.74" fill="#6b0303" />
<rect x="464.45" y="135.25" width="7.77" height="3.48" fill="#960404" />
<rect x="464.45" y="138.13" width="7.77" height="3.48" fill="#960404" />
<rect x="464.45" y="141.02" width="7.77" height="3.48" fill="#e00606" />
<rect x="464.45" y="143.91" width="7.77" height="3.48" fill="#640303" />
<rect x="464.45" y="145.35" width="7.77" height="1.74" fill="#5c0202" />
<rect x="464.45" y="146.79" width="7.77" height="3.48" fill="#960404" />
<rect x="464.45" y="148.23" width="7.77" height="1.74" fill="#8a0303" />
<rect x="464.45" y="149.68" width="7.77" height="1.32" fill="#960404" />
<rect x="464.45" y="150.40" width="7.77" height="2.19" fill="#2a4e10" />
<rect x="464.45" y="151.98" width="7.77" height="1.18" fill="#640303" />
<rect x="464.45" y="152.56" width="7.77" height="3.48" fill="#640303" />
<rect x="464.45" y="155.44" width="7.77" height="3.48" fill="#640303" />
<rect x="464.45" y="156.89" width="7.77" height="1.74" fill="#5c0202" />
<rect x="464.45" y="158.33" width="7.77" height="3.48" fill="#640303" />
<rect x="464.45" y="161.21" width="7.77" height="3.48" fill="#640303" />
<rect x="464.45" y="161.21" width="7.77" height="1.74" fill="#5c0202" />
<rect x="471.63" y="48.70" width="7.77" height="3.48" fill="#4f9c24" />
<rect x="471.63" y="51.59" width="7.77" height="3.48" fill="#2a4e10" />
<rect x="471.63" y="54.47" width="7.77" height="3.48" fill="#4f9c24" />
<rect x="471.63" y="54.47" width="7.77" height="1.74" fill="#488f21" />
<rect x="471.63" y="57.36" width="7.77" height="3.48" fill="#8ef840" />
<rect x="471.63" y="60.24" width="7.77" height="3.48" fill="#2a4e10" />
<rect x="471.63" y="60.24" width="7.77" height="1.74" fill="#26470e" />
<rect x="471.63" y="63.12" width="7.77" height="3.48" fill="#4f9c24" />
<rect x="471.63" y="64.57" width="7.77" height="1.74" fill="#43861e" />
<rect x="471.63" y="66.01" width="7.77" height="3.48" fill="#2a4e10" />
<rect x="471.63" y="68.90" width="7.77" height="3.48" fill="#4f9c24" />
<rect x="471.63" y="68.90" width="7.77" height="1.74" fill="#43861e" />
<rect x="471.63" y="71.78" width="7.77" height="3.48" fill="#4f9c24" />
<rect x="471.63" y="74.66" width="7.77" height="1.32" fill="#4f9c24" />
<rect x="471.63" y="75.39" width="7.77" height="2.19" fill="#1e0702" />
<rect x="471.63" y="76.97" width="7.77" height="1.18" fill="#2a4e10" />
<rect x="471.63" y="77.55" width="7.77" height="3.48" fill="#2a4e10" />
<rect x="471.63" y="77.55" width="7.77" height="1.74" fill="#26470e" />
<rect x="471.63" y="80.44" width="7.77" height="3.48" fill="#2a4e10" />
<rect x="471.63" y="80.44" width="7.77" height="1.74" fill="#26470e" />
<rect x="471.63" y="83.32" width="7.77" height="3.48" fill="#640303" />
<rect x="471.63" y="83.32" width="7.77" height="1.74" fill="#6b0303" />
<rect x="471.63" y="86.20" width="7.77" height="3.48" fill="#960404" />
<rect x="471.63" y="86.20" width="7.77" height="1.74" fill="#8a0303" />
<rect x="471.63" y="89.09" width="7.77" height="3.48" fill="#640303" />
<rect x="471.63" y="91.97" width="7.77" height="3.48" fill="#640303" />
<rect x="471.63" y="91.97" width="7.77" height="1.74" fill="#560202" />
<rect x="471.63" y="94.86" width="7.77" height="3.48" fill="#960404" />
<rect x="471.63" y="97.75" width="7.77" height="3.48" fill="#960404" />
<rect x="471.63" y="100.63" width="7.77" height="3.48" fill="#960404" />
<rect x="471.63" y="100.63" width="7.77" height="1.74" fill="#a00404" />
<rect x="471.63" y="103.52" width="7.77" height="1.32" fill="#960404" />
<rect x="471.63" y="104.24" width="7.77" height="2.19" fill="#4f9c24" />
<rect x="471.63" y="105.82" width="7.77" height="1.18" fill="#640303" />
<rect x="471.63" y="106.40" width="7.77" height="3.48" fill="#640303" />
<rect x="471.63" y="109.28" width="7.77" height="3.48" fill="#1e0702" />
<rect x="471.63" y="109.28" width="7.77" height="1.74" fill="#190601" />
<rect x="471.63" y="112.17" width="7.77" height="1.32" fill="#1e0702" />
<rect x="471.63" y="112.89" width="7.77" height="2.19" fill="#2a4e10" />
<rect x="471.63" y="114.48" width="7.77" height="1.18" fill="#1e0702" />
<rect x="471.63" y="115.05" width="7.77" height="1.32" fill="#2a4e10" />
<rect x="471.63" y="115.78" width="7.77" height="2.19" fill="#1e0702" />
<rect x="471.63" y="117.36" width="7.77" height="1.18" fill="#6ed030" />
<rect x="471.63" y="117.94" width="7.77" height="3.48" fill="#6ed030" />
<rect x="471.63" y="119.38" width="7.77" height="1.74" fill="#75de33" />
<rect x="471.63" y="120.83" width="7.77" height="3.48" fill="#960404" />
<rect x="471.63" y="123.71" width="7.77" height="3.48" fill="#960404" />
<rect x="471.63" y="125.15" width="7.77" height="1.74" fill="#810303" />
<rect x="471.63" y="126.59" width="7.77" height="3.48" fill="#640303" />
<rect x="471.63" y="128.04" width="7.77" height="1.74" fill="#6b0303" />
<rect x="471.63" y="129.48" width="7.77" height="3.48" fill="#960404" />
<rect x="471.63" y="129.48" width="7.77" height="1.74" fill="#8a0303" />
<rect x="471.63" y="132.37" width="7.77" height="3.48" fill="#640303" />
<rect x="471.63" y="135.25" width="7.77" height="3.48" fill="#640303" />
<rect x="471.63" y="136.69" width="7.77" height="1.74" fill="#6b0303" />
<rect x="471.63" y="138.13" width="7.77" height="3.48" fill="#960404" />
<rect x="471.63" y="138.13" width="7.77" height="1.74" fill="#810303" />
<rect x="471.63" y="141.02" width="7.77" height="3.48" fill="#960404" />
<rect x="471.63" y="143.91" width="7.77" height="3.48" fill="#640303" />
<rect x="471.63" y="145.35" width="7.77" height="1.74" fill="#5c0202" />
<rect x="471.63" y="146.79" width="7.77" height="3.48" fill="#960404" />
<rect x="471.63" y="149.68" width="7.77" height="1.32" fill="#960404" />
<rect x="471.63" y="150.40" width="7.77" height="2.19" fill="#2a4e10" />
<rect x="471.63" y="151.98" width="7.77" height="1.18" fill="#1e0702" />
<rect x="471.63" y="152.56" width="7.77" height="3.48" fill="#1e0702" />
<rect x="471.63" y="155.44" width="7.77" height="3.48" fill="#640303" />
<rect x="471.63" y="156.89" width="7.77" height="1.74" fill="#6b0303" />
<rect x="471.63" y="158.33" width="7.77" height="3.48" fill="#960404" />
<rect x="471.63" y="159.77" width="7.77" height="1.74" fill="#8a0303" />
<rect x="471.63" y="161.21" width="7.77" height="3.48" fill="#640303" />
<rect x="471.63" y="162.66" width="7.77" height="1.74" fill="#6b0303" />
</g></g>
<rect x="285.40" y="166.20" width="6.57" height="2.60" fill="#3e8c1c" />
<rect x="292.57" y="166.20" width="6.57" height="2.60" fill="#3e8c1c" />
<rect x="299.75" y="166.20" width="6.57" height="2.60" fill="#3e8c1c" />
<rect x="306.92" y="166.20" width="6.57" height="2.60" fill="#3e8c1c" />
<rect x="314.10" y="166.20" width="6.57" height="2.60" fill="#3e8c1c" />
<rect x="321.27" y="166.20" width="6.57" height="2.60" fill="#3e8c1c" />
<rect x="328.44" y="166.20" width="6.57" height="2.60" fill="#3e8c1c" />
<rect x="335.62" y="166.20" width="6.57" height="2.60" fill="#3e8c1c" />
<rect x="342.79" y="166.20" width="6.57" height="2.60" fill="#3e8c1c" />
<rect x="349.97" y="166.20" width="6.57" height="2.60" fill="#5b9ad6" />
<rect x="357.14" y="166.20" width="6.57" height="2.60" fill="#5b9ad6" />
<rect x="364.31" y="166.20" width="6.57" height="2.60" fill="#5b9ad6" />
<rect x="371.49" y="166.20" width="6.57" height="2.60" fill="#5b9ad6" />
<rect x="378.66" y="166.20" width="6.57" height="2.60" fill="#3e8c1c" />
<rect x="385.84" y="166.20" width="6.57" height="2.60" fill="#3e8c1c" />
<rect x="393.01" y="166.20" width="6.57" height="2.60" fill="#3e8c1c" />
<rect x="400.19" y="166.20" width="6.57" height="2.60" fill="#3e8c1c" />
<rect x="407.36" y="166.20" width="6.57" height="2.60" fill="#3e8c1c" />
<rect x="414.53" y="166.20" width="6.57" height="2.60" fill="#3e8c1c" />
<rect x="421.71" y="166.20" width="6.57" height="2.60" fill="#efbb78" />
<rect x="428.88" y="166.20" width="6.57" height="2.60" fill="#efbb78" />
<rect x="436.06" y="166.20" width="6.57" height="2.60" fill="#efbb78" />
<rect x="443.23" y="166.20" width="6.57" height="2.60" fill="#efbb78" />
<rect x="450.40" y="166.20" width="6.57" height="2.60" fill="#e5891e" />
<rect x="457.58" y="166.20" width="6.57" height="2.60" fill="#e5891e" />
<rect x="464.75" y="166.20" width="6.57" height="2.60" fill="#e5891e" />
<rect x="471.93" y="166.20" width="6.57" height="2.60" fill="#e5891e" />
<path d="M288.68703703703704,170.08999999999997 L290.29703703703706,172.9075 L287.07703703703703,172.9075 Z" fill="none" stroke="#111" stroke-width="0.75"/>
<circle cx="295.86111111111114" cy="171.7" r="1.4" fill="none" stroke="#111" stroke-width="0.75"/>
<path d="M303.0351851851852,170.08999999999997 L304.6451851851852,172.9075 L301.42518518518517,172.9075 Z" fill="none" stroke="#111" stroke-width="0.75"/>
<rect x="308.8092592592593" y="170.29999999999998" width="2.8" height="2.8" fill="none" stroke="#111" stroke-width="0.75"/>
<path d="M317.3833333333333,170.08999999999997 L318.99333333333334,172.9075 L315.7733333333333,172.9075 Z" fill="none" stroke="#111" stroke-width="0.75"/>
<circle cx="324.5574074074074" cy="171.7" r="1.4" fill="none" stroke="#111" stroke-width="0.75"/>
<rect x="330.33148148148155" y="170.29999999999998" width="2.8" height="2.8" fill="none" stroke="#111" stroke-width="0.75"/>
<circle cx="338.90555555555557" cy="171.7" r="1.4" fill="none" stroke="#111" stroke-width="0.75"/>
<circle cx="346.07962962962966" cy="171.7" r="1.4" fill="none" stroke="#111" stroke-width="0.75"/>
<circle cx="353.2537037037037" cy="171.7" r="1.4" fill="none" stroke="#111" stroke-width="0.75"/>
<path d="M360.4277777777778,170.08999999999997 L362.0377777777778,172.9075 L358.8177777777778,172.9075 Z" fill="none" stroke="#111" stroke-width="0.75"/>
<circle cx="367.60185185185185" cy="171.7" r="1.4" fill="none" stroke="#111" stroke-width="0.75"/>
<circle cx="374.77592592592595" cy="171.7" r="1.4" fill="none" stroke="#111" stroke-width="0.75"/>
<rect x="380.55000000000007" y="170.29999999999998" width="2.8" height="2.8" fill="none" stroke="#111" stroke-width="0.75"/>
<rect x="387.7240740740741" y="170.29999999999998" width="2.8" height="2.8" fill="none" stroke="#111" stroke-width="0.75"/>
<rect x="394.8981481481482" y="170.29999999999998" width="2.8" height="2.8" fill="none" stroke="#111" stroke-width="0.75"/>
<path d="M403.47222222222223,170.08999999999997 L405.08222222222224,172.9075 L401.8622222222222,172.9075 Z" fill="none" stroke="#111" stroke-width="0.75"/>
<path d="M410.6462962962963,170.08999999999997 L412.25629629629634,172.9075 L409.0362962962963,172.9075 Z" fill="none" stroke="#111" stroke-width="0.75"/>
<path d="M417.82037037037037,170.08999999999997 L419.4303703703704,172.9075 L416.21037037037036,172.9075 Z" fill="none" stroke="#111" stroke-width="0.75"/>
<path d="M423.31444444444446,171.7 H426.6744444444445 M424.99444444444447,170.01999999999998 V173.38" stroke="#111" stroke-width="0.75"/>
<circle cx="432.16851851851857" cy="171.7" r="1.4" fill="none" stroke="#111" stroke-width="0.75"/>
<path d="M439.3425925925926,170.08999999999997 L440.9525925925926,172.9075 L437.7325925925926,172.9075 Z" fill="none" stroke="#111" stroke-width="0.75"/>
<rect x="445.1166666666667" y="170.29999999999998" width="2.8" height="2.8" fill="none" stroke="#111" stroke-width="0.75"/>
<path d="M452.01074074074074,171.7 H455.37074074074076 M453.69074074074075,170.01999999999998 V173.38" stroke="#111" stroke-width="0.75"/>
<circle cx="460.86481481481485" cy="171.7" r="1.4" fill="none" stroke="#111" stroke-width="0.75"/>
<rect x="466.6388888888889" y="170.29999999999998" width="2.8" height="2.8" fill="none" stroke="#111" stroke-width="0.75"/>
<path d="M475.212962962963,170.08999999999997 L476.822962962963,172.9075 L473.602962962963,172.9075 Z" fill="none" stroke="#111" stroke-width="0.75"/>
<path d="M284.8,172.0 V174.6 H377.56296296296296 V172.0" fill="none" stroke="#555" stroke-width="0.8"/>
<path d="M379.162962962963,172.0 V174.6 H420.6074074074074 V172.0" fill="none" stroke="#555" stroke-width="0.8"/>
<path d="M422.2074074074074,172.0 V174.6 H449.3037037037037 V172.0" fill="none" stroke="#555" stroke-width="0.8"/>
<path d="M450.90370370370374,172.0 V174.6 H478.5 V172.0" fill="none" stroke="#555" stroke-width="0.8"/>
<text x="331.2" y="185.6" font-size="8.1" text-anchor="middle" fill="#111" font-weight="normal"  stroke="#111" stroke-width="0.2">Group II</text>
<text x="399.9" y="185.6" font-size="8.1" text-anchor="middle" fill="#111" font-weight="normal"  stroke="#111" stroke-width="0.2">Group I</text>
<text x="435.9" y="184.9" font-size="8.1" text-anchor="middle" fill="#111" font-weight="normal"  stroke="#111" stroke-width="0.2">Resting</text>
<text x="464.6" y="184.9" font-size="8.1" text-anchor="middle" fill="#111" font-weight="normal"  stroke="#111" stroke-width="0.2">LPS</text>
<text x="464.6" y="195.2" font-size="8.1" text-anchor="middle" fill="#111" font-weight="normal"  stroke="#111" stroke-width="0.2">-stim</text>
<rect x="487.10" y="11.80" width="5.20" height="2.26" fill="rgb(225,0,0)" />
<rect x="487.10" y="13.96" width="5.20" height="2.26" fill="rgb(191,0,0)" />
<rect x="487.10" y="16.11" width="5.20" height="2.26" fill="rgb(158,1,1)" />
<rect x="487.10" y="18.27" width="5.20" height="2.26" fill="rgb(125,2,2)" />
<rect x="487.10" y="20.43" width="5.20" height="2.26" fill="rgb(92,3,3)" />
<rect x="487.10" y="22.59" width="5.20" height="2.26" fill="rgb(59,3,3)" />
<rect x="487.10" y="24.74" width="5.20" height="2.26" fill="rgb(26,4,4)" />
<rect x="487.10" y="26.90" width="5.20" height="2.26" fill="rgb(18,23,8)" />
<rect x="487.10" y="29.06" width="5.20" height="2.26" fill="rgb(35,60,15)" />
<rect x="487.10" y="31.21" width="5.20" height="2.26" fill="rgb(52,97,22)" />
<rect x="487.10" y="33.37" width="5.20" height="2.26" fill="rgb(69,134,29)" />
<rect x="487.10" y="35.53" width="5.20" height="2.26" fill="rgb(86,171,36)" />
<rect x="487.10" y="37.69" width="5.20" height="2.26" fill="rgb(103,208,43)" />
<rect x="487.10" y="39.84" width="5.20" height="2.26" fill="rgb(120,245,50)" />
<text x="495.5" y="16.6" font-size="7.2" text-anchor="start" fill="#111" font-weight="normal"  stroke="#111" stroke-width="0.2">&gt;2</text>
<text x="495.5" y="29.0" font-size="7.2" text-anchor="start" fill="#111" font-weight="normal"  stroke="#111" stroke-width="0.2">0.2</text>
<text x="495.5" y="42.0" font-size="7.2" text-anchor="start" fill="#111" font-weight="normal"  stroke="#111" stroke-width="0.2">&lt;-1.6</text>
<path d="M295.86,48.60 V46.60 H303.04 V48.60" fill="none" stroke="#8a8a8a" stroke-width="0.6"/>
<path d="M299.45,46.60 V45.30 H310.21 V48.60" fill="none" stroke="#8a8a8a" stroke-width="0.6"/>
<path d="M288.69,48.60 V43.60 H304.83 V45.30" fill="none" stroke="#8a8a8a" stroke-width="0.6"/>
<path d="M317.38,48.60 V44.30 H324.56 V48.60" fill="none" stroke="#8a8a8a" stroke-width="0.6"/>
<path d="M296.76,43.60 V42.40 H320.97 V44.30" fill="none" stroke="#8a8a8a" stroke-width="0.6"/>
<path d="M338.91,48.60 V45.80 H346.08 V48.60" fill="none" stroke="#8a8a8a" stroke-width="0.6"/>
<path d="M331.73,48.60 V43.00 H342.49 V45.80" fill="none" stroke="#8a8a8a" stroke-width="0.6"/>
<path d="M308.86,42.40 V39.00 H337.11 V43.00" fill="none" stroke="#8a8a8a" stroke-width="0.6"/>
<path d="M353.25,48.60 V46.80 H360.43 V48.60" fill="none" stroke="#8a8a8a" stroke-width="0.6"/>
<path d="M356.84,46.80 V45.60 H367.60 V48.60" fill="none" stroke="#8a8a8a" stroke-width="0.6"/>
<path d="M362.22,45.60 V44.30 H374.78 V48.60" fill="none" stroke="#8a8a8a" stroke-width="0.6"/>
<path d="M322.99,39.00 V35.30 H368.50 V44.30" fill="none" stroke="#8a8a8a" stroke-width="0.6"/>
<path d="M389.12,48.60 V46.20 H396.30 V48.60" fill="none" stroke="#8a8a8a" stroke-width="0.6"/>
<path d="M381.95,48.60 V43.40 H392.71 V46.20" fill="none" stroke="#8a8a8a" stroke-width="0.6"/>
<path d="M403.47,48.60 V45.90 H410.65 V48.60" fill="none" stroke="#8a8a8a" stroke-width="0.6"/>
<path d="M407.06,45.90 V42.40 H417.82 V48.60" fill="none" stroke="#8a8a8a" stroke-width="0.6"/>
<path d="M387.33,43.40 V39.90 H412.44 V42.40" fill="none" stroke="#8a8a8a" stroke-width="0.6"/>
<path d="M424.99,48.60 V46.90 H432.17 V48.60" fill="none" stroke="#8a8a8a" stroke-width="0.6"/>
<path d="M439.34,48.60 V46.40 H446.52 V48.60" fill="none" stroke="#8a8a8a" stroke-width="0.6"/>
<path d="M428.58,46.90 V45.40 H442.93 V46.40" fill="none" stroke="#8a8a8a" stroke-width="0.6"/>
<path d="M468.04,48.60 V46.90 H475.21 V48.60" fill="none" stroke="#8a8a8a" stroke-width="0.6"/>
<path d="M460.86,48.60 V45.60 H471.63 V46.90" fill="none" stroke="#8a8a8a" stroke-width="0.6"/>
<path d="M453.69,48.60 V44.30 H466.25 V45.60" fill="none" stroke="#8a8a8a" stroke-width="0.6"/>
<path d="M435.76,45.40 V39.00 H459.97 V44.30" fill="none" stroke="#8a8a8a" stroke-width="0.6"/>
<path d="M399.89,39.90 V33.80 H447.86 V39.00" fill="none" stroke="#8a8a8a" stroke-width="0.6"/>
<path d="M345.74,35.30 V7.40 H423.87 V33.80" fill="none" stroke="#8a8a8a" stroke-width="0.6"/>
<path d="M279.77,49.66 H284.6" fill="none" stroke="#8a8a8a" stroke-width="0.6"/>
<path d="M282.44,51.06 H284.6" fill="none" stroke="#8a8a8a" stroke-width="0.6"/>
<path d="M282.13,52.25 H284.6" fill="none" stroke="#8a8a8a" stroke-width="0.6"/>
<path d="M282.44,51.06 H280.67 V52.25 H282.13" fill="none" stroke="#8a8a8a" stroke-width="0.6"/>
<path d="M279.77,49.66 H278.70 V51.66 H280.67" fill="none" stroke="#8a8a8a" stroke-width="0.6"/>
<path d="M280.71,53.73 H284.6" fill="none" stroke="#8a8a8a" stroke-width="0.6"/>
<path d="M280.79,55.08 H284.6" fill="none" stroke="#8a8a8a" stroke-width="0.6"/>
<path d="M280.83,56.34 H284.6" fill="none" stroke="#8a8a8a" stroke-width="0.6"/>
<path d="M280.79,55.08 H279.87 V56.34 H280.83" fill="none" stroke="#8a8a8a" stroke-width="0.6"/>
<path d="M280.71,53.73 H279.00 V55.71 H279.87" fill="none" stroke="#8a8a8a" stroke-width="0.6"/>
<path d="M284.20,58.09 H284.6" fill="none" stroke="#8a8a8a" stroke-width="0.6"/>
<path d="M284.20,59.99 H284.6" fill="none" stroke="#8a8a8a" stroke-width="0.6"/>
<path d="M284.20,61.52 H284.6" fill="none" stroke="#8a8a8a" stroke-width="0.6"/>
<path d="M284.20,59.99 H284.20 V61.52 H284.20" fill="none" stroke="#8a8a8a" stroke-width="0.6"/>
<path d="M284.20,58.09 H282.29 V60.76 H284.20" fill="none" stroke="#8a8a8a" stroke-width="0.6"/>
<path d="M283.37,63.30 H284.6" fill="none" stroke="#8a8a8a" stroke-width="0.6"/>
<path d="M283.36,65.06 H284.6" fill="none" stroke="#8a8a8a" stroke-width="0.6"/>
<path d="M284.20,66.44 H284.6" fill="none" stroke="#8a8a8a" stroke-width="0.6"/>
<path d="M284.20,67.55 H284.6" fill="none" stroke="#8a8a8a" stroke-width="0.6"/>
<path d="M284.20,66.44 H283.70 V67.55 H284.20" fill="none" stroke="#8a8a8a" stroke-width="0.6"/>
<path d="M283.36,65.06 H282.34 V67.00 H283.70" fill="none" stroke="#8a8a8a" stroke-width="0.6"/>
<path d="M283.37,63.30 H281.02 V66.03 H282.34" fill="none" stroke="#8a8a8a" stroke-width="0.6"/>
<path d="M282.29,59.43 H280.00 V64.66 H281.02" fill="none" stroke="#8a8a8a" stroke-width="0.6"/>
<path d="M279.00,54.72 H274.30 V62.04 H280.00" fill="none" stroke="#8a8a8a" stroke-width="0.6"/>
<path d="M278.70,50.66 H270.00 V58.38 H274.30" fill="none" stroke="#8a8a8a" stroke-width="0.6"/>
<path d="M279.18,68.95 H284.6" fill="none" stroke="#8a8a8a" stroke-width="0.6"/>
<path d="M281.01,70.80 H284.6" fill="none" stroke="#8a8a8a" stroke-width="0.6"/>
<path d="M280.81,72.42 H284.6" fill="none" stroke="#8a8a8a" stroke-width="0.6"/>
<path d="M281.01,70.80 H279.44 V72.42 H280.81" fill="none" stroke="#8a8a8a" stroke-width="0.6"/>
<path d="M279.18,68.95 H278.27 V71.61 H279.44" fill="none" stroke="#8a8a8a" stroke-width="0.6"/>
<path d="M282.26,73.82 H284.6" fill="none" stroke="#8a8a8a" stroke-width="0.6"/>
<path d="M281.44,74.96 H284.6" fill="none" stroke="#8a8a8a" stroke-width="0.6"/>
<path d="M282.26,73.82 H280.20 V74.96 H281.44" fill="none" stroke="#8a8a8a" stroke-width="0.6"/>
<path d="M279.93,76.47 H284.6" fill="none" stroke="#8a8a8a" stroke-width="0.6"/>
<path d="M280.20,74.39 H278.59 V76.47 H279.93" fill="none" stroke="#8a8a8a" stroke-width="0.6"/>
<path d="M278.27,70.28 H276.80 V75.43 H278.59" fill="none" stroke="#8a8a8a" stroke-width="0.6"/>
<path d="M270.00,54.52 H261.20 V72.85 H276.80" fill="none" stroke="#8a8a8a" stroke-width="0.6"/>
<path d="M280.12,78.44 H284.6" fill="none" stroke="#8a8a8a" stroke-width="0.6"/>
<path d="M282.41,79.99 H284.6" fill="none" stroke="#8a8a8a" stroke-width="0.6"/>
<path d="M281.60,81.49 H284.6" fill="none" stroke="#8a8a8a" stroke-width="0.6"/>
<path d="M282.41,79.99 H280.73 V81.49 H281.60" fill="none" stroke="#8a8a8a" stroke-width="0.6"/>
<path d="M280.12,78.44 H278.56 V80.74 H280.73" fill="none" stroke="#8a8a8a" stroke-width="0.6"/>
<path d="M281.99,83.43 H284.6" fill="none" stroke="#8a8a8a" stroke-width="0.6"/>
<path d="M281.64,85.28 H284.6" fill="none" stroke="#8a8a8a" stroke-width="0.6"/>
<path d="M281.99,83.43 H279.81 V85.28 H281.64" fill="none" stroke="#8a8a8a" stroke-width="0.6"/>
<path d="M278.56,79.59 H277.25 V84.35 H279.81" fill="none" stroke="#8a8a8a" stroke-width="0.6"/>
<path d="M283.58,86.89 H284.6" fill="none" stroke="#8a8a8a" stroke-width="0.6"/>
<path d="M282.74,88.16 H284.6" fill="none" stroke="#8a8a8a" stroke-width="0.6"/>
<path d="M283.58,86.89 H281.08 V88.16 H282.74" fill="none" stroke="#8a8a8a" stroke-width="0.6"/>
<path d="M281.77,89.29 H284.6" fill="none" stroke="#8a8a8a" stroke-width="0.6"/>
<path d="M282.92,90.43 H284.6" fill="none" stroke="#8a8a8a" stroke-width="0.6"/>
<path d="M281.77,89.29 H280.86 V90.43 H282.92" fill="none" stroke="#8a8a8a" stroke-width="0.6"/>
<path d="M281.08,87.52 H279.24 V89.86 H280.86" fill="none" stroke="#8a8a8a" stroke-width="0.6"/>
<path d="M282.51,91.78 H284.6" fill="none" stroke="#8a8a8a" stroke-width="0.6"/>
<path d="M282.21,93.30 H284.6" fill="none" stroke="#8a8a8a" stroke-width="0.6"/>
<path d="M282.51,91.78 H279.93 V93.30 H282.21" fill="none" stroke="#8a8a8a" stroke-width="0.6"/>
<path d="M279.24,88.69 H277.88 V92.54 H279.93" fill="none" stroke="#8a8a8a" stroke-width="0.6"/>
<path d="M277.25,81.97 H275.50 V90.62 H277.88" fill="none" stroke="#8a8a8a" stroke-width="0.6"/>
<path d="M279.33,94.89 H284.6" fill="none" stroke="#8a8a8a" stroke-width="0.6"/>
<path d="M279.70,96.41 H284.6" fill="none" stroke="#8a8a8a" stroke-width="0.6"/>
<path d="M280.98,98.02 H284.6" fill="none" stroke="#8a8a8a" stroke-width="0.6"/>
<path d="M279.70,96.41 H278.80 V98.02 H280.98" fill="none" stroke="#8a8a8a" stroke-width="0.6"/>
<path d="M279.33,94.89 H277.69 V97.21 H278.80" fill="none" stroke="#8a8a8a" stroke-width="0.6"/>
<path d="M280.39,99.78 H284.6" fill="none" stroke="#8a8a8a" stroke-width="0.6"/>
<path d="M281.06,101.04 H284.6" fill="none" stroke="#8a8a8a" stroke-width="0.6"/>
<path d="M280.39,99.78 H279.45 V101.04 H281.06" fill="none" stroke="#8a8a8a" stroke-width="0.6"/>
<path d="M282.10,102.55 H284.6" fill="none" stroke="#8a8a8a" stroke-width="0.6"/>
<path d="M281.98,104.54 H284.6" fill="none" stroke="#8a8a8a" stroke-width="0.6"/>
<path d="M282.10,102.55 H279.71 V104.54 H281.98" fill="none" stroke="#8a8a8a" stroke-width="0.6"/>
<path d="M279.45,100.41 H278.20 V103.55 H279.71" fill="none" stroke="#8a8a8a" stroke-width="0.6"/>
<path d="M277.69,96.05 H276.20 V101.98 H278.20" fill="none" stroke="#8a8a8a" stroke-width="0.6"/>
<path d="M284.20,106.19 H284.6" fill="none" stroke="#8a8a8a" stroke-width="0.6"/>
<path d="M284.20,107.93 H284.6" fill="none" stroke="#8a8a8a" stroke-width="0.6"/>
<path d="M284.20,106.19 H283.69 V107.93 H284.20" fill="none" stroke="#8a8a8a" stroke-width="0.6"/>
<path d="M284.20,109.85 H284.6" fill="none" stroke="#8a8a8a" stroke-width="0.6"/>
<path d="M284.20,111.23 H284.6" fill="none" stroke="#8a8a8a" stroke-width="0.6"/>
<path d="M284.20,112.43 H284.6" fill="none" stroke="#8a8a8a" stroke-width="0.6"/>
<path d="M284.20,111.23 H284.20 V112.43 H284.20" fill="none" stroke="#8a8a8a" stroke-width="0.6"/>
<path d="M284.20,109.85 H283.83 V111.83 H284.20" fill="none" stroke="#8a8a8a" stroke-width="0.6"/>
<path d="M283.69,107.06 H281.30 V110.84 H283.83" fill="none" stroke="#8a8a8a" stroke-width="0.6"/>
<path d="M284.20,113.74 H284.6" fill="none" stroke="#8a8a8a" stroke-width="0.6"/>
<path d="M284.20,114.87 H284.6" fill="none" stroke="#8a8a8a" stroke-width="0.6"/>
<path d="M284.20,113.74 H283.37 V114.87 H284.20" fill="none" stroke="#8a8a8a" stroke-width="0.6"/>
<path d="M284.20,116.09 H284.6" fill="none" stroke="#8a8a8a" stroke-width="0.6"/>
<path d="M284.20,117.41 H284.6" fill="none" stroke="#8a8a8a" stroke-width="0.6"/>
<path d="M284.20,116.09 H284.06 V117.41 H284.20" fill="none" stroke="#8a8a8a" stroke-width="0.6"/>
<path d="M283.37,114.30 H281.55 V116.75 H284.06" fill="none" stroke="#8a8a8a" stroke-width="0.6"/>
<path d="M281.30,108.95 H280.00 V115.53 H281.55" fill="none" stroke="#8a8a8a" stroke-width="0.6"/>
<path d="M284.20,118.96 H284.6" fill="none" stroke="#8a8a8a" stroke-width="0.6"/>
<path d="M284.20,120.73 H284.6" fill="none" stroke="#8a8a8a" stroke-width="0.6"/>
<path d="M284.20,118.96 H284.20 V120.73 H284.20" fill="none" stroke="#8a8a8a" stroke-width="0.6"/>
<path d="M284.20,122.38 H284.6" fill="none" stroke="#8a8a8a" stroke-width="0.6"/>
<path d="M284.20,123.65 H284.6" fill="none" stroke="#8a8a8a" stroke-width="0.6"/>
<path d="M284.20,124.84 H284.6" fill="none" stroke="#8a8a8a" stroke-width="0.6"/>
<path d="M284.20,123.65 H284.20 V124.84 H284.20" fill="none" stroke="#8a8a8a" stroke-width="0.6"/>
<path d="M284.20,122.38 H284.20 V124.25 H284.20" fill="none" stroke="#8a8a8a" stroke-width="0.6"/>
<path d="M284.20,119.85 H283.37 V123.32 H284.20" fill="none" stroke="#8a8a8a" stroke-width="0.6"/>
<path d="M284.20,126.62 H284.6" fill="none" stroke="#8a8a8a" stroke-width="0.6"/>
<path d="M284.20,128.68 H284.6" fill="none" stroke="#8a8a8a" stroke-width="0.6"/>
<path d="M284.20,130.35 H284.6" fill="none" stroke="#8a8a8a" stroke-width="0.6"/>
<path d="M284.20,128.68 H284.08 V130.35 H284.20" fill="none" stroke="#8a8a8a" stroke-width="0.6"/>
<path d="M284.20,126.62 H283.24 V129.51 H284.08" fill="none" stroke="#8a8a8a" stroke-width="0.6"/>
<path d="M283.37,121.58 H281.00 V128.07 H283.24" fill="none" stroke="#8a8a8a" stroke-width="0.6"/>
<path d="M284.20,131.51 H284.6" fill="none" stroke="#8a8a8a" stroke-width="0.6"/>
<path d="M284.20,132.84 H284.6" fill="none" stroke="#8a8a8a" stroke-width="0.6"/>
<path d="M284.20,131.51 H284.20 V132.84 H284.20" fill="none" stroke="#8a8a8a" stroke-width="0.6"/>
<path d="M284.20,134.50 H284.6" fill="none" stroke="#8a8a8a" stroke-width="0.6"/>
<path d="M284.20,135.89 H284.6" fill="none" stroke="#8a8a8a" stroke-width="0.6"/>
<path d="M284.20,134.50 H283.71 V135.89 H284.20" fill="none" stroke="#8a8a8a" stroke-width="0.6"/>
<path d="M284.20,132.18 H282.75 V135.20 H283.71" fill="none" stroke="#8a8a8a" stroke-width="0.6"/>
<path d="M284.20,137.36 H284.6" fill="none" stroke="#8a8a8a" stroke-width="0.6"/>
<path d="M284.20,138.76 H284.6" fill="none" stroke="#8a8a8a" stroke-width="0.6"/>
<path d="M284.20,137.36 H284.20 V138.76 H284.20" fill="none" stroke="#8a8a8a" stroke-width="0.6"/>
<path d="M284.20,139.84 H284.6" fill="none" stroke="#8a8a8a" stroke-width="0.6"/>
<path d="M284.20,141.18 H284.6" fill="none" stroke="#8a8a8a" stroke-width="0.6"/>
<path d="M284.20,139.84 H284.20 V141.18 H284.20" fill="none" stroke="#8a8a8a" stroke-width="0.6"/>
<path d="M284.20,138.06 H284.20 V140.51 H284.20" fill="none" stroke="#8a8a8a" stroke-width="0.6"/>
<path d="M284.20,142.86 H284.6" fill="none" stroke="#8a8a8a" stroke-width="0.6"/>
<path d="M284.20,144.43 H284.6" fill="none" stroke="#8a8a8a" stroke-width="0.6"/>
<path d="M284.20,142.86 H284.08 V144.43 H284.20" fill="none" stroke="#8a8a8a" stroke-width="0.6"/>
<path d="M284.20,139.28 H283.01 V143.64 H284.08" fill="none" stroke="#8a8a8a" stroke-width="0.6"/>
<path d="M282.75,133.69 H280.43 V141.46 H283.01" fill="none" stroke="#8a8a8a" stroke-width="0.6"/>
<path d="M284.20,145.92 H284.6" fill="none" stroke="#8a8a8a" stroke-width="0.6"/>
<path d="M284.20,147.56 H284.6" fill="none" stroke="#8a8a8a" stroke-width="0.6"/>
<path d="M284.20,145.92 H284.20 V147.56 H284.20" fill="none" stroke="#8a8a8a" stroke-width="0.6"/>
<path d="M284.20,148.77 H284.6" fill="none" stroke="#8a8a8a" stroke-width="0.6"/>
<path d="M284.20,149.88 H284.6" fill="none" stroke="#8a8a8a" stroke-width="0.6"/>
<path d="M284.20,148.77 H284.20 V149.88 H284.20" fill="none" stroke="#8a8a8a" stroke-width="0.6"/>
<path d="M284.20,146.74 H283.99 V149.33 H284.20" fill="none" stroke="#8a8a8a" stroke-width="0.6"/>
<path d="M284.20,151.44 H284.6" fill="none" stroke="#8a8a8a" stroke-width="0.6"/>
<path d="M284.20,152.95 H284.6" fill="none" stroke="#8a8a8a" stroke-width="0.6"/>
<path d="M284.20,151.44 H283.91 V152.95 H284.20" fill="none" stroke="#8a8a8a" stroke-width="0.6"/>
<path d="M283.99,148.03 H281.66 V152.20 H283.91" fill="none" stroke="#8a8a8a" stroke-width="0.6"/>
<path d="M284.20,154.24 H284.6" fill="none" stroke="#8a8a8a" stroke-width="0.6"/>
<path d="M284.20,155.76 H284.6" fill="none" stroke="#8a8a8a" stroke-width="0.6"/>
<path d="M284.20,154.24 H284.20 V155.76 H284.20" fill="none" stroke="#8a8a8a" stroke-width="0.6"/>
<path d="M284.20,157.27 H284.6" fill="none" stroke="#8a8a8a" stroke-width="0.6"/>
<path d="M284.20,158.37 H284.6" fill="none" stroke="#8a8a8a" stroke-width="0.6"/>
<path d="M284.20,157.27 H284.20 V158.37 H284.20" fill="none" stroke="#8a8a8a" stroke-width="0.6"/>
<path d="M284.20,159.56 H284.6" fill="none" stroke="#8a8a8a" stroke-width="0.6"/>
<path d="M284.20,157.82 H284.20 V159.56 H284.20" fill="none" stroke="#8a8a8a" stroke-width="0.6"/>
<path d="M284.20,155.00 H284.20 V158.69 H284.20" fill="none" stroke="#8a8a8a" stroke-width="0.6"/>
<path d="M284.20,161.29 H284.6" fill="none" stroke="#8a8a8a" stroke-width="0.6"/>
<path d="M284.20,163.23 H284.6" fill="none" stroke="#8a8a8a" stroke-width="0.6"/>
<path d="M284.20,161.29 H284.20 V163.23 H284.20" fill="none" stroke="#8a8a8a" stroke-width="0.6"/>
<path d="M284.20,156.85 H282.72 V162.26 H284.20" fill="none" stroke="#8a8a8a" stroke-width="0.6"/>
<path d="M281.66,150.12 H280.46 V159.55 H282.72" fill="none" stroke="#8a8a8a" stroke-width="0.6"/>
<path d="M280.43,137.57 H279.00 V154.83 H280.46" fill="none" stroke="#8a8a8a" stroke-width="0.6"/>
<path d="M281.00,124.82 H277.40 V146.20 H279.00" fill="none" stroke="#8a8a8a" stroke-width="0.6"/>
<path d="M280.00,112.24 H275.50 V135.51 H277.40" fill="none" stroke="#8a8a8a" stroke-width="0.6"/>
<path d="M276.20,99.01 H270.60 V123.88 H275.50" fill="none" stroke="#8a8a8a" stroke-width="0.6"/>
<path d="M275.50,86.30 H267.10 V111.45 H270.60" fill="none" stroke="#8a8a8a" stroke-width="0.6"/>
<path d="M261.20,63.69 H231.50 V98.87 H267.10" fill="none" stroke="#8a8a8a" stroke-width="0.6"/>
<clipPath id="cpC"><rect x="51.7" y="265.3" width="137.2" height="107.59999999999997"/></clipPath>
<g filter="url(#hb)"><g shape-rendering="crispEdges" clip-path="url(#cpC)">
<rect x="51.70" y="265.30" width="17.75" height="15.80" fill="#86ee48" />
<rect x="51.70" y="265.30" width="17.75" height="1.75" fill="#6dc33b" />
<rect x="51.70" y="266.75" width="17.75" height="1.75" fill="#8efc4c" />
<rect x="51.70" y="268.20" width="17.75" height="1.75" fill="#6dc33b" />
<rect x="51.70" y="269.65" width="17.75" height="1.75" fill="#6dc33b" />
<rect x="51.70" y="271.10" width="17.75" height="1.75" fill="#8efc4c" />
<rect x="51.70" y="272.55" width="17.75" height="1.75" fill="#8efc4c" />
<rect x="51.70" y="276.90" width="17.75" height="1.75" fill="#8efc4c" />
<rect x="51.70" y="278.35" width="17.75" height="1.75" fill="#6dc33b" />
<rect x="51.70" y="279.80" width="17.75" height="1.00" fill="#7ddf43" />
<rect x="51.70" y="280.50" width="17.75" height="17.10" fill="#d81010" />
<rect x="51.70" y="280.50" width="17.75" height="1.75" fill="#e41010" />
<rect x="51.70" y="284.85" width="17.75" height="1.75" fill="#b10d0d" />
<rect x="51.70" y="286.30" width="17.75" height="1.75" fill="#c20e0e" />
<rect x="51.70" y="290.65" width="17.75" height="1.75" fill="#e41010" />
<rect x="51.70" y="292.10" width="17.75" height="1.75" fill="#cb0f0f" />
<rect x="51.70" y="293.55" width="17.75" height="1.75" fill="#cb0f0f" />
<rect x="51.70" y="296.45" width="17.75" height="0.85" fill="#e41010" />
<rect x="51.70" y="297.00" width="17.75" height="11.60" fill="#b00c0c" />
<rect x="51.70" y="297.00" width="17.75" height="1.75" fill="#900909" />
<rect x="51.70" y="298.45" width="17.75" height="1.75" fill="#900909" />
<rect x="51.70" y="299.90" width="17.75" height="1.75" fill="#a50b0b" />
<rect x="51.70" y="301.35" width="17.75" height="1.75" fill="#a50b0b" />
<rect x="51.70" y="302.80" width="17.75" height="1.75" fill="#ba0c0c" />
<rect x="51.70" y="304.25" width="17.75" height="1.75" fill="#a50b0b" />
<rect x="51.70" y="307.15" width="17.75" height="1.15" fill="#ba0c0c" />
<rect x="51.70" y="308.00" width="17.75" height="2.60" fill="#2e3a0a" />
<rect x="51.70" y="310.00" width="17.75" height="12.60" fill="#5a0808" />
<rect x="51.70" y="311.45" width="17.75" height="1.75" fill="#5f0808" />
<rect x="51.70" y="320.15" width="17.75" height="1.75" fill="#5f0808" />
<rect x="51.70" y="322.00" width="17.75" height="2.60" fill="#c01010" />
<rect x="51.70" y="324.00" width="17.75" height="3.60" fill="#0e1a08" />
<rect x="51.70" y="325.45" width="17.75" height="1.75" fill="#0b1506" />
<rect x="51.70" y="327.00" width="17.75" height="9.60" fill="#120404" />
<rect x="51.70" y="327.00" width="17.75" height="1.75" fill="#100303" />
<rect x="51.70" y="328.45" width="17.75" height="1.75" fill="#0e0303" />
<rect x="51.70" y="329.90" width="17.75" height="1.75" fill="#130404" />
<rect x="51.70" y="332.80" width="17.75" height="1.75" fill="#130404" />
<rect x="51.70" y="336.00" width="17.75" height="37.60" fill="#300606" />
<rect x="51.70" y="336.00" width="17.75" height="1.75" fill="#2d0505" />
<rect x="51.70" y="337.45" width="17.75" height="1.75" fill="#2b0505" />
<rect x="51.70" y="338.90" width="17.75" height="1.75" fill="#270404" />
<rect x="51.70" y="341.80" width="17.75" height="1.75" fill="#2d0505" />
<rect x="51.70" y="344.70" width="17.75" height="1.75" fill="#270404" />
<rect x="51.70" y="346.15" width="17.75" height="1.75" fill="#2d0505" />
<rect x="51.70" y="347.60" width="17.75" height="1.75" fill="#2b0505" />
<rect x="51.70" y="349.05" width="17.75" height="1.75" fill="#270404" />
<rect x="51.70" y="350.50" width="17.75" height="1.75" fill="#320606" />
<rect x="51.70" y="353.40" width="17.75" height="1.75" fill="#2d0505" />
<rect x="51.70" y="354.85" width="17.75" height="1.75" fill="#2b0505" />
<rect x="51.70" y="356.30" width="17.75" height="1.75" fill="#2b0505" />
<rect x="51.70" y="359.20" width="17.75" height="1.75" fill="#320606" />
<rect x="51.70" y="360.65" width="17.75" height="1.75" fill="#2b0505" />
<rect x="51.70" y="365.00" width="17.75" height="1.75" fill="#320606" />
<rect x="51.70" y="367.90" width="17.75" height="1.75" fill="#270404" />
<rect x="51.70" y="370.80" width="17.75" height="1.75" fill="#2b0505" />
<rect x="51.70" y="372.25" width="17.75" height="1.05" fill="#270404" />
<rect x="68.85" y="265.30" width="17.75" height="3.30" fill="#78d038" />
<rect x="68.85" y="268.00" width="17.75" height="2.60" fill="#3a7a1a" />
<rect x="68.85" y="270.00" width="17.75" height="11.10" fill="#6cc234" />
<rect x="68.85" y="270.00" width="17.75" height="1.75" fill="#65b630" />
<rect x="68.85" y="277.25" width="17.75" height="1.75" fill="#589f2a" />
<rect x="68.85" y="278.70" width="17.75" height="1.75" fill="#589f2a" />
<rect x="68.85" y="280.50" width="17.75" height="17.10" fill="#8a0a0a" />
<rect x="68.85" y="280.50" width="17.75" height="1.75" fill="#810909" />
<rect x="68.85" y="281.95" width="17.75" height="1.75" fill="#710808" />
<rect x="68.85" y="283.40" width="17.75" height="1.75" fill="#710808" />
<rect x="68.85" y="286.30" width="17.75" height="1.75" fill="#920a0a" />
<rect x="68.85" y="287.75" width="17.75" height="1.75" fill="#810909" />
<rect x="68.85" y="290.65" width="17.75" height="1.75" fill="#810909" />
<rect x="68.85" y="292.10" width="17.75" height="1.75" fill="#7c0909" />
<rect x="68.85" y="293.55" width="17.75" height="1.75" fill="#7c0909" />
<rect x="68.85" y="296.45" width="17.75" height="0.85" fill="#7c0909" />
<rect x="68.85" y="297.00" width="17.75" height="13.60" fill="#c01010" />
<rect x="68.85" y="297.00" width="17.75" height="1.75" fill="#ac0e0e" />
<rect x="68.85" y="299.90" width="17.75" height="1.75" fill="#9d0d0d" />
<rect x="68.85" y="305.70" width="17.75" height="1.75" fill="#b40f0f" />
<rect x="68.85" y="310.00" width="17.75" height="36.60" fill="#e01010" />
<rect x="68.85" y="311.45" width="17.75" height="1.75" fill="#b70d0d" />
<rect x="68.85" y="312.90" width="17.75" height="1.75" fill="#b70d0d" />
<rect x="68.85" y="315.80" width="17.75" height="1.75" fill="#d20f0f" />
<rect x="68.85" y="317.25" width="17.75" height="1.75" fill="#ed1010" />
<rect x="68.85" y="320.15" width="17.75" height="1.75" fill="#b70d0d" />
<rect x="68.85" y="321.60" width="17.75" height="1.75" fill="#ed1010" />
<rect x="68.85" y="324.50" width="17.75" height="1.75" fill="#d20f0f" />
<rect x="68.85" y="327.40" width="17.75" height="1.75" fill="#b70d0d" />
<rect x="68.85" y="328.85" width="17.75" height="1.75" fill="#d20f0f" />
<rect x="68.85" y="330.30" width="17.75" height="1.75" fill="#b70d0d" />
<rect x="68.85" y="333.20" width="17.75" height="1.75" fill="#b70d0d" />
<rect x="68.85" y="334.65" width="17.75" height="1.75" fill="#b70d0d" />
<rect x="68.85" y="339.00" width="17.75" height="1.75" fill="#c90e0e" />
<rect x="68.85" y="340.45" width="17.75" height="1.75" fill="#ed1010" />
<rect x="68.85" y="341.90" width="17.75" height="1.75" fill="#c90e0e" />
<rect x="68.85" y="346.00" width="17.75" height="3.60" fill="#a80a0a" />
<rect x="68.85" y="347.45" width="17.75" height="1.75" fill="#890808" />
<rect x="68.85" y="349.00" width="17.75" height="24.60" fill="#dc1010" />
<rect x="68.85" y="349.00" width="17.75" height="1.75" fill="#e91010" />
<rect x="68.85" y="350.45" width="17.75" height="1.75" fill="#ce0f0f" />
<rect x="68.85" y="351.90" width="17.75" height="1.75" fill="#e91010" />
<rect x="68.85" y="359.15" width="17.75" height="1.75" fill="#b40d0d" />
<rect x="68.85" y="360.60" width="17.75" height="1.75" fill="#c60e0e" />
<rect x="68.85" y="363.50" width="17.75" height="1.75" fill="#e91010" />
<rect x="68.85" y="364.95" width="17.75" height="1.75" fill="#c60e0e" />
<rect x="68.85" y="366.40" width="17.75" height="1.75" fill="#c60e0e" />
<rect x="68.85" y="367.85" width="17.75" height="1.75" fill="#b40d0d" />
<rect x="86.00" y="265.30" width="17.75" height="15.80" fill="#70d238" />
<rect x="86.00" y="266.75" width="17.75" height="1.75" fill="#76de3b" />
<rect x="86.00" y="268.20" width="17.75" height="1.75" fill="#69c534" />
<rect x="86.00" y="272.55" width="17.75" height="1.75" fill="#76de3b" />
<rect x="86.00" y="274.00" width="17.75" height="1.75" fill="#64bd32" />
<rect x="86.00" y="275.45" width="17.75" height="1.75" fill="#64bd32" />
<rect x="86.00" y="276.90" width="17.75" height="1.75" fill="#76de3b" />
<rect x="86.00" y="278.35" width="17.75" height="1.75" fill="#5bac2d" />
<rect x="86.00" y="280.50" width="17.75" height="20.10" fill="#800808" />
<rect x="86.00" y="280.50" width="17.75" height="1.75" fill="#870808" />
<rect x="86.00" y="281.95" width="17.75" height="1.75" fill="#680606" />
<rect x="86.00" y="283.40" width="17.75" height="1.75" fill="#870808" />
<rect x="86.00" y="286.30" width="17.75" height="1.75" fill="#680606" />
<rect x="86.00" y="289.20" width="17.75" height="1.75" fill="#780707" />
<rect x="86.00" y="292.10" width="17.75" height="1.75" fill="#730707" />
<rect x="86.00" y="295.00" width="17.75" height="1.75" fill="#870808" />
<rect x="86.00" y="297.90" width="17.75" height="1.75" fill="#780707" />
<rect x="86.00" y="300.00" width="17.75" height="10.60" fill="#a00c0c" />
<rect x="86.00" y="301.45" width="17.75" height="1.75" fill="#960b0b" />
<rect x="86.00" y="302.90" width="17.75" height="1.75" fill="#960b0b" />
<rect x="86.00" y="304.35" width="17.75" height="1.75" fill="#a90c0c" />
<rect x="86.00" y="307.25" width="17.75" height="1.75" fill="#960b0b" />
<rect x="86.00" y="308.70" width="17.75" height="1.60" fill="#830909" />
<rect x="86.00" y="310.00" width="17.75" height="14.60" fill="#c00c0c" />
<rect x="86.00" y="310.00" width="17.75" height="1.75" fill="#9d0909" />
<rect x="86.00" y="311.45" width="17.75" height="1.75" fill="#cb0c0c" />
<rect x="86.00" y="314.35" width="17.75" height="1.75" fill="#9d0909" />
<rect x="86.00" y="321.60" width="17.75" height="1.75" fill="#cb0c0c" />
<rect x="86.00" y="323.05" width="17.75" height="1.25" fill="#ac0a0a" />
<rect x="86.00" y="324.00" width="17.75" height="26.60" fill="#e81010" />
<rect x="86.00" y="325.45" width="17.75" height="1.75" fill="#da0f0f" />
<rect x="86.00" y="326.90" width="17.75" height="1.75" fill="#da0f0f" />
<rect x="86.00" y="328.35" width="17.75" height="1.75" fill="#be0d0d" />
<rect x="86.00" y="329.80" width="17.75" height="1.75" fill="#d00e0e" />
<rect x="86.00" y="331.25" width="17.75" height="1.75" fill="#be0d0d" />
<rect x="86.00" y="332.70" width="17.75" height="1.75" fill="#f51010" />
<rect x="86.00" y="334.15" width="17.75" height="1.75" fill="#be0d0d" />
<rect x="86.00" y="335.60" width="17.75" height="1.75" fill="#d00e0e" />
<rect x="86.00" y="337.05" width="17.75" height="1.75" fill="#f51010" />
<rect x="86.00" y="339.95" width="17.75" height="1.75" fill="#da0f0f" />
<rect x="86.00" y="345.75" width="17.75" height="1.75" fill="#be0d0d" />
<rect x="86.00" y="347.20" width="17.75" height="1.75" fill="#f51010" />
<rect x="86.00" y="348.65" width="17.75" height="1.65" fill="#da0f0f" />
<rect x="86.00" y="350.00" width="17.75" height="23.60" fill="#c80c0c" />
<rect x="86.00" y="350.00" width="17.75" height="1.75" fill="#d40c0c" />
<rect x="86.00" y="351.45" width="17.75" height="1.75" fill="#d40c0c" />
<rect x="86.00" y="354.35" width="17.75" height="1.75" fill="#b40a0a" />
<rect x="86.00" y="358.70" width="17.75" height="1.75" fill="#bc0b0b" />
<rect x="86.00" y="363.05" width="17.75" height="1.75" fill="#b40a0a" />
<rect x="86.00" y="364.50" width="17.75" height="1.75" fill="#a40909" />
<rect x="86.00" y="365.95" width="17.75" height="1.75" fill="#a40909" />
<rect x="103.15" y="265.30" width="17.75" height="15.80" fill="#72d83a" />
<rect x="103.15" y="265.30" width="17.75" height="1.75" fill="#66c234" />
<rect x="103.15" y="266.75" width="17.75" height="1.75" fill="#66c234" />
<rect x="103.15" y="268.20" width="17.75" height="1.75" fill="#78e43d" />
<rect x="103.15" y="269.65" width="17.75" height="1.75" fill="#78e43d" />
<rect x="103.15" y="274.00" width="17.75" height="1.75" fill="#66c234" />
<rect x="103.15" y="276.90" width="17.75" height="1.75" fill="#5db12f" />
<rect x="103.15" y="278.35" width="17.75" height="1.75" fill="#66c234" />
<rect x="103.15" y="279.80" width="17.75" height="1.00" fill="#6bcb36" />
<rect x="103.15" y="280.50" width="17.75" height="35.10" fill="#8a0a0a" />
<rect x="103.15" y="280.50" width="17.75" height="1.75" fill="#810909" />
<rect x="103.15" y="281.95" width="17.75" height="1.75" fill="#810909" />
<rect x="103.15" y="283.40" width="17.75" height="1.75" fill="#920a0a" />
<rect x="103.15" y="284.85" width="17.75" height="1.75" fill="#920a0a" />
<rect x="103.15" y="287.75" width="17.75" height="1.75" fill="#920a0a" />
<rect x="103.15" y="292.10" width="17.75" height="1.75" fill="#710808" />
<rect x="103.15" y="293.55" width="17.75" height="1.75" fill="#7c0909" />
<rect x="103.15" y="295.00" width="17.75" height="1.75" fill="#810909" />
<rect x="103.15" y="296.45" width="17.75" height="1.75" fill="#7c0909" />
<rect x="103.15" y="300.80" width="17.75" height="1.75" fill="#920a0a" />
<rect x="103.15" y="302.25" width="17.75" height="1.75" fill="#810909" />
<rect x="103.15" y="305.15" width="17.75" height="1.75" fill="#710808" />
<rect x="103.15" y="308.05" width="17.75" height="1.75" fill="#810909" />
<rect x="103.15" y="309.50" width="17.75" height="1.75" fill="#7c0909" />
<rect x="103.15" y="310.95" width="17.75" height="1.75" fill="#7c0909" />
<rect x="103.15" y="315.00" width="17.75" height="7.60" fill="#c00c0c" />
<rect x="103.15" y="316.45" width="17.75" height="1.75" fill="#9d0909" />
<rect x="103.15" y="317.90" width="17.75" height="1.75" fill="#cb0c0c" />
<rect x="103.15" y="319.35" width="17.75" height="1.75" fill="#ac0a0a" />
<rect x="103.15" y="320.80" width="17.75" height="1.50" fill="#b40b0b" />
<rect x="103.15" y="322.00" width="17.75" height="51.60" fill="#6e0808" />
<rect x="103.15" y="323.45" width="17.75" height="1.75" fill="#670707" />
<rect x="103.15" y="324.90" width="17.75" height="1.75" fill="#670707" />
<rect x="103.15" y="326.35" width="17.75" height="1.75" fill="#670707" />
<rect x="103.15" y="329.25" width="17.75" height="1.75" fill="#630707" />
<rect x="103.15" y="330.70" width="17.75" height="1.75" fill="#630707" />
<rect x="103.15" y="333.60" width="17.75" height="1.75" fill="#670707" />
<rect x="103.15" y="335.05" width="17.75" height="1.75" fill="#5a0606" />
<rect x="103.15" y="337.95" width="17.75" height="1.75" fill="#5a0606" />
<rect x="103.15" y="340.85" width="17.75" height="1.75" fill="#5a0606" />
<rect x="103.15" y="342.30" width="17.75" height="1.75" fill="#740808" />
<rect x="103.15" y="345.20" width="17.75" height="1.75" fill="#740808" />
<rect x="103.15" y="346.65" width="17.75" height="1.75" fill="#670707" />
<rect x="103.15" y="348.10" width="17.75" height="1.75" fill="#5a0606" />
<rect x="103.15" y="349.55" width="17.75" height="1.75" fill="#5a0606" />
<rect x="103.15" y="351.00" width="17.75" height="1.75" fill="#740808" />
<rect x="103.15" y="353.90" width="17.75" height="1.75" fill="#740808" />
<rect x="103.15" y="359.70" width="17.75" height="1.75" fill="#670707" />
<rect x="103.15" y="362.60" width="17.75" height="1.75" fill="#630707" />
<rect x="103.15" y="364.05" width="17.75" height="1.75" fill="#5a0606" />
<rect x="103.15" y="365.50" width="17.75" height="1.75" fill="#670707" />
<rect x="103.15" y="366.95" width="17.75" height="1.75" fill="#630707" />
<rect x="103.15" y="368.40" width="17.75" height="1.75" fill="#5a0606" />
<rect x="103.15" y="369.85" width="17.75" height="1.75" fill="#670707" />
<rect x="103.15" y="371.30" width="17.75" height="1.75" fill="#670707" />
<rect x="120.30" y="265.30" width="17.75" height="3.30" fill="#300505" />
<rect x="120.30" y="265.30" width="17.75" height="1.75" fill="#320505" />
<rect x="120.30" y="266.75" width="17.75" height="1.55" fill="#270404" />
<rect x="120.30" y="268.00" width="17.75" height="7.60" fill="#900a0a" />
<rect x="120.30" y="268.00" width="17.75" height="1.75" fill="#760808" />
<rect x="120.30" y="269.45" width="17.75" height="1.75" fill="#760808" />
<rect x="120.30" y="270.90" width="17.75" height="1.75" fill="#980a0a" />
<rect x="120.30" y="273.80" width="17.75" height="1.50" fill="#980a0a" />
<rect x="120.30" y="275.00" width="17.75" height="6.10" fill="#d80c0c" />
<rect x="120.30" y="275.00" width="17.75" height="1.75" fill="#e40c0c" />
<rect x="120.30" y="277.90" width="17.75" height="1.75" fill="#c20a0a" />
<rect x="120.30" y="279.35" width="17.75" height="1.45" fill="#e40c0c" />
<rect x="120.30" y="280.50" width="17.75" height="12.10" fill="#5aa830" />
<rect x="120.30" y="281.95" width="17.75" height="1.75" fill="#498927" />
<rect x="120.30" y="286.30" width="17.75" height="1.75" fill="#549d2d" />
<rect x="120.30" y="289.20" width="17.75" height="1.75" fill="#498927" />
<rect x="120.30" y="290.65" width="17.75" height="1.65" fill="#5fb232" />
<rect x="120.30" y="292.00" width="17.75" height="5.60" fill="#84f040" />
<rect x="120.30" y="292.00" width="17.75" height="1.75" fill="#7ce13c" />
<rect x="120.30" y="293.45" width="17.75" height="1.75" fill="#6cc434" />
<rect x="120.30" y="294.90" width="17.75" height="1.75" fill="#76d839" />
<rect x="120.30" y="297.00" width="17.75" height="25.60" fill="#70d838" />
<rect x="120.30" y="297.00" width="17.75" height="1.75" fill="#64c232" />
<rect x="120.30" y="298.45" width="17.75" height="1.75" fill="#64c232" />
<rect x="120.30" y="301.35" width="17.75" height="1.75" fill="#69cb34" />
<rect x="120.30" y="302.80" width="17.75" height="1.75" fill="#76e43b" />
<rect x="120.30" y="305.70" width="17.75" height="1.75" fill="#76e43b" />
<rect x="120.30" y="308.60" width="17.75" height="1.75" fill="#64c232" />
<rect x="120.30" y="310.05" width="17.75" height="1.75" fill="#69cb34" />
<rect x="120.30" y="311.50" width="17.75" height="1.75" fill="#5bb12d" />
<rect x="120.30" y="312.95" width="17.75" height="1.75" fill="#5bb12d" />
<rect x="120.30" y="315.85" width="17.75" height="1.75" fill="#64c232" />
<rect x="120.30" y="317.30" width="17.75" height="1.75" fill="#5bb12d" />
<rect x="120.30" y="318.75" width="17.75" height="1.75" fill="#69cb34" />
<rect x="120.30" y="320.20" width="17.75" height="1.75" fill="#64c232" />
<rect x="120.30" y="322.00" width="17.75" height="4.60" fill="#2a5010" />
<rect x="120.30" y="323.45" width="17.75" height="1.75" fill="#274b0f" />
<rect x="120.30" y="324.90" width="17.75" height="1.40" fill="#22410d" />
<rect x="120.30" y="326.00" width="17.75" height="47.60" fill="#7ce03a" />
<rect x="120.30" y="328.90" width="17.75" height="1.75" fill="#65b72f" />
<rect x="120.30" y="331.80" width="17.75" height="1.75" fill="#83ed3d" />
<rect x="120.30" y="333.25" width="17.75" height="1.75" fill="#6fc934" />
<rect x="120.30" y="339.05" width="17.75" height="1.75" fill="#65b72f" />
<rect x="120.30" y="340.50" width="17.75" height="1.75" fill="#6fc934" />
<rect x="120.30" y="343.40" width="17.75" height="1.75" fill="#74d236" />
<rect x="120.30" y="346.30" width="17.75" height="1.75" fill="#6fc934" />
<rect x="120.30" y="350.65" width="17.75" height="1.75" fill="#65b72f" />
<rect x="120.30" y="352.10" width="17.75" height="1.75" fill="#65b72f" />
<rect x="120.30" y="353.55" width="17.75" height="1.75" fill="#6fc934" />
<rect x="120.30" y="356.45" width="17.75" height="1.75" fill="#65b72f" />
<rect x="120.30" y="357.90" width="17.75" height="1.75" fill="#65b72f" />
<rect x="120.30" y="359.35" width="17.75" height="1.75" fill="#74d236" />
<rect x="120.30" y="360.80" width="17.75" height="1.75" fill="#83ed3d" />
<rect x="120.30" y="362.25" width="17.75" height="1.75" fill="#65b72f" />
<rect x="120.30" y="363.70" width="17.75" height="1.75" fill="#74d236" />
<rect x="120.30" y="365.15" width="17.75" height="1.75" fill="#6fc934" />
<rect x="120.30" y="366.60" width="17.75" height="1.75" fill="#74d236" />
<rect x="120.30" y="368.05" width="17.75" height="1.75" fill="#83ed3d" />
<rect x="120.30" y="369.50" width="17.75" height="1.75" fill="#65b72f" />
<rect x="120.30" y="370.95" width="17.75" height="1.75" fill="#6fc934" />
<rect x="137.45" y="265.30" width="17.75" height="10.30" fill="#8a0a0a" />
<rect x="137.45" y="266.75" width="17.75" height="1.75" fill="#7c0909" />
<rect x="137.45" y="268.20" width="17.75" height="1.75" fill="#920a0a" />
<rect x="137.45" y="271.10" width="17.75" height="1.75" fill="#810909" />
<rect x="137.45" y="272.55" width="17.75" height="1.75" fill="#810909" />
<rect x="137.45" y="274.00" width="17.75" height="1.30" fill="#7c0909" />
<rect x="137.45" y="275.00" width="17.75" height="6.10" fill="#500505" />
<rect x="137.45" y="275.00" width="17.75" height="1.75" fill="#540505" />
<rect x="137.45" y="276.45" width="17.75" height="1.75" fill="#480404" />
<rect x="137.45" y="277.90" width="17.75" height="1.75" fill="#480404" />
<rect x="137.45" y="279.35" width="17.75" height="1.45" fill="#4b0404" />
<rect x="137.45" y="280.50" width="17.75" height="12.10" fill="#78e038" />
<rect x="137.45" y="280.50" width="17.75" height="1.75" fill="#7fed3b" />
<rect x="137.45" y="283.40" width="17.75" height="1.75" fill="#70d234" />
<rect x="137.45" y="286.30" width="17.75" height="1.75" fill="#62b72d" />
<rect x="137.45" y="287.75" width="17.75" height="1.75" fill="#62b72d" />
<rect x="137.45" y="292.00" width="17.75" height="2.60" fill="#102008" />
<rect x="137.45" y="294.00" width="17.75" height="32.60" fill="#6ccc32" />
<rect x="137.45" y="294.00" width="17.75" height="1.75" fill="#61b72d" />
<rect x="137.45" y="299.80" width="17.75" height="1.75" fill="#65bf2f" />
<rect x="137.45" y="302.70" width="17.75" height="1.75" fill="#58a729" />
<rect x="137.45" y="305.60" width="17.75" height="1.75" fill="#65bf2f" />
<rect x="137.45" y="307.05" width="17.75" height="1.75" fill="#72d835" />
<rect x="137.45" y="308.50" width="17.75" height="1.75" fill="#65bf2f" />
<rect x="137.45" y="309.95" width="17.75" height="1.75" fill="#65bf2f" />
<rect x="137.45" y="311.40" width="17.75" height="1.75" fill="#61b72d" />
<rect x="137.45" y="314.30" width="17.75" height="1.75" fill="#65bf2f" />
<rect x="137.45" y="318.65" width="17.75" height="1.75" fill="#58a729" />
<rect x="137.45" y="320.10" width="17.75" height="1.75" fill="#61b72d" />
<rect x="137.45" y="323.00" width="17.75" height="1.75" fill="#65bf2f" />
<rect x="137.45" y="326.00" width="17.75" height="2.60" fill="#2a5010" />
<rect x="137.45" y="328.00" width="17.75" height="39.60" fill="#52a22a" />
<rect x="137.45" y="328.00" width="17.75" height="1.75" fill="#438422" />
<rect x="137.45" y="329.45" width="17.75" height="1.75" fill="#56ab2c" />
<rect x="137.45" y="330.90" width="17.75" height="1.75" fill="#4d9827" />
<rect x="137.45" y="336.70" width="17.75" height="1.75" fill="#499125" />
<rect x="137.45" y="338.15" width="17.75" height="1.75" fill="#499125" />
<rect x="137.45" y="339.60" width="17.75" height="1.75" fill="#56ab2c" />
<rect x="137.45" y="341.05" width="17.75" height="1.75" fill="#4d9827" />
<rect x="137.45" y="342.50" width="17.75" height="1.75" fill="#56ab2c" />
<rect x="137.45" y="343.95" width="17.75" height="1.75" fill="#56ab2c" />
<rect x="137.45" y="345.40" width="17.75" height="1.75" fill="#56ab2c" />
<rect x="137.45" y="348.30" width="17.75" height="1.75" fill="#438422" />
<rect x="137.45" y="349.75" width="17.75" height="1.75" fill="#4d9827" />
<rect x="137.45" y="354.10" width="17.75" height="1.75" fill="#438422" />
<rect x="137.45" y="355.55" width="17.75" height="1.75" fill="#4d9827" />
<rect x="137.45" y="357.00" width="17.75" height="1.75" fill="#438422" />
<rect x="137.45" y="359.90" width="17.75" height="1.75" fill="#438422" />
<rect x="137.45" y="361.35" width="17.75" height="1.75" fill="#438422" />
<rect x="137.45" y="364.25" width="17.75" height="1.75" fill="#4d9827" />
<rect x="137.45" y="367.00" width="17.75" height="3.60" fill="#1a3a08" />
<rect x="137.45" y="367.00" width="17.75" height="1.75" fill="#152f06" />
<rect x="137.45" y="368.45" width="17.75" height="1.75" fill="#1b3d08" />
<rect x="137.45" y="370.00" width="17.75" height="3.60" fill="#52a22a" />
<rect x="137.45" y="370.00" width="17.75" height="1.75" fill="#56ab2c" />
<rect x="137.45" y="371.45" width="17.75" height="1.75" fill="#4d9827" />
<rect x="154.60" y="265.30" width="17.75" height="15.80" fill="#b00c0c" />
<rect x="154.60" y="265.30" width="17.75" height="1.75" fill="#ba0c0c" />
<rect x="154.60" y="266.75" width="17.75" height="1.75" fill="#9e0a0a" />
<rect x="154.60" y="268.20" width="17.75" height="1.75" fill="#900909" />
<rect x="154.60" y="269.65" width="17.75" height="1.75" fill="#9e0a0a" />
<rect x="154.60" y="271.10" width="17.75" height="1.75" fill="#a50b0b" />
<rect x="154.60" y="275.45" width="17.75" height="1.75" fill="#a50b0b" />
<rect x="154.60" y="276.90" width="17.75" height="1.75" fill="#a50b0b" />
<rect x="154.60" y="278.35" width="17.75" height="1.75" fill="#a50b0b" />
<rect x="154.60" y="280.50" width="17.75" height="25.10" fill="#72d838" />
<rect x="154.60" y="283.40" width="17.75" height="1.75" fill="#5db12d" />
<rect x="154.60" y="286.30" width="17.75" height="1.75" fill="#66c232" />
<rect x="154.60" y="287.75" width="17.75" height="1.75" fill="#78e43b" />
<rect x="154.60" y="289.20" width="17.75" height="1.75" fill="#66c232" />
<rect x="154.60" y="290.65" width="17.75" height="1.75" fill="#66c232" />
<rect x="154.60" y="292.10" width="17.75" height="1.75" fill="#6bcb34" />
<rect x="154.60" y="295.00" width="17.75" height="1.75" fill="#66c232" />
<rect x="154.60" y="296.45" width="17.75" height="1.75" fill="#78e43b" />
<rect x="154.60" y="300.80" width="17.75" height="1.75" fill="#5db12d" />
<rect x="154.60" y="302.25" width="17.75" height="1.75" fill="#66c232" />
<rect x="154.60" y="303.70" width="17.75" height="1.60" fill="#78e43b" />
<rect x="154.60" y="305.00" width="17.75" height="3.60" fill="#2a5a10" />
<rect x="154.60" y="305.00" width="17.75" height="1.75" fill="#22490d" />
<rect x="154.60" y="306.45" width="17.75" height="1.75" fill="#25510e" />
<rect x="154.60" y="308.00" width="17.75" height="14.60" fill="#64c030" />
<rect x="154.60" y="308.00" width="17.75" height="1.75" fill="#529d27" />
<rect x="154.60" y="313.80" width="17.75" height="1.75" fill="#529d27" />
<rect x="154.60" y="318.15" width="17.75" height="1.75" fill="#6acb32" />
<rect x="154.60" y="319.60" width="17.75" height="1.75" fill="#5aac2b" />
<rect x="154.60" y="321.05" width="17.75" height="1.25" fill="#5eb42d" />
<rect x="154.60" y="322.00" width="17.75" height="4.60" fill="#88f040" />
<rect x="154.60" y="323.45" width="17.75" height="1.75" fill="#6fc434" />
<rect x="154.60" y="326.00" width="17.75" height="47.60" fill="#6ed034" />
<rect x="154.60" y="326.00" width="17.75" height="1.75" fill="#74dc37" />
<rect x="154.60" y="327.45" width="17.75" height="1.75" fill="#67c330" />
<rect x="154.60" y="328.90" width="17.75" height="1.75" fill="#74dc37" />
<rect x="154.60" y="330.35" width="17.75" height="1.75" fill="#67c330" />
<rect x="154.60" y="331.80" width="17.75" height="1.75" fill="#67c330" />
<rect x="154.60" y="333.25" width="17.75" height="1.75" fill="#5aaa2a" />
<rect x="154.60" y="334.70" width="17.75" height="1.75" fill="#5aaa2a" />
<rect x="154.60" y="336.15" width="17.75" height="1.75" fill="#74dc37" />
<rect x="154.60" y="337.60" width="17.75" height="1.75" fill="#67c330" />
<rect x="154.60" y="341.95" width="17.75" height="1.75" fill="#5aaa2a" />
<rect x="154.60" y="343.40" width="17.75" height="1.75" fill="#74dc37" />
<rect x="154.60" y="344.85" width="17.75" height="1.75" fill="#74dc37" />
<rect x="154.60" y="346.30" width="17.75" height="1.75" fill="#63bb2e" />
<rect x="154.60" y="347.75" width="17.75" height="1.75" fill="#67c330" />
<rect x="154.60" y="349.20" width="17.75" height="1.75" fill="#74dc37" />
<rect x="154.60" y="350.65" width="17.75" height="1.75" fill="#67c330" />
<rect x="154.60" y="353.55" width="17.75" height="1.75" fill="#74dc37" />
<rect x="154.60" y="355.00" width="17.75" height="1.75" fill="#74dc37" />
<rect x="154.60" y="356.45" width="17.75" height="1.75" fill="#74dc37" />
<rect x="154.60" y="357.90" width="17.75" height="1.75" fill="#63bb2e" />
<rect x="154.60" y="359.35" width="17.75" height="1.75" fill="#63bb2e" />
<rect x="154.60" y="360.80" width="17.75" height="1.75" fill="#67c330" />
<rect x="154.60" y="362.25" width="17.75" height="1.75" fill="#5aaa2a" />
<rect x="154.60" y="363.70" width="17.75" height="1.75" fill="#74dc37" />
<rect x="154.60" y="366.60" width="17.75" height="1.75" fill="#63bb2e" />
<rect x="154.60" y="369.50" width="17.75" height="1.75" fill="#74dc37" />
<rect x="154.60" y="370.95" width="17.75" height="1.75" fill="#74dc37" />
<rect x="154.60" y="372.40" width="17.75" height="0.90" fill="#63bb2e" />
<rect x="171.75" y="265.30" width="17.75" height="7.30" fill="#a80c0c" />
<rect x="171.75" y="265.30" width="17.75" height="1.75" fill="#b20c0c" />
<rect x="171.75" y="266.75" width="17.75" height="1.75" fill="#890909" />
<rect x="171.75" y="269.65" width="17.75" height="1.75" fill="#890909" />
<rect x="171.75" y="271.10" width="17.75" height="1.20" fill="#b20c0c" />
<rect x="171.75" y="272.00" width="17.75" height="2.60" fill="#500505" />
<rect x="171.75" y="274.00" width="17.75" height="7.10" fill="#a00c0c" />
<rect x="171.75" y="275.45" width="17.75" height="1.75" fill="#a90c0c" />
<rect x="171.75" y="278.35" width="17.75" height="1.75" fill="#a90c0c" />
<rect x="171.75" y="279.80" width="17.75" height="1.00" fill="#830909" />
<rect x="171.75" y="280.50" width="17.75" height="93.10" fill="#66c430" />
<rect x="171.75" y="281.95" width="17.75" height="1.75" fill="#6ccf32" />
<rect x="171.75" y="284.85" width="17.75" height="1.75" fill="#6ccf32" />
<rect x="171.75" y="286.30" width="17.75" height="1.75" fill="#53a027" />
<rect x="171.75" y="287.75" width="17.75" height="1.75" fill="#6ccf32" />
<rect x="171.75" y="289.20" width="17.75" height="1.75" fill="#6ccf32" />
<rect x="171.75" y="292.10" width="17.75" height="1.75" fill="#53a027" />
<rect x="171.75" y="295.00" width="17.75" height="1.75" fill="#5fb82d" />
<rect x="171.75" y="299.35" width="17.75" height="1.75" fill="#6ccf32" />
<rect x="171.75" y="300.80" width="17.75" height="1.75" fill="#53a027" />
<rect x="171.75" y="302.25" width="17.75" height="1.75" fill="#53a027" />
<rect x="171.75" y="303.70" width="17.75" height="1.75" fill="#53a027" />
<rect x="171.75" y="305.15" width="17.75" height="1.75" fill="#5bb02b" />
<rect x="171.75" y="308.05" width="17.75" height="1.75" fill="#53a027" />
<rect x="171.75" y="309.50" width="17.75" height="1.75" fill="#53a027" />
<rect x="171.75" y="312.40" width="17.75" height="1.75" fill="#5bb02b" />
<rect x="171.75" y="313.85" width="17.75" height="1.75" fill="#53a027" />
<rect x="171.75" y="315.30" width="17.75" height="1.75" fill="#53a027" />
<rect x="171.75" y="316.75" width="17.75" height="1.75" fill="#6ccf32" />
<rect x="171.75" y="318.20" width="17.75" height="1.75" fill="#5bb02b" />
<rect x="171.75" y="322.55" width="17.75" height="1.75" fill="#53a027" />
<rect x="171.75" y="324.00" width="17.75" height="1.75" fill="#6ccf32" />
<rect x="171.75" y="326.90" width="17.75" height="1.75" fill="#5bb02b" />
<rect x="171.75" y="329.80" width="17.75" height="1.75" fill="#5fb82d" />
<rect x="171.75" y="339.95" width="17.75" height="1.75" fill="#5fb82d" />
<rect x="171.75" y="341.40" width="17.75" height="1.75" fill="#5bb02b" />
<rect x="171.75" y="342.85" width="17.75" height="1.75" fill="#5bb02b" />
<rect x="171.75" y="344.30" width="17.75" height="1.75" fill="#5fb82d" />
<rect x="171.75" y="345.75" width="17.75" height="1.75" fill="#5bb02b" />
<rect x="171.75" y="348.65" width="17.75" height="1.75" fill="#6ccf32" />
<rect x="171.75" y="350.10" width="17.75" height="1.75" fill="#53a027" />
<rect x="171.75" y="353.00" width="17.75" height="1.75" fill="#53a027" />
<rect x="171.75" y="354.45" width="17.75" height="1.75" fill="#5fb82d" />
<rect x="171.75" y="355.90" width="17.75" height="1.75" fill="#6ccf32" />
<rect x="171.75" y="358.80" width="17.75" height="1.75" fill="#6ccf32" />
<rect x="171.75" y="360.25" width="17.75" height="1.75" fill="#6ccf32" />
<rect x="171.75" y="361.70" width="17.75" height="1.75" fill="#5bb02b" />
<rect x="171.75" y="363.15" width="17.75" height="1.75" fill="#5fb82d" />
<rect x="171.75" y="366.05" width="17.75" height="1.75" fill="#5fb82d" />
<rect x="171.75" y="367.50" width="17.75" height="1.75" fill="#6ccf32" />
<rect x="171.75" y="368.95" width="17.75" height="1.75" fill="#53a027" />
<rect x="171.75" y="371.85" width="17.75" height="1.45" fill="#53a027" />
</g></g>
<rect x="52.30" y="375.60" width="15.95" height="2.00" fill="#efb468" />
<rect x="69.45" y="375.60" width="15.95" height="2.00" fill="#efb468" />
<rect x="86.60" y="375.60" width="15.95" height="2.00" fill="#efb468" />
<rect x="103.75" y="375.60" width="15.95" height="2.00" fill="#efb468" />
<rect x="120.90" y="375.60" width="15.95" height="2.00" fill="#e5891e" />
<rect x="138.05" y="375.60" width="15.95" height="2.00" fill="#e5891e" />
<rect x="155.20" y="375.60" width="15.95" height="2.00" fill="#e5891e" />
<rect x="172.35" y="375.60" width="15.95" height="2.00" fill="#e5891e" />
<text x="0" y="0" font-size="7.9" fill="#111" text-anchor="end" transform="translate(63.50,380.4) rotate(-90)" stroke="#111" stroke-width="0.2">wt</text>
<text x="0" y="0" font-size="7.9" fill="#111" text-anchor="end" transform="translate(78.90,380.4) rotate(-90)" stroke="#111" stroke-width="0.2">c-myc-KIE<tspan font-size="6.16" dy="1.1">μ</tspan></text>
<text x="0" y="0" font-size="7.9" fill="#111" text-anchor="end" transform="translate(95.10,380.4) rotate(-90)" stroke="#111" stroke-width="0.2">c-myc-KIC<tspan font-size="6.16" dy="1.1">μ</tspan></text>
<text x="0" y="0" font-size="7.9" fill="#111" text-anchor="end" transform="translate(111.60,380.4) rotate(-90)" stroke="#111" stroke-width="0.2">c-myc-KIC<tspan font-size="6.16" dy="1.1">α</tspan></text>
<text x="0" y="0" font-size="7.9" fill="#111" text-anchor="end" transform="translate(133.50,380.4) rotate(-90)" stroke="#111" stroke-width="0.2">wt</text>
<text x="0" y="0" font-size="7.9" fill="#111" text-anchor="end" transform="translate(148.70,380.4) rotate(-90)" stroke="#111" stroke-width="0.2">c-myc-KIE<tspan font-size="6.16" dy="1.1">μ</tspan></text>
<text x="0" y="0" font-size="7.9" fill="#111" text-anchor="end" transform="translate(165.20,380.4) rotate(-90)" stroke="#111" stroke-width="0.2">c-myc-KIC<tspan font-size="6.16" dy="1.1">μ</tspan></text>
<text x="0" y="0" font-size="7.9" fill="#111" text-anchor="end" transform="translate(182.10,380.4) rotate(-90)" stroke="#111" stroke-width="0.2">c-myc-KIC<tspan font-size="6.16" dy="1.1">α</tspan></text>
<path d="M51.1,424.59999999999997 V427.2 H119.6 V424.59999999999997" fill="none" stroke="#555" stroke-width="0.8"/>
<path d="M120.4,424.59999999999997 V427.2 H188.9 V424.59999999999997" fill="none" stroke="#555" stroke-width="0.8"/>
<text x="85.2" y="438.4" font-size="8.1" text-anchor="middle" fill="#111" font-weight="normal"  stroke="#111" stroke-width="0.2">Resting B cells</text>
<text x="154.7" y="438.4" font-size="8.1" text-anchor="middle" fill="#111" font-weight="normal"  stroke="#111" stroke-width="0.2">LPS-stimulated</text>
<text x="154.7" y="448.3" font-size="8.1" text-anchor="middle" fill="#111" font-weight="normal"  stroke="#111" stroke-width="0.2">B cells</text>
<rect x="194.80" y="233.20" width="3.60" height="2.29" fill="rgb(225,0,0)" />
<rect x="194.80" y="235.39" width="3.60" height="2.29" fill="rgb(185,0,0)" />
<rect x="194.80" y="237.58" width="3.60" height="2.29" fill="rgb(146,1,1)" />
<rect x="194.80" y="239.77" width="3.60" height="2.29" fill="rgb(107,2,2)" />
<rect x="194.80" y="241.97" width="3.60" height="2.29" fill="rgb(68,3,3)" />
<rect x="194.80" y="244.16" width="3.60" height="2.29" fill="rgb(29,4,4)" />
<rect x="194.80" y="246.35" width="3.60" height="2.29" fill="rgb(19,26,9)" />
<rect x="194.80" y="248.54" width="3.60" height="2.29" fill="rgb(40,70,17)" />
<rect x="194.80" y="250.73" width="3.60" height="2.29" fill="rgb(60,114,25)" />
<rect x="194.80" y="252.93" width="3.60" height="2.29" fill="rgb(80,157,33)" />
<rect x="194.80" y="255.12" width="3.60" height="2.29" fill="rgb(99,201,41)" />
<rect x="194.80" y="257.31" width="3.60" height="2.29" fill="rgb(120,245,50)" />
<text x="199.8" y="237.6" font-size="6.6" text-anchor="start" fill="#111" font-weight="normal"  stroke="#111" stroke-width="0.2">&gt;1.4</text>
<text x="199.8" y="248.4" font-size="6.6" text-anchor="start" fill="#111" font-weight="normal"  stroke="#111" stroke-width="0.2">0.1</text>
<text x="199.8" y="260.6" font-size="6.6" text-anchor="start" fill="#111" font-weight="normal"  stroke="#111" stroke-width="0.2">&lt;-1.2</text>
<path d="M77.42,265.20 V263.60 H94.58 V265.20" fill="none" stroke="#8a8a8a" stroke-width="0.6"/>
<path d="M86.00,263.60 V262.00 H111.72 V265.20" fill="none" stroke="#8a8a8a" stroke-width="0.6"/>
<path d="M60.28,265.20 V259.80 H98.86 V262.00" fill="none" stroke="#8a8a8a" stroke-width="0.6"/>
<path d="M163.18,265.20 V264.30 H180.32 V265.20" fill="none" stroke="#8a8a8a" stroke-width="0.6"/>
<path d="M146.02,265.20 V263.40 H171.75 V264.30" fill="none" stroke="#8a8a8a" stroke-width="0.6"/>
<path d="M128.88,265.20 V261.90 H158.89 V263.40" fill="none" stroke="#8a8a8a" stroke-width="0.6"/>
<path d="M79.57,259.80 V229.00 H143.88 V261.90" fill="none" stroke="#8a8a8a" stroke-width="0.6"/>
<path d="M50.90,266.34 H51.2" fill="none" stroke="#8a8a8a" stroke-width="0.6"/>
<path d="M50.90,267.99 H51.2" fill="none" stroke="#8a8a8a" stroke-width="0.6"/>
<path d="M50.90,266.34 H50.90 V267.99 H50.90" fill="none" stroke="#8a8a8a" stroke-width="0.6"/>
<path d="M50.90,269.51 H51.2" fill="none" stroke="#8a8a8a" stroke-width="0.6"/>
<path d="M50.90,267.17 H50.77 V269.51 H50.90" fill="none" stroke="#8a8a8a" stroke-width="0.6"/>
<path d="M50.90,271.13 H51.2" fill="none" stroke="#8a8a8a" stroke-width="0.6"/>
<path d="M50.90,272.94 H51.2" fill="none" stroke="#8a8a8a" stroke-width="0.6"/>
<path d="M50.90,271.13 H50.90 V272.94 H50.90" fill="none" stroke="#8a8a8a" stroke-width="0.6"/>
<path d="M50.77,268.34 H50.23 V272.03 H50.90" fill="none" stroke="#8a8a8a" stroke-width="0.6"/>
<path d="M50.90,275.27 H51.2" fill="none" stroke="#8a8a8a" stroke-width="0.6"/>
<path d="M50.90,277.18 H51.2" fill="none" stroke="#8a8a8a" stroke-width="0.6"/>
<path d="M50.90,275.27 H50.43 V277.18 H50.90" fill="none" stroke="#8a8a8a" stroke-width="0.6"/>
<path d="M50.90,278.54 H51.2" fill="none" stroke="#8a8a8a" stroke-width="0.6"/>
<path d="M50.90,279.86 H51.2" fill="none" stroke="#8a8a8a" stroke-width="0.6"/>
<path d="M50.90,278.54 H50.90 V279.86 H50.90" fill="none" stroke="#8a8a8a" stroke-width="0.6"/>
<path d="M50.43,276.23 H50.02 V279.20 H50.90" fill="none" stroke="#8a8a8a" stroke-width="0.6"/>
<path d="M50.23,270.18 H49.60 V277.71 H50.02" fill="none" stroke="#8a8a8a" stroke-width="0.6"/>
<path d="M49.6,271.3 H14.3 V305.3 H47.2" fill="none" stroke="#8a8a8a" stroke-width="0.6"/>
<path d="M50.90,281.53 H51.2" fill="none" stroke="#8a8a8a" stroke-width="0.6"/>
<path d="M50.90,283.13 H51.2" fill="none" stroke="#8a8a8a" stroke-width="0.6"/>
<path d="M50.90,284.45 H51.2" fill="none" stroke="#8a8a8a" stroke-width="0.6"/>
<path d="M50.90,283.13 H50.90 V284.45 H50.90" fill="none" stroke="#8a8a8a" stroke-width="0.6"/>
<path d="M50.90,281.53 H50.71 V283.79 H50.90" fill="none" stroke="#8a8a8a" stroke-width="0.6"/>
<path d="M50.90,286.20 H51.2" fill="none" stroke="#8a8a8a" stroke-width="0.6"/>
<path d="M50.90,287.78 H51.2" fill="none" stroke="#8a8a8a" stroke-width="0.6"/>
<path d="M50.90,286.20 H50.73 V287.78 H50.90" fill="none" stroke="#8a8a8a" stroke-width="0.6"/>
<path d="M50.71,282.66 H50.26 V286.99 H50.73" fill="none" stroke="#8a8a8a" stroke-width="0.6"/>
<path d="M50.90,289.59 H51.2" fill="none" stroke="#8a8a8a" stroke-width="0.6"/>
<path d="M50.90,291.91 H51.2" fill="none" stroke="#8a8a8a" stroke-width="0.6"/>
<path d="M50.90,289.59 H50.56 V291.91 H50.90" fill="none" stroke="#8a8a8a" stroke-width="0.6"/>
<path d="M50.26,284.83 H49.65 V290.75 H50.56" fill="none" stroke="#8a8a8a" stroke-width="0.6"/>
<path d="M50.53,294.11 H51.2" fill="none" stroke="#8a8a8a" stroke-width="0.6"/>
<path d="M50.83,296.30 H51.2" fill="none" stroke="#8a8a8a" stroke-width="0.6"/>
<path d="M50.53,294.11 H50.22 V296.30 H50.83" fill="none" stroke="#8a8a8a" stroke-width="0.6"/>
<path d="M50.54,297.91 H51.2" fill="none" stroke="#8a8a8a" stroke-width="0.6"/>
<path d="M50.90,299.22 H51.2" fill="none" stroke="#8a8a8a" stroke-width="0.6"/>
<path d="M50.54,297.91 H50.24 V299.22 H50.90" fill="none" stroke="#8a8a8a" stroke-width="0.6"/>
<path d="M50.22,295.21 H49.57 V298.56 H50.24" fill="none" stroke="#8a8a8a" stroke-width="0.6"/>
<path d="M49.65,287.79 H48.90 V296.89 H49.57" fill="none" stroke="#8a8a8a" stroke-width="0.6"/>
<path d="M50.90,301.18 H51.2" fill="none" stroke="#8a8a8a" stroke-width="0.6"/>
<path d="M50.43,303.46 H51.2" fill="none" stroke="#8a8a8a" stroke-width="0.6"/>
<path d="M50.90,301.18 H50.06 V303.46 H50.43" fill="none" stroke="#8a8a8a" stroke-width="0.6"/>
<path d="M50.67,305.67 H51.2" fill="none" stroke="#8a8a8a" stroke-width="0.6"/>
<path d="M50.69,307.81 H51.2" fill="none" stroke="#8a8a8a" stroke-width="0.6"/>
<path d="M50.67,305.67 H50.19 V307.81 H50.69" fill="none" stroke="#8a8a8a" stroke-width="0.6"/>
<path d="M50.06,302.32 H49.53 V306.74 H50.19" fill="none" stroke="#8a8a8a" stroke-width="0.6"/>
<path d="M50.90,310.02 H51.2" fill="none" stroke="#8a8a8a" stroke-width="0.6"/>
<path d="M50.90,312.23 H51.2" fill="none" stroke="#8a8a8a" stroke-width="0.6"/>
<path d="M50.90,310.02 H50.90 V312.23 H50.90" fill="none" stroke="#8a8a8a" stroke-width="0.6"/>
<path d="M50.90,314.16 H51.2" fill="none" stroke="#8a8a8a" stroke-width="0.6"/>
<path d="M50.90,315.78 H51.2" fill="none" stroke="#8a8a8a" stroke-width="0.6"/>
<path d="M50.90,314.16 H50.90 V315.78 H50.90" fill="none" stroke="#8a8a8a" stroke-width="0.6"/>
<path d="M50.90,311.12 H50.36 V314.97 H50.90" fill="none" stroke="#8a8a8a" stroke-width="0.6"/>
<path d="M50.90,317.33 H51.2" fill="none" stroke="#8a8a8a" stroke-width="0.6"/>
<path d="M50.90,318.68 H51.2" fill="none" stroke="#8a8a8a" stroke-width="0.6"/>
<path d="M50.90,317.33 H50.90 V318.68 H50.90" fill="none" stroke="#8a8a8a" stroke-width="0.6"/>
<path d="M50.90,319.93 H51.2" fill="none" stroke="#8a8a8a" stroke-width="0.6"/>
<path d="M50.90,321.33 H51.2" fill="none" stroke="#8a8a8a" stroke-width="0.6"/>
<path d="M50.90,319.93 H50.90 V321.33 H50.90" fill="none" stroke="#8a8a8a" stroke-width="0.6"/>
<path d="M50.90,318.01 H50.40 V320.63 H50.90" fill="none" stroke="#8a8a8a" stroke-width="0.6"/>
<path d="M50.36,313.05 H49.71 V319.32 H50.40" fill="none" stroke="#8a8a8a" stroke-width="0.6"/>
<path d="M49.53,304.53 H48.90 V316.18 H49.71" fill="none" stroke="#8a8a8a" stroke-width="0.6"/>
<path d="M50.90,322.81 H51.2" fill="none" stroke="#8a8a8a" stroke-width="0.6"/>
<path d="M50.90,324.85 H51.2" fill="none" stroke="#8a8a8a" stroke-width="0.6"/>
<path d="M50.90,322.81 H50.90 V324.85 H50.90" fill="none" stroke="#8a8a8a" stroke-width="0.6"/>
<path d="M50.90,326.73 H51.2" fill="none" stroke="#8a8a8a" stroke-width="0.6"/>
<path d="M50.90,328.39 H51.2" fill="none" stroke="#8a8a8a" stroke-width="0.6"/>
<path d="M50.90,326.73 H50.90 V328.39 H50.90" fill="none" stroke="#8a8a8a" stroke-width="0.6"/>
<path d="M50.90,323.83 H50.25 V327.56 H50.90" fill="none" stroke="#8a8a8a" stroke-width="0.6"/>
<path d="M50.90,329.92 H51.2" fill="none" stroke="#8a8a8a" stroke-width="0.6"/>
<path d="M50.90,331.21 H51.2" fill="none" stroke="#8a8a8a" stroke-width="0.6"/>
<path d="M50.90,329.92 H50.90 V331.21 H50.90" fill="none" stroke="#8a8a8a" stroke-width="0.6"/>
<path d="M50.90,332.57 H51.2" fill="none" stroke="#8a8a8a" stroke-width="0.6"/>
<path d="M50.90,333.88 H51.2" fill="none" stroke="#8a8a8a" stroke-width="0.6"/>
<path d="M50.90,332.57 H50.90 V333.88 H50.90" fill="none" stroke="#8a8a8a" stroke-width="0.6"/>
<path d="M50.90,330.56 H50.90 V333.23 H50.90" fill="none" stroke="#8a8a8a" stroke-width="0.6"/>
<path d="M50.90,335.60 H51.2" fill="none" stroke="#8a8a8a" stroke-width="0.6"/>
<path d="M50.90,337.67 H51.2" fill="none" stroke="#8a8a8a" stroke-width="0.6"/>
<path d="M50.90,335.60 H50.90 V337.67 H50.90" fill="none" stroke="#8a8a8a" stroke-width="0.6"/>
<path d="M50.90,339.59 H51.2" fill="none" stroke="#8a8a8a" stroke-width="0.6"/>
<path d="M50.90,341.18 H51.2" fill="none" stroke="#8a8a8a" stroke-width="0.6"/>
<path d="M50.90,339.59 H50.90 V341.18 H50.90" fill="none" stroke="#8a8a8a" stroke-width="0.6"/>
<path d="M50.90,336.64 H50.72 V340.38 H50.90" fill="none" stroke="#8a8a8a" stroke-width="0.6"/>
<path d="M50.90,331.90 H50.14 V338.51 H50.72" fill="none" stroke="#8a8a8a" stroke-width="0.6"/>
<path d="M50.25,325.69 H49.79 V335.20 H50.14" fill="none" stroke="#8a8a8a" stroke-width="0.6"/>
<path d="M50.90,342.97 H51.2" fill="none" stroke="#8a8a8a" stroke-width="0.6"/>
<path d="M50.90,345.20 H51.2" fill="none" stroke="#8a8a8a" stroke-width="0.6"/>
<path d="M50.90,342.97 H50.90 V345.20 H50.90" fill="none" stroke="#8a8a8a" stroke-width="0.6"/>
<path d="M50.90,347.04 H51.2" fill="none" stroke="#8a8a8a" stroke-width="0.6"/>
<path d="M50.90,348.63 H51.2" fill="none" stroke="#8a8a8a" stroke-width="0.6"/>
<path d="M50.90,347.04 H50.90 V348.63 H50.90" fill="none" stroke="#8a8a8a" stroke-width="0.6"/>
<path d="M50.90,344.08 H50.90 V347.84 H50.90" fill="none" stroke="#8a8a8a" stroke-width="0.6"/>
<path d="M50.90,350.72 H51.2" fill="none" stroke="#8a8a8a" stroke-width="0.6"/>
<path d="M50.90,352.67 H51.2" fill="none" stroke="#8a8a8a" stroke-width="0.6"/>
<path d="M50.90,354.18 H51.2" fill="none" stroke="#8a8a8a" stroke-width="0.6"/>
<path d="M50.90,355.46 H51.2" fill="none" stroke="#8a8a8a" stroke-width="0.6"/>
<path d="M50.90,354.18 H50.90 V355.46 H50.90" fill="none" stroke="#8a8a8a" stroke-width="0.6"/>
<path d="M50.90,352.67 H50.90 V354.82 H50.90" fill="none" stroke="#8a8a8a" stroke-width="0.6"/>
<path d="M50.90,350.72 H50.90 V353.75 H50.90" fill="none" stroke="#8a8a8a" stroke-width="0.6"/>
<path d="M50.90,357.09 H51.2" fill="none" stroke="#8a8a8a" stroke-width="0.6"/>
<path d="M50.90,359.02 H51.2" fill="none" stroke="#8a8a8a" stroke-width="0.6"/>
<path d="M50.90,360.89 H51.2" fill="none" stroke="#8a8a8a" stroke-width="0.6"/>
<path d="M50.90,359.02 H50.90 V360.89 H50.90" fill="none" stroke="#8a8a8a" stroke-width="0.6"/>
<path d="M50.90,357.09 H50.90 V359.96 H50.90" fill="none" stroke="#8a8a8a" stroke-width="0.6"/>
<path d="M50.90,352.23 H50.90 V358.52 H50.90" fill="none" stroke="#8a8a8a" stroke-width="0.6"/>
<path d="M50.90,345.96 H50.86 V355.38 H50.90" fill="none" stroke="#8a8a8a" stroke-width="0.6"/>
<path d="M50.90,362.91 H51.2" fill="none" stroke="#8a8a8a" stroke-width="0.6"/>
<path d="M50.90,364.41 H51.2" fill="none" stroke="#8a8a8a" stroke-width="0.6"/>
<path d="M50.90,365.77 H51.2" fill="none" stroke="#8a8a8a" stroke-width="0.6"/>
<path d="M50.90,364.41 H50.90 V365.77 H50.90" fill="none" stroke="#8a8a8a" stroke-width="0.6"/>
<path d="M50.90,362.91 H50.90 V365.09 H50.90" fill="none" stroke="#8a8a8a" stroke-width="0.6"/>
<path d="M50.90,367.33 H51.2" fill="none" stroke="#8a8a8a" stroke-width="0.6"/>
<path d="M50.90,368.71 H51.2" fill="none" stroke="#8a8a8a" stroke-width="0.6"/>
<path d="M50.90,367.33 H50.90 V368.71 H50.90" fill="none" stroke="#8a8a8a" stroke-width="0.6"/>
<path d="M50.90,370.03 H51.2" fill="none" stroke="#8a8a8a" stroke-width="0.6"/>
<path d="M50.90,371.77 H51.2" fill="none" stroke="#8a8a8a" stroke-width="0.6"/>
<path d="M50.90,370.03 H50.90 V371.77 H50.90" fill="none" stroke="#8a8a8a" stroke-width="0.6"/>
<path d="M50.90,368.02 H50.90 V370.90 H50.90" fill="none" stroke="#8a8a8a" stroke-width="0.6"/>
<path d="M50.90,364.00 H50.90 V369.46 H50.90" fill="none" stroke="#8a8a8a" stroke-width="0.6"/>
<path d="M50.86,350.67 H50.01 V366.73 H50.90" fill="none" stroke="#8a8a8a" stroke-width="0.6"/>
<path d="M49.79,330.45 H49.40 V358.70 H50.01" fill="none" stroke="#8a8a8a" stroke-width="0.6"/>
<path d="M48.9,292.34 H47.9 V310.36 H48.9" fill="none" stroke="#8a8a8a" stroke-width="0.6"/>
<path d="M47.9,300 H47.2 V344.57 H49.4" fill="none" stroke="#8a8a8a" stroke-width="0.6"/>
<rect x="251.30" y="305.43" width="10.60" height="7.68" fill="#ad0a2e" />
<rect x="264.10" y="309.72" width="10.60" height="3.38" fill="#ad0a2e" />
<rect x="276.90" y="308.19" width="10.60" height="4.91" fill="#ad0a2e" />
<rect x="289.70" y="306.04" width="10.60" height="7.06" fill="#ad0a2e" />
<rect x="302.50" y="263.98" width="10.60" height="49.12" fill="#2c4a82" />
<rect x="315.30" y="247.10" width="10.60" height="66.00" fill="#2c4a82" />
<rect x="328.10" y="280.25" width="10.60" height="32.85" fill="#2c4a82" />
<rect x="340.90" y="284.55" width="10.60" height="28.55" fill="#2c4a82" />
<line x1="247.4" y1="248.5" x2="247.4" y2="313.6" stroke="#000" stroke-width="1.1" />
<line x1="246.9" y1="313.1" x2="354.50000000000006" y2="313.1" stroke="#000" stroke-width="1.1" />
<line x1="244.0" y1="313.1" x2="247.4" y2="313.1" stroke="#000" stroke-width="1" />
<text x="241.5" y="315.90000000000003" font-size="7.9" text-anchor="end" fill="#111" font-weight="normal"  stroke="#111" stroke-width="0.2">0</text>
<line x1="244.0" y1="297.75" x2="247.4" y2="297.75" stroke="#000" stroke-width="1" />
<text x="241.5" y="300.55" font-size="7.9" text-anchor="end" fill="#111" font-weight="normal"  stroke="#111" stroke-width="0.2">5</text>
<line x1="244.0" y1="282.40000000000003" x2="247.4" y2="282.40000000000003" stroke="#000" stroke-width="1" />
<text x="241.5" y="285.20000000000005" font-size="7.9" text-anchor="end" fill="#111" font-weight="normal"  stroke="#111" stroke-width="0.2">10</text>
<line x1="244.0" y1="267.05" x2="247.4" y2="267.05" stroke="#000" stroke-width="1" />
<text x="241.5" y="269.85" font-size="7.9" text-anchor="end" fill="#111" font-weight="normal"  stroke="#111" stroke-width="0.2">15</text>
<line x1="244.0" y1="251.70000000000002" x2="247.4" y2="251.70000000000002" stroke="#000" stroke-width="1" />
<text x="241.5" y="254.50000000000003" font-size="7.9" text-anchor="end" fill="#111" font-weight="normal"  stroke="#111" stroke-width="0.2">20</text>
<line x1="256.6" y1="313.1" x2="256.6" y2="315.90000000000003" stroke="#000" stroke-width="1" />
<line x1="269.40000000000003" y1="313.1" x2="269.40000000000003" y2="315.90000000000003" stroke="#000" stroke-width="1" />
<line x1="282.20000000000005" y1="313.1" x2="282.20000000000005" y2="315.90000000000003" stroke="#000" stroke-width="1" />
<line x1="295.00000000000006" y1="313.1" x2="295.00000000000006" y2="315.90000000000003" stroke="#000" stroke-width="1" />
<line x1="307.8" y1="313.1" x2="307.8" y2="315.90000000000003" stroke="#000" stroke-width="1" />
<line x1="320.6" y1="313.1" x2="320.6" y2="315.90000000000003" stroke="#000" stroke-width="1" />
<line x1="333.40000000000003" y1="313.1" x2="333.40000000000003" y2="315.90000000000003" stroke="#000" stroke-width="1" />
<line x1="346.20000000000005" y1="313.1" x2="346.20000000000005" y2="315.90000000000003" stroke="#000" stroke-width="1" />
<text x="289.2" y="241.6" font-size="9.3" text-anchor="start" fill="#111" font-weight="normal"  stroke="#111" stroke-width="0.2">Aicda</text>
<rect x="395.90" y="289.10" width="10.60" height="24.00" fill="#ad0a2e" />
<rect x="408.70" y="296.10" width="10.60" height="17.00" fill="#ad0a2e" />
<rect x="421.50" y="294.13" width="10.60" height="18.97" fill="#ad0a2e" />
<rect x="434.30" y="294.79" width="10.60" height="18.31" fill="#ad0a2e" />
<rect x="447.10" y="259.47" width="10.60" height="53.63" fill="#2c4a82" />
<rect x="459.90" y="273.86" width="10.60" height="39.24" fill="#2c4a82" />
<rect x="472.70" y="247.05" width="10.60" height="66.05" fill="#2c4a82" />
<rect x="485.50" y="254.24" width="10.60" height="58.86" fill="#2c4a82" />
<line x1="392.3" y1="245.8" x2="392.3" y2="313.6" stroke="#000" stroke-width="1.1" />
<line x1="391.8" y1="313.1" x2="499.1" y2="313.1" stroke="#000" stroke-width="1.1" />
<line x1="388.90000000000003" y1="313.1" x2="392.3" y2="313.1" stroke="#000" stroke-width="1" />
<text x="386.40000000000003" y="315.90000000000003" font-size="7.9" text-anchor="end" fill="#111" font-weight="normal"  stroke="#111" stroke-width="0.2">0</text>
<line x1="388.90000000000003" y1="300.02000000000004" x2="392.3" y2="300.02000000000004" stroke="#000" stroke-width="1" />
<text x="386.40000000000003" y="302.82000000000005" font-size="7.9" text-anchor="end" fill="#111" font-weight="normal"  stroke="#111" stroke-width="0.2">20</text>
<line x1="388.90000000000003" y1="286.94" x2="392.3" y2="286.94" stroke="#000" stroke-width="1" />
<text x="386.40000000000003" y="289.74" font-size="7.9" text-anchor="end" fill="#111" font-weight="normal"  stroke="#111" stroke-width="0.2">40</text>
<line x1="388.90000000000003" y1="273.86" x2="392.3" y2="273.86" stroke="#000" stroke-width="1" />
<text x="386.40000000000003" y="276.66" font-size="7.9" text-anchor="end" fill="#111" font-weight="normal"  stroke="#111" stroke-width="0.2">60</text>
<line x1="388.90000000000003" y1="260.78000000000003" x2="392.3" y2="260.78000000000003" stroke="#000" stroke-width="1" />
<text x="386.40000000000003" y="263.58000000000004" font-size="7.9" text-anchor="end" fill="#111" font-weight="normal"  stroke="#111" stroke-width="0.2">80</text>
<line x1="388.90000000000003" y1="247.70000000000002" x2="392.3" y2="247.70000000000002" stroke="#000" stroke-width="1" />
<text x="386.40000000000003" y="250.50000000000003" font-size="7.9" text-anchor="end" fill="#111" font-weight="normal"  stroke="#111" stroke-width="0.2">100</text>
<line x1="401.2" y1="313.1" x2="401.2" y2="315.90000000000003" stroke="#000" stroke-width="1" />
<line x1="414.0" y1="313.1" x2="414.0" y2="315.90000000000003" stroke="#000" stroke-width="1" />
<line x1="426.8" y1="313.1" x2="426.8" y2="315.90000000000003" stroke="#000" stroke-width="1" />
<line x1="439.59999999999997" y1="313.1" x2="439.59999999999997" y2="315.90000000000003" stroke="#000" stroke-width="1" />
<line x1="452.4" y1="313.1" x2="452.4" y2="315.90000000000003" stroke="#000" stroke-width="1" />
<line x1="465.2" y1="313.1" x2="465.2" y2="315.90000000000003" stroke="#000" stroke-width="1" />
<line x1="478.0" y1="313.1" x2="478.0" y2="315.90000000000003" stroke="#000" stroke-width="1" />
<line x1="490.8" y1="313.1" x2="490.8" y2="315.90000000000003" stroke="#000" stroke-width="1" />
<text x="433.0" y="239.6" font-size="8.4" text-anchor="start" fill="#111" font-weight="normal"  stroke="#111" stroke-width="0.2">Exosc3</text>
<rect x="251.40" y="348.97" width="10.60" height="65.63" fill="#ad0a2e" />
<rect x="264.20" y="375.06" width="10.60" height="39.54" fill="#ad0a2e" />
<rect x="277.00" y="362.27" width="10.60" height="52.33" fill="#ad0a2e" />
<rect x="289.80" y="379.72" width="10.60" height="34.88" fill="#ad0a2e" />
<rect x="302.60" y="400.39" width="10.60" height="14.21" fill="#2c4a82" />
<rect x="315.40" y="407.62" width="10.60" height="6.98" fill="#2c4a82" />
<rect x="328.20" y="405.56" width="10.60" height="9.04" fill="#2c4a82" />
<rect x="341.00" y="405.81" width="10.60" height="8.79" fill="#2c4a82" />
<line x1="247.9" y1="347.9" x2="247.9" y2="415.1" stroke="#000" stroke-width="1.1" />
<line x1="247.4" y1="414.6" x2="354.6" y2="414.6" stroke="#000" stroke-width="1.1" />
<line x1="244.5" y1="414.6" x2="247.9" y2="414.6" stroke="#000" stroke-width="1" />
<text x="242.0" y="417.40000000000003" font-size="7.9" text-anchor="end" fill="#111" font-weight="normal"  stroke="#111" stroke-width="0.2">0</text>
<line x1="244.5" y1="401.68" x2="247.9" y2="401.68" stroke="#000" stroke-width="1" />
<text x="242.0" y="404.48" font-size="7.9" text-anchor="end" fill="#111" font-weight="normal"  stroke="#111" stroke-width="0.2">10</text>
<line x1="244.5" y1="388.76000000000005" x2="247.9" y2="388.76000000000005" stroke="#000" stroke-width="1" />
<text x="242.0" y="391.56000000000006" font-size="7.9" text-anchor="end" fill="#111" font-weight="normal"  stroke="#111" stroke-width="0.2">20</text>
<line x1="244.5" y1="375.84000000000003" x2="247.9" y2="375.84000000000003" stroke="#000" stroke-width="1" />
<text x="242.0" y="378.64000000000004" font-size="7.9" text-anchor="end" fill="#111" font-weight="normal"  stroke="#111" stroke-width="0.2">30</text>
<line x1="244.5" y1="362.92" x2="247.9" y2="362.92" stroke="#000" stroke-width="1" />
<text x="242.0" y="365.72" font-size="7.9" text-anchor="end" fill="#111" font-weight="normal"  stroke="#111" stroke-width="0.2">40</text>
<line x1="244.5" y1="350.0" x2="247.9" y2="350.0" stroke="#000" stroke-width="1" />
<text x="242.0" y="352.8" font-size="7.9" text-anchor="end" fill="#111" font-weight="normal"  stroke="#111" stroke-width="0.2">50</text>
<line x1="256.7" y1="414.6" x2="256.7" y2="417.40000000000003" stroke="#000" stroke-width="1" />
<line x1="269.5" y1="414.6" x2="269.5" y2="417.40000000000003" stroke="#000" stroke-width="1" />
<line x1="282.3" y1="414.6" x2="282.3" y2="417.40000000000003" stroke="#000" stroke-width="1" />
<line x1="295.1" y1="414.6" x2="295.1" y2="417.40000000000003" stroke="#000" stroke-width="1" />
<line x1="307.90000000000003" y1="414.6" x2="307.90000000000003" y2="417.40000000000003" stroke="#000" stroke-width="1" />
<line x1="320.7" y1="414.6" x2="320.7" y2="417.40000000000003" stroke="#000" stroke-width="1" />
<line x1="333.50000000000006" y1="414.6" x2="333.50000000000006" y2="417.40000000000003" stroke="#000" stroke-width="1" />
<line x1="346.3" y1="414.6" x2="346.3" y2="417.40000000000003" stroke="#000" stroke-width="1" />
<text x="290.7" y="342.2" font-size="9.8" text-anchor="start" fill="#111" font-weight="normal"  stroke="#111" stroke-width="0.2">Ccr6</text>
<rect x="396.40" y="383.60" width="10.60" height="30.80" fill="#ad0a2e" />
<rect x="409.45" y="385.70" width="10.60" height="28.70" fill="#ad0a2e" />
<rect x="422.50" y="394.80" width="10.60" height="19.60" fill="#ad0a2e" />
<rect x="435.55" y="394.80" width="10.60" height="19.60" fill="#ad0a2e" />
<rect x="448.60" y="369.95" width="10.60" height="44.45" fill="#2c4a82" />
<rect x="461.65" y="362.95" width="10.60" height="51.45" fill="#2c4a82" />
<rect x="474.70" y="347.20" width="10.60" height="67.20" fill="#2c4a82" />
<rect x="487.75" y="359.45" width="10.60" height="54.95" fill="#2c4a82" />
<line x1="392.3" y1="359.5" x2="392.3" y2="414.9" stroke="#000" stroke-width="1.1" />
<line x1="391.8" y1="414.4" x2="501.35" y2="414.4" stroke="#000" stroke-width="1.1" />
<line x1="388.90000000000003" y1="414.4" x2="392.3" y2="414.4" stroke="#000" stroke-width="1" />
<text x="386.40000000000003" y="417.2" font-size="7.9" text-anchor="end" fill="#111" font-weight="normal"  stroke="#111" stroke-width="0.2">0</text>
<line x1="388.90000000000003" y1="396.9" x2="392.3" y2="396.9" stroke="#000" stroke-width="1" />
<text x="386.40000000000003" y="399.7" font-size="7.9" text-anchor="end" fill="#111" font-weight="normal"  stroke="#111" stroke-width="0.2">5</text>
<line x1="388.90000000000003" y1="379.4" x2="392.3" y2="379.4" stroke="#000" stroke-width="1" />
<text x="386.40000000000003" y="382.2" font-size="7.9" text-anchor="end" fill="#111" font-weight="normal"  stroke="#111" stroke-width="0.2">10</text>
<line x1="388.90000000000003" y1="361.9" x2="392.3" y2="361.9" stroke="#000" stroke-width="1" />
<text x="386.40000000000003" y="364.7" font-size="7.9" text-anchor="end" fill="#111" font-weight="normal"  stroke="#111" stroke-width="0.2">15</text>
<line x1="401.7" y1="414.4" x2="401.7" y2="417.2" stroke="#000" stroke-width="1" />
<line x1="414.75" y1="414.4" x2="414.75" y2="417.2" stroke="#000" stroke-width="1" />
<line x1="427.8" y1="414.4" x2="427.8" y2="417.2" stroke="#000" stroke-width="1" />
<line x1="440.84999999999997" y1="414.4" x2="440.84999999999997" y2="417.2" stroke="#000" stroke-width="1" />
<line x1="453.9" y1="414.4" x2="453.9" y2="417.2" stroke="#000" stroke-width="1" />
<line x1="466.95" y1="414.4" x2="466.95" y2="417.2" stroke="#000" stroke-width="1" />
<line x1="480.0" y1="414.4" x2="480.0" y2="417.2" stroke="#000" stroke-width="1" />
<line x1="493.05" y1="414.4" x2="493.05" y2="417.2" stroke="#000" stroke-width="1" />
<text x="433.0" y="341.6" font-size="9.5" text-anchor="start" fill="#111" font-weight="normal"  stroke="#111" stroke-width="0.2">Cdh17</text>
<text x="0" y="0" font-size="7.9" fill="#111" text-anchor="end" transform="translate(260.40,420.4) rotate(-90)" stroke="#111" stroke-width="0.2">wt</text>
<text x="0" y="0" font-size="7.9" fill="#111" text-anchor="end" transform="translate(271.80,420.4) rotate(-90)" stroke="#111" stroke-width="0.2">c-myc-KIE<tspan font-size="6.16" dy="1.1">μ</tspan></text>
<text x="0" y="0" font-size="7.9" fill="#111" text-anchor="end" transform="translate(284.60,420.4) rotate(-90)" stroke="#111" stroke-width="0.2">c-myc-KIC<tspan font-size="6.16" dy="1.1">α</tspan></text>
<text x="0" y="0" font-size="7.9" fill="#111" text-anchor="end" transform="translate(297.40,420.4) rotate(-90)" stroke="#111" stroke-width="0.2">c-myc-KIC<tspan font-size="6.16" dy="1.1">μ</tspan></text>
<text x="0" y="0" font-size="7.9" fill="#111" text-anchor="end" transform="translate(311.60,420.4) rotate(-90)" stroke="#111" stroke-width="0.2">wt</text>
<text x="0" y="0" font-size="7.9" fill="#111" text-anchor="end" transform="translate(323.00,420.4) rotate(-90)" stroke="#111" stroke-width="0.2">c-myc-KIE<tspan font-size="6.16" dy="1.1">μ</tspan></text>
<text x="0" y="0" font-size="7.9" fill="#111" text-anchor="end" transform="translate(335.80,420.4) rotate(-90)" stroke="#111" stroke-width="0.2">c-myc-KIC<tspan font-size="6.16" dy="1.1">α</tspan></text>
<text x="0" y="0" font-size="7.9" fill="#111" text-anchor="end" transform="translate(348.60,420.4) rotate(-90)" stroke="#111" stroke-width="0.2">c-myc-KIC<tspan font-size="6.16" dy="1.1">μ</tspan></text>
<text x="0" y="0" font-size="7.9" fill="#111" text-anchor="end" transform="translate(405.40,420.2) rotate(-90)" stroke="#111" stroke-width="0.2">wt</text>
<text x="0" y="0" font-size="7.9" fill="#111" text-anchor="end" transform="translate(417.05,420.2) rotate(-90)" stroke="#111" stroke-width="0.2">c-myc-KIE<tspan font-size="6.16" dy="1.1">μ</tspan></text>
<text x="0" y="0" font-size="7.9" fill="#111" text-anchor="end" transform="translate(430.10,420.2) rotate(-90)" stroke="#111" stroke-width="0.2">c-myc-KIC<tspan font-size="6.16" dy="1.1">α</tspan></text>
<text x="0" y="0" font-size="7.9" fill="#111" text-anchor="end" transform="translate(443.15,420.2) rotate(-90)" stroke="#111" stroke-width="0.2">c-myc-KIC<tspan font-size="6.16" dy="1.1">μ</tspan></text>
<text x="0" y="0" font-size="7.9" fill="#111" text-anchor="end" transform="translate(457.60,420.2) rotate(-90)" stroke="#111" stroke-width="0.2">wt</text>
<text x="0" y="0" font-size="7.9" fill="#111" text-anchor="end" transform="translate(469.25,420.2) rotate(-90)" stroke="#111" stroke-width="0.2">c-myc-KIE<tspan font-size="6.16" dy="1.1">μ</tspan></text>
<text x="0" y="0" font-size="7.9" fill="#111" text-anchor="end" transform="translate(482.30,420.2) rotate(-90)" stroke="#111" stroke-width="0.2">c-myc-KIC<tspan font-size="6.16" dy="1.1">α</tspan></text>
<text x="0" y="0" font-size="7.9" fill="#111" text-anchor="end" transform="translate(495.35,420.2) rotate(-90)" stroke="#111" stroke-width="0.2">c-myc-KIC<tspan font-size="6.16" dy="1.1">μ</tspan></text>
<path d="M250.5,465.2 V467.8 H355.5 V465.2 M303.0,467.8 V465.2" fill="none" stroke="#555" stroke-width="0.8"/>
<path d="M396.3,465.2 V467.8 H501.5 V465.2 M449.2,467.8 V465.2" fill="none" stroke="#555" stroke-width="0.8"/>
<text x="276.6" y="479.9" font-size="8.0" text-anchor="middle" fill="#111" font-weight="normal"  stroke="#111" stroke-width="0.2">Resting</text>
<text x="276.6" y="489.9" font-size="8.0" text-anchor="middle" fill="#111" font-weight="normal"  stroke="#111" stroke-width="0.2">B cells</text>
<text x="329.2" y="479.9" font-size="8.0" text-anchor="middle" fill="#111" font-weight="normal"  stroke="#111" stroke-width="0.2">LPS-stimulated</text>
<text x="329.2" y="489.9" font-size="8.0" text-anchor="middle" fill="#111" font-weight="normal"  stroke="#111" stroke-width="0.2">B cells</text>
<text x="422.4" y="479.9" font-size="8.0" text-anchor="middle" fill="#111" font-weight="normal"  stroke="#111" stroke-width="0.2">Resting</text>
<text x="422.4" y="489.9" font-size="8.0" text-anchor="middle" fill="#111" font-weight="normal"  stroke="#111" stroke-width="0.2">B cells</text>
<text x="475.6" y="479.9" font-size="8.0" text-anchor="middle" fill="#111" font-weight="normal"  stroke="#111" stroke-width="0.2">LPS-stimulated</text>
<text x="475.6" y="489.9" font-size="8.0" text-anchor="middle" fill="#111" font-weight="normal"  stroke="#111" stroke-width="0.2">B cells</text>
</g>
</svg>
</body></html>
